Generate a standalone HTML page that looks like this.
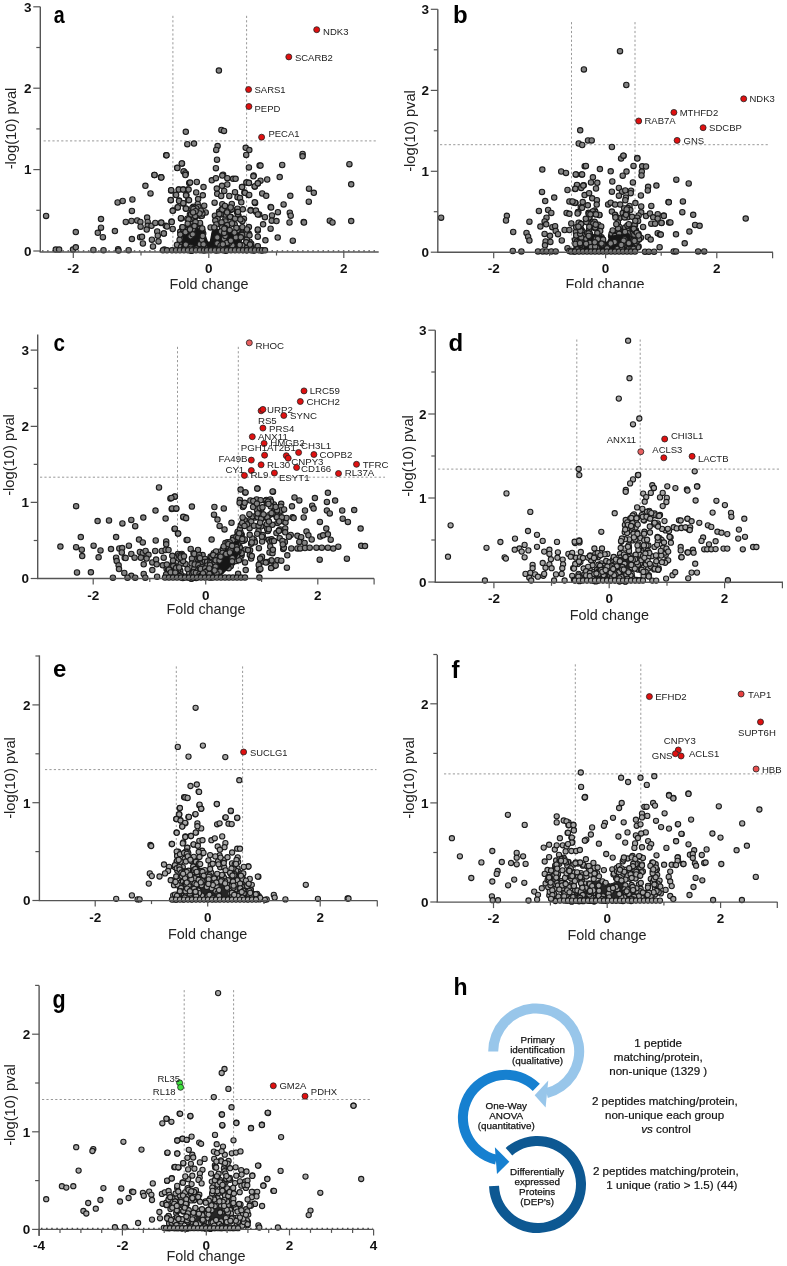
<!DOCTYPE html>
<html><head><meta charset="utf-8"><style>
html,body{margin:0;padding:0;background:#fff;}
svg{display:block;will-change:transform;}
text{font-family:"Liberation Sans", sans-serif;}
</style></head><body>
<svg width="787" height="1266" viewBox="0 0 787 1266">
<rect width="787" height="1266" fill="#fff"/>
<line x1="172.9" y1="15.8" x2="172.9" y2="252" stroke="#999" stroke-width="1" stroke-dasharray="2.2,2.2"/>
<line x1="246.6" y1="15.8" x2="246.6" y2="252" stroke="#999" stroke-width="1" stroke-dasharray="2.2,2.2"/>
<line x1="43.6" y1="140.9" x2="378" y2="140.9" stroke="#999" stroke-width="1" stroke-dasharray="2.2,2.2"/>
<line x1="42" y1="250.8" x2="378" y2="250.8" stroke="#444" stroke-width="1.2" stroke-dasharray="1.5,3.6"/>
<g fill="#838383" stroke="#1a1a1a" stroke-width="1.1">
<circle cx="46.1" cy="215.9" r="2.7"/>
<circle cx="75.8" cy="232.1" r="2.7"/>
<circle cx="55.8" cy="249.6" r="2.7"/>
<circle cx="59.1" cy="249.6" r="2.7"/>
<circle cx="73.0" cy="249.6" r="2.7"/>
<circle cx="75.8" cy="247.3" r="2.7"/>
<circle cx="93.4" cy="250.0" r="2.7"/>
<circle cx="103.5" cy="250.2" r="2.7"/>
<circle cx="118.1" cy="249.2" r="2.7"/>
<circle cx="118.5" cy="250.6" r="2.7"/>
<circle cx="128.6" cy="250.2" r="2.7"/>
<circle cx="101.0" cy="219.1" r="2.7"/>
<circle cx="101.0" cy="227.7" r="2.7"/>
<circle cx="97.8" cy="232.8" r="2.7"/>
<circle cx="102.9" cy="237.2" r="2.7"/>
<circle cx="114.9" cy="231.1" r="2.7"/>
<circle cx="117.6" cy="202.5" r="2.7"/>
<circle cx="122.7" cy="201.0" r="2.7"/>
<circle cx="132.4" cy="199.5" r="2.7"/>
<circle cx="131.9" cy="210.9" r="2.7"/>
<circle cx="125.8" cy="222.0" r="2.7"/>
<circle cx="131.5" cy="221.0" r="2.7"/>
<circle cx="137.2" cy="220.5" r="2.7"/>
<circle cx="131.9" cy="239.1" r="2.7"/>
<circle cx="140.4" cy="222.0" r="2.7"/>
<circle cx="140.6" cy="226.7" r="2.7"/>
<circle cx="140.1" cy="237.2" r="2.7"/>
<circle cx="142.0" cy="236.8" r="2.7"/>
<circle cx="142.9" cy="243.5" r="2.7"/>
<circle cx="147.1" cy="217.6" r="2.7"/>
<circle cx="147.7" cy="222.0" r="2.7"/>
<circle cx="147.7" cy="225.8" r="2.7"/>
<circle cx="146.7" cy="229.6" r="2.7"/>
<circle cx="151.5" cy="225.8" r="2.7"/>
<circle cx="155.3" cy="222.9" r="2.7"/>
<circle cx="161.0" cy="222.9" r="2.7"/>
<circle cx="165.8" cy="225.8" r="2.7"/>
<circle cx="151.9" cy="239.7" r="2.7"/>
<circle cx="153.0" cy="246.4" r="2.7"/>
<circle cx="157.2" cy="231.5" r="2.7"/>
<circle cx="157.8" cy="235.7" r="2.7"/>
<circle cx="158.5" cy="241.4" r="2.7"/>
<circle cx="163.9" cy="233.4" r="2.7"/>
<circle cx="164.3" cy="249.6" r="2.7"/>
<circle cx="145.4" cy="185.8" r="2.7"/>
<circle cx="150.5" cy="193.4" r="2.7"/>
<circle cx="154.4" cy="174.9" r="2.7"/>
<circle cx="161.0" cy="177.2" r="2.7"/>
<circle cx="166.2" cy="155.3" r="2.7"/>
<circle cx="177.2" cy="167.7" r="2.7"/>
<circle cx="182.0" cy="163.5" r="2.7"/>
<circle cx="183.9" cy="171.5" r="2.7"/>
<circle cx="185.8" cy="173.4" r="2.7"/>
<circle cx="185.8" cy="131.8" r="2.7"/>
<circle cx="187.3" cy="144.2" r="2.7"/>
<circle cx="171.1" cy="190.5" r="2.7"/>
<circle cx="175.7" cy="194.7" r="2.7"/>
<circle cx="178.8" cy="189.6" r="2.7"/>
<circle cx="183.3" cy="189.6" r="2.7"/>
<circle cx="187.7" cy="189.6" r="2.7"/>
<circle cx="170.7" cy="200.1" r="2.7"/>
<circle cx="179.1" cy="200.6" r="2.7"/>
<circle cx="183.3" cy="203.5" r="2.7"/>
<circle cx="173.0" cy="210.5" r="2.7"/>
<circle cx="177.6" cy="207.3" r="2.7"/>
<circle cx="185.8" cy="208.6" r="2.7"/>
<circle cx="186.4" cy="195.3" r="2.7"/>
<circle cx="188.3" cy="200.1" r="2.7"/>
<circle cx="171.5" cy="221.6" r="2.7"/>
<circle cx="181.0" cy="218.6" r="2.7"/>
<circle cx="189.2" cy="182.9" r="2.7"/>
<circle cx="218.9" cy="70.6" r="2.7"/>
<circle cx="221.4" cy="129.9" r="2.7"/>
<circle cx="224.0" cy="130.9" r="2.7"/>
<circle cx="194.0" cy="143.6" r="2.7"/>
<circle cx="217.6" cy="146.1" r="2.7"/>
<circle cx="216.2" cy="149.9" r="2.7"/>
<circle cx="217.0" cy="159.7" r="2.7"/>
<circle cx="215.9" cy="168.2" r="2.7"/>
<circle cx="223.1" cy="174.7" r="2.7"/>
<circle cx="166.5" cy="155.3" r="2.7"/>
<circle cx="181.8" cy="163.5" r="2.7"/>
<circle cx="177.3" cy="168.0" r="2.7"/>
<circle cx="183.6" cy="171.4" r="2.7"/>
<circle cx="185.3" cy="173.4" r="2.7"/>
<circle cx="154.5" cy="175.0" r="2.7"/>
<circle cx="161.1" cy="177.3" r="2.7"/>
<circle cx="245.7" cy="147.8" r="2.7"/>
<circle cx="249.3" cy="150.1" r="2.7"/>
<circle cx="246.2" cy="154.9" r="2.7"/>
<circle cx="302.6" cy="154.0" r="2.7"/>
<circle cx="302.6" cy="156.3" r="2.7"/>
<circle cx="349.4" cy="164.2" r="2.7"/>
<circle cx="282.2" cy="165.0" r="2.7"/>
<circle cx="248.9" cy="167.4" r="2.7"/>
<circle cx="259.6" cy="165.6" r="2.7"/>
<circle cx="260.5" cy="165.6" r="2.7"/>
<circle cx="253.7" cy="175.4" r="2.7"/>
<circle cx="279.7" cy="177.1" r="2.7"/>
<circle cx="267.2" cy="179.5" r="2.7"/>
<circle cx="246.8" cy="182.5" r="2.7"/>
<circle cx="248.9" cy="182.8" r="2.7"/>
<circle cx="260.5" cy="180.7" r="2.7"/>
<circle cx="257.8" cy="183.4" r="2.7"/>
<circle cx="254.8" cy="186.6" r="2.7"/>
<circle cx="351.2" cy="184.3" r="2.7"/>
<circle cx="242.1" cy="186.9" r="2.7"/>
<circle cx="309.0" cy="188.7" r="2.7"/>
<circle cx="313.8" cy="192.8" r="2.7"/>
<circle cx="244.4" cy="192.6" r="2.7"/>
<circle cx="248.5" cy="194.9" r="2.7"/>
<circle cx="262.2" cy="193.5" r="2.7"/>
<circle cx="266.2" cy="195.8" r="2.7"/>
<circle cx="290.3" cy="195.8" r="2.7"/>
<circle cx="308.8" cy="201.7" r="2.7"/>
<circle cx="255.1" cy="202.9" r="2.7"/>
<circle cx="283.6" cy="204.4" r="2.7"/>
<circle cx="270.6" cy="206.9" r="2.7"/>
<circle cx="271.1" cy="207.4" r="2.7"/>
<circle cx="250.7" cy="210.0" r="2.7"/>
<circle cx="256.0" cy="211.8" r="2.7"/>
<circle cx="259.2" cy="214.5" r="2.7"/>
<circle cx="277.9" cy="212.2" r="2.7"/>
<circle cx="289.8" cy="212.7" r="2.7"/>
<circle cx="290.7" cy="215.7" r="2.7"/>
<circle cx="272.0" cy="215.4" r="2.7"/>
<circle cx="264.9" cy="217.2" r="2.7"/>
<circle cx="271.7" cy="220.7" r="2.7"/>
<circle cx="276.5" cy="221.1" r="2.7"/>
<circle cx="289.5" cy="222.5" r="2.7"/>
<circle cx="303.7" cy="222.0" r="2.7"/>
<circle cx="304.0" cy="222.5" r="2.7"/>
<circle cx="329.8" cy="220.7" r="2.7"/>
<circle cx="332.5" cy="222.5" r="2.7"/>
<circle cx="351.2" cy="221.1" r="2.7"/>
<circle cx="263.1" cy="224.3" r="2.7"/>
<circle cx="270.6" cy="228.7" r="2.7"/>
<circle cx="257.8" cy="230.5" r="2.7"/>
<circle cx="277.7" cy="237.6" r="2.7"/>
<circle cx="292.8" cy="240.7" r="2.7"/>
<circle cx="265.4" cy="240.3" r="2.7"/>
<circle cx="257.8" cy="236.7" r="2.7"/>
<circle cx="257.4" cy="246.5" r="2.7"/>
<circle cx="261.9" cy="250.6" r="2.7"/>
<circle cx="253.9" cy="250.0" r="2.7"/>
<circle cx="245.3" cy="249.2" r="2.7"/>
<circle cx="161.3" cy="177.5" r="2.7"/>
<circle cx="185.4" cy="175.0" r="2.7"/>
<circle cx="190.1" cy="182.6" r="2.7"/>
<circle cx="196.8" cy="182.0" r="2.7"/>
<circle cx="203.5" cy="187.1" r="2.7"/>
<circle cx="211.8" cy="180.3" r="2.7"/>
<circle cx="215.9" cy="178.2" r="2.7"/>
<circle cx="222.3" cy="175.6" r="2.7"/>
<circle cx="227.3" cy="178.2" r="2.7"/>
<circle cx="233.1" cy="178.8" r="2.7"/>
<circle cx="235.6" cy="178.8" r="2.7"/>
<circle cx="253.4" cy="176.3" r="2.7"/>
<circle cx="246.4" cy="182.6" r="2.7"/>
<circle cx="248.9" cy="182.9" r="2.7"/>
<circle cx="254.7" cy="186.4" r="2.7"/>
<circle cx="257.8" cy="183.3" r="2.7"/>
<circle cx="171.2" cy="190.2" r="2.7"/>
<circle cx="178.8" cy="189.6" r="2.7"/>
<circle cx="183.1" cy="189.6" r="2.7"/>
<circle cx="188.6" cy="189.6" r="2.7"/>
<circle cx="176.1" cy="195.0" r="2.7"/>
<circle cx="186.0" cy="195.3" r="2.7"/>
<circle cx="196.2" cy="192.4" r="2.7"/>
<circle cx="202.8" cy="195.3" r="2.7"/>
<circle cx="216.8" cy="188.6" r="2.7"/>
<circle cx="222.0" cy="185.8" r="2.7"/>
<circle cx="227.3" cy="184.5" r="2.7"/>
<circle cx="217.2" cy="193.8" r="2.7"/>
<circle cx="221.2" cy="196.0" r="2.7"/>
<circle cx="224.2" cy="190.9" r="2.7"/>
<circle cx="229.3" cy="196.0" r="2.7"/>
<circle cx="235.0" cy="192.2" r="2.7"/>
<circle cx="242.0" cy="187.1" r="2.7"/>
<circle cx="244.9" cy="192.8" r="2.7"/>
<circle cx="249.2" cy="195.0" r="2.7"/>
<circle cx="237.5" cy="197.2" r="2.7"/>
<circle cx="240.0" cy="197.9" r="2.7"/>
<circle cx="170.8" cy="200.2" r="2.7"/>
<circle cx="179.1" cy="201.0" r="2.7"/>
<circle cx="183.3" cy="203.2" r="2.7"/>
<circle cx="189.0" cy="200.2" r="2.7"/>
<circle cx="198.1" cy="199.1" r="2.7"/>
<circle cx="197.7" cy="204.0" r="2.7"/>
<circle cx="204.2" cy="205.7" r="2.7"/>
<circle cx="214.6" cy="202.7" r="2.7"/>
<circle cx="222.3" cy="204.2" r="2.7"/>
<circle cx="227.3" cy="207.4" r="2.7"/>
<circle cx="231.8" cy="204.0" r="2.7"/>
<circle cx="237.5" cy="208.7" r="2.7"/>
<circle cx="242.8" cy="209.3" r="2.7"/>
<circle cx="241.3" cy="202.3" r="2.7"/>
<circle cx="254.7" cy="202.3" r="2.7"/>
<circle cx="250.6" cy="210.6" r="2.7"/>
<circle cx="255.9" cy="210.6" r="2.7"/>
<circle cx="257.8" cy="214.4" r="2.7"/>
<circle cx="177.8" cy="207.4" r="2.7"/>
<circle cx="172.7" cy="210.8" r="2.7"/>
<circle cx="186.0" cy="208.7" r="2.7"/>
<circle cx="193.3" cy="206.8" r="2.7"/>
<circle cx="205.7" cy="212.5" r="2.7"/>
<circle cx="189.9" cy="214.4" r="2.7"/>
<circle cx="194.9" cy="212.5" r="2.7"/>
<circle cx="198.1" cy="211.2" r="2.7"/>
<circle cx="181.0" cy="218.2" r="2.7"/>
<circle cx="171.7" cy="222.0" r="2.7"/>
<circle cx="161.3" cy="222.6" r="2.7"/>
<circle cx="167.0" cy="226.5" r="2.7"/>
<circle cx="172.7" cy="229.0" r="2.7"/>
<circle cx="163.8" cy="233.5" r="2.7"/>
<circle cx="214.9" cy="215.7" r="2.7"/>
<circle cx="219.1" cy="211.8" r="2.7"/>
<circle cx="210.6" cy="227.4" r="2.7"/>
<circle cx="243.9" cy="218.8" r="2.7"/>
<circle cx="248.9" cy="227.1" r="2.7"/>
<circle cx="257.8" cy="229.6" r="2.7"/>
<circle cx="249.6" cy="241.7" r="2.7"/>
<circle cx="246.4" cy="238.5" r="2.7"/>
<circle cx="253.4" cy="250.6" r="2.7"/>
<circle cx="257.8" cy="246.2" r="2.7"/>
<circle cx="238.8" cy="247.4" r="2.7"/>
<circle cx="181.8" cy="242.1" r="2.7"/>
<circle cx="187.2" cy="243.7" r="2.7"/>
<circle cx="199.9" cy="231.4" r="2.7"/>
<circle cx="202.6" cy="242.5" r="2.7"/>
<circle cx="189.1" cy="235.9" r="2.7"/>
<circle cx="200.7" cy="216.1" r="2.7"/>
<circle cx="201.9" cy="215.8" r="2.7"/>
<circle cx="192.3" cy="208.0" r="2.7"/>
<circle cx="198.4" cy="210.0" r="2.7"/>
<circle cx="203.2" cy="233.6" r="2.7"/>
<circle cx="198.3" cy="225.8" r="2.7"/>
<circle cx="191.2" cy="214.1" r="2.7"/>
<circle cx="205.4" cy="249.9" r="2.7"/>
<circle cx="198.1" cy="226.7" r="2.7"/>
<circle cx="198.4" cy="207.2" r="2.7"/>
<circle cx="191.9" cy="243.6" r="2.7"/>
<circle cx="192.2" cy="230.9" r="2.7"/>
<circle cx="192.4" cy="223.8" r="2.7"/>
<circle cx="199.3" cy="225.3" r="2.7"/>
<circle cx="194.5" cy="240.9" r="2.7"/>
<circle cx="194.1" cy="218.0" r="2.7"/>
<circle cx="202.6" cy="250.2" r="2.7"/>
<circle cx="184.9" cy="228.2" r="2.7"/>
<circle cx="191.1" cy="250.7" r="2.7"/>
<circle cx="196.9" cy="231.5" r="2.7"/>
<circle cx="182.3" cy="227.3" r="2.7"/>
<circle cx="202.4" cy="230.4" r="2.7"/>
<circle cx="203.6" cy="244.0" r="2.7"/>
<circle cx="177.0" cy="244.8" r="2.7"/>
<circle cx="184.1" cy="247.3" r="2.7"/>
<circle cx="187.2" cy="238.8" r="2.7"/>
<circle cx="191.7" cy="212.4" r="2.7"/>
<circle cx="191.1" cy="244.9" r="2.7"/>
<circle cx="189.2" cy="228.8" r="2.7"/>
<circle cx="189.1" cy="248.3" r="2.7"/>
<circle cx="199.4" cy="243.4" r="2.7"/>
<circle cx="187.3" cy="218.7" r="2.7"/>
<circle cx="202.4" cy="213.6" r="2.7"/>
<circle cx="203.3" cy="246.6" r="2.7"/>
<circle cx="194.6" cy="240.6" r="2.7"/>
<circle cx="180.2" cy="231.8" r="2.7"/>
<circle cx="189.0" cy="234.8" r="2.7"/>
<circle cx="200.8" cy="210.7" r="2.7"/>
<circle cx="199.9" cy="244.0" r="2.7"/>
<circle cx="187.7" cy="230.8" r="2.7"/>
<circle cx="191.6" cy="249.0" r="2.7"/>
<circle cx="197.5" cy="247.6" r="2.7"/>
<circle cx="187.7" cy="232.8" r="2.7"/>
<circle cx="198.3" cy="249.3" r="2.7"/>
<circle cx="201.8" cy="246.7" r="2.7"/>
<circle cx="192.0" cy="233.1" r="2.7"/>
<circle cx="200.1" cy="225.3" r="2.7"/>
<circle cx="204.3" cy="250.2" r="2.7"/>
<circle cx="202.0" cy="247.7" r="2.7"/>
<circle cx="190.9" cy="226.8" r="2.7"/>
<circle cx="182.4" cy="233.8" r="2.7"/>
<circle cx="196.3" cy="208.5" r="2.7"/>
<circle cx="200.0" cy="223.0" r="2.7"/>
<circle cx="198.9" cy="234.2" r="2.7"/>
<circle cx="188.9" cy="230.4" r="2.7"/>
<circle cx="203.4" cy="240.7" r="2.7"/>
<circle cx="189.7" cy="247.1" r="2.7"/>
<circle cx="201.1" cy="245.2" r="2.7"/>
<circle cx="195.5" cy="216.6" r="2.7"/>
<circle cx="205.2" cy="249.5" r="2.7"/>
<circle cx="189.5" cy="230.1" r="2.7"/>
<circle cx="184.0" cy="231.8" r="2.7"/>
<circle cx="191.2" cy="214.4" r="2.7"/>
<circle cx="187.9" cy="229.9" r="2.7"/>
<circle cx="185.9" cy="239.0" r="2.7"/>
<circle cx="182.1" cy="239.6" r="2.7"/>
<circle cx="183.8" cy="231.5" r="2.7"/>
<circle cx="204.0" cy="243.2" r="2.7"/>
<circle cx="183.1" cy="228.9" r="2.7"/>
<circle cx="200.6" cy="247.4" r="2.7"/>
<circle cx="195.2" cy="216.0" r="2.7"/>
<circle cx="191.9" cy="250.4" r="2.7"/>
<circle cx="182.6" cy="227.2" r="2.7"/>
<circle cx="192.3" cy="233.1" r="2.7"/>
<circle cx="192.2" cy="245.7" r="2.7"/>
<circle cx="188.7" cy="240.4" r="2.7"/>
<circle cx="188.5" cy="219.5" r="2.7"/>
<circle cx="199.9" cy="229.0" r="2.7"/>
<circle cx="193.4" cy="209.0" r="2.7"/>
<circle cx="202.8" cy="239.5" r="2.7"/>
<circle cx="199.5" cy="213.5" r="2.7"/>
<circle cx="204.3" cy="243.8" r="2.7"/>
<circle cx="182.2" cy="248.4" r="2.7"/>
<circle cx="193.0" cy="239.4" r="2.7"/>
<circle cx="195.6" cy="211.2" r="2.7"/>
<circle cx="179.6" cy="239.8" r="2.7"/>
<circle cx="192.2" cy="227.7" r="2.7"/>
<circle cx="195.5" cy="222.1" r="2.7"/>
<circle cx="185.8" cy="236.1" r="2.7"/>
<circle cx="181.1" cy="246.9" r="2.7"/>
<circle cx="185.3" cy="243.5" r="2.7"/>
<circle cx="193.1" cy="212.4" r="2.7"/>
<circle cx="187.7" cy="223.7" r="2.7"/>
<circle cx="180.3" cy="234.6" r="2.7"/>
<circle cx="197.7" cy="238.9" r="2.7"/>
<circle cx="221.6" cy="209.5" r="2.7"/>
<circle cx="238.6" cy="216.2" r="2.7"/>
<circle cx="237.0" cy="212.1" r="2.7"/>
<circle cx="223.8" cy="207.9" r="2.7"/>
<circle cx="245.5" cy="246.3" r="2.7"/>
<circle cx="225.5" cy="209.9" r="2.7"/>
<circle cx="251.1" cy="246.1" r="2.7"/>
<circle cx="230.5" cy="210.1" r="2.7"/>
<circle cx="242.1" cy="249.7" r="2.7"/>
<circle cx="224.1" cy="222.0" r="2.7"/>
<circle cx="246.8" cy="239.5" r="2.7"/>
<circle cx="248.7" cy="233.6" r="2.7"/>
<circle cx="221.2" cy="248.7" r="2.7"/>
<circle cx="244.4" cy="244.8" r="2.7"/>
<circle cx="225.4" cy="218.9" r="2.7"/>
<circle cx="251.0" cy="247.6" r="2.7"/>
<circle cx="217.3" cy="235.4" r="2.7"/>
<circle cx="222.0" cy="212.7" r="2.7"/>
<circle cx="232.8" cy="249.3" r="2.7"/>
<circle cx="231.2" cy="208.8" r="2.7"/>
<circle cx="217.6" cy="218.8" r="2.7"/>
<circle cx="225.3" cy="214.6" r="2.7"/>
<circle cx="215.3" cy="220.6" r="2.7"/>
<circle cx="220.7" cy="214.5" r="2.7"/>
<circle cx="215.4" cy="231.1" r="2.7"/>
<circle cx="242.3" cy="221.2" r="2.7"/>
<circle cx="216.4" cy="224.5" r="2.7"/>
<circle cx="222.5" cy="246.5" r="2.7"/>
<circle cx="214.3" cy="227.4" r="2.7"/>
<circle cx="251.2" cy="243.7" r="2.7"/>
<circle cx="230.8" cy="217.1" r="2.7"/>
<circle cx="222.5" cy="230.0" r="2.7"/>
<circle cx="229.6" cy="217.2" r="2.7"/>
<circle cx="213.4" cy="241.0" r="2.7"/>
<circle cx="232.3" cy="223.5" r="2.7"/>
<circle cx="216.6" cy="250.5" r="2.7"/>
<circle cx="229.5" cy="208.2" r="2.7"/>
<circle cx="241.7" cy="229.7" r="2.7"/>
<circle cx="220.6" cy="241.9" r="2.7"/>
<circle cx="241.8" cy="228.5" r="2.7"/>
<circle cx="216.4" cy="243.5" r="2.7"/>
<circle cx="246.5" cy="242.7" r="2.7"/>
<circle cx="229.6" cy="232.8" r="2.7"/>
<circle cx="236.2" cy="238.0" r="2.7"/>
<circle cx="228.6" cy="210.5" r="2.7"/>
<circle cx="225.5" cy="221.4" r="2.7"/>
<circle cx="238.8" cy="228.8" r="2.7"/>
<circle cx="219.5" cy="244.0" r="2.7"/>
<circle cx="238.3" cy="246.2" r="2.7"/>
<circle cx="246.3" cy="234.4" r="2.7"/>
<circle cx="230.1" cy="216.8" r="2.7"/>
<circle cx="249.5" cy="235.3" r="2.7"/>
<circle cx="220.0" cy="245.5" r="2.7"/>
<circle cx="241.8" cy="249.6" r="2.7"/>
<circle cx="227.2" cy="225.1" r="2.7"/>
<circle cx="235.1" cy="218.7" r="2.7"/>
<circle cx="223.9" cy="247.7" r="2.7"/>
<circle cx="245.0" cy="245.8" r="2.7"/>
<circle cx="242.1" cy="235.0" r="2.7"/>
<circle cx="213.6" cy="242.7" r="2.7"/>
<circle cx="220.0" cy="234.0" r="2.7"/>
<circle cx="237.9" cy="214.2" r="2.7"/>
<circle cx="216.3" cy="240.0" r="2.7"/>
<circle cx="224.9" cy="228.1" r="2.7"/>
<circle cx="237.4" cy="229.7" r="2.7"/>
<circle cx="246.2" cy="242.3" r="2.7"/>
<circle cx="222.4" cy="209.5" r="2.7"/>
<circle cx="231.2" cy="247.8" r="2.7"/>
<circle cx="221.6" cy="241.2" r="2.7"/>
<circle cx="230.2" cy="248.9" r="2.7"/>
<circle cx="242.9" cy="250.0" r="2.7"/>
<circle cx="250.0" cy="244.6" r="2.7"/>
<circle cx="223.5" cy="229.7" r="2.7"/>
<circle cx="231.8" cy="209.3" r="2.7"/>
<circle cx="219.4" cy="245.2" r="2.7"/>
<circle cx="233.3" cy="235.8" r="2.7"/>
<circle cx="246.0" cy="248.2" r="2.7"/>
<circle cx="221.6" cy="222.4" r="2.7"/>
<circle cx="237.5" cy="242.5" r="2.7"/>
<circle cx="227.1" cy="212.4" r="2.7"/>
<circle cx="238.0" cy="211.9" r="2.7"/>
<circle cx="221.0" cy="247.0" r="2.7"/>
<circle cx="240.4" cy="219.4" r="2.7"/>
<circle cx="214.8" cy="234.7" r="2.7"/>
<circle cx="230.6" cy="207.5" r="2.7"/>
<circle cx="242.4" cy="227.2" r="2.7"/>
<circle cx="246.5" cy="250.2" r="2.7"/>
<circle cx="237.4" cy="230.5" r="2.7"/>
<circle cx="247.0" cy="229.5" r="2.7"/>
<circle cx="225.7" cy="250.8" r="2.7"/>
<circle cx="224.2" cy="233.7" r="2.7"/>
<circle cx="225.0" cy="205.9" r="2.7"/>
<circle cx="234.7" cy="224.5" r="2.7"/>
<circle cx="212.8" cy="243.2" r="2.7"/>
<circle cx="238.8" cy="240.3" r="2.7"/>
<circle cx="232.0" cy="233.4" r="2.7"/>
<circle cx="222.0" cy="227.6" r="2.7"/>
<circle cx="236.4" cy="227.9" r="2.7"/>
<circle cx="232.0" cy="223.5" r="2.7"/>
<circle cx="219.3" cy="214.1" r="2.7"/>
</g>
<polygon points="182,250 185,234 195,228 203,232 207,243 211,243 213,232 225,229 238,234 241,250" fill="#161616" stroke="#161616" stroke-width="3" stroke-linejoin="round"/>
<g fill="#838383" stroke="#1a1a1a" stroke-width="1.1">
<circle cx="199.9" cy="244.2" r="2.7"/>
<circle cx="185.5" cy="232.2" r="2.7"/>
<circle cx="204.6" cy="247.4" r="2.7"/>
<circle cx="201.9" cy="239.8" r="2.7"/>
<circle cx="224.0" cy="238.8" r="2.7"/>
<circle cx="225.4" cy="236.0" r="2.7"/>
<circle cx="194.1" cy="226.3" r="2.7"/>
<circle cx="190.6" cy="236.3" r="2.7"/>
<circle cx="217.3" cy="243.4" r="2.7"/>
<circle cx="220.5" cy="245.4" r="2.7"/>
<circle cx="235.9" cy="237.4" r="2.7"/>
<circle cx="185.8" cy="244.7" r="2.7"/>
<circle cx="203.5" cy="244.5" r="2.7"/>
<circle cx="192.9" cy="229.0" r="2.7"/>
<circle cx="240.8" cy="237.3" r="2.7"/>
<circle cx="201.2" cy="248.9" r="2.7"/>
<circle cx="190.7" cy="246.9" r="2.7"/>
<circle cx="201.2" cy="249.3" r="2.7"/>
<circle cx="230.9" cy="240.7" r="2.7"/>
<circle cx="232.4" cy="245.4" r="2.7"/>
<circle cx="242.2" cy="245.3" r="2.7"/>
<circle cx="221.0" cy="231.5" r="2.7"/>
<circle cx="229.2" cy="242.7" r="2.7"/>
<circle cx="234.4" cy="232.6" r="2.7"/>
<circle cx="229.7" cy="230.1" r="2.7"/>
<circle cx="196.5" cy="248.7" r="2.7"/>
<circle cx="202.7" cy="236.0" r="2.7"/>
<circle cx="194.5" cy="226.1" r="2.7"/>
<circle cx="222.3" cy="247.5" r="2.7"/>
<circle cx="192.7" cy="234.3" r="2.7"/>
<circle cx="226.9" cy="242.9" r="2.7"/>
<circle cx="224.2" cy="232.9" r="2.7"/>
<circle cx="239.7" cy="244.9" r="2.7"/>
<circle cx="230.8" cy="240.7" r="2.7"/>
<circle cx="190.9" cy="248.7" r="2.7"/>
<circle cx="217.3" cy="237.4" r="2.7"/>
<circle cx="222.8" cy="244.3" r="2.7"/>
<circle cx="190.0" cy="229.5" r="2.7"/>
<circle cx="202.2" cy="228.4" r="2.7"/>
<circle cx="224.3" cy="228.7" r="2.7"/>
<circle cx="163.0" cy="250.3" r="2.7"/>
<circle cx="167.0" cy="250.3" r="2.7"/>
<circle cx="172.0" cy="250.3" r="2.7"/>
<circle cx="176.0" cy="250.3" r="2.7"/>
<circle cx="180.0" cy="250.3" r="2.7"/>
<circle cx="184.0" cy="250.3" r="2.7"/>
<circle cx="188.0" cy="250.3" r="2.7"/>
<circle cx="192.0" cy="250.3" r="2.7"/>
<circle cx="196.0" cy="250.3" r="2.7"/>
<circle cx="200.0" cy="250.3" r="2.7"/>
<circle cx="204.0" cy="250.3" r="2.7"/>
<circle cx="207.0" cy="250.3" r="2.7"/>
<circle cx="211.0" cy="250.3" r="2.7"/>
<circle cx="215.0" cy="250.3" r="2.7"/>
<circle cx="219.0" cy="250.3" r="2.7"/>
<circle cx="223.0" cy="250.3" r="2.7"/>
<circle cx="227.0" cy="250.3" r="2.7"/>
<circle cx="231.0" cy="250.3" r="2.7"/>
<circle cx="235.0" cy="250.3" r="2.7"/>
<circle cx="239.0" cy="250.3" r="2.7"/>
<circle cx="243.0" cy="250.3" r="2.7"/>
<circle cx="247.0" cy="250.3" r="2.7"/>
<circle cx="251.0" cy="250.3" r="2.7"/>
<circle cx="255.0" cy="250.3" r="2.7"/>
<circle cx="259.0" cy="250.3" r="2.7"/>
<circle cx="262.0" cy="250.3" r="2.7"/>
<circle cx="265.0" cy="250.3" r="2.7"/>
</g>
<circle cx="316.7" cy="29.7" r="3.0" fill="#e01010" stroke="#222" stroke-width="0.8"/>
<circle cx="288.8" cy="56.9" r="3.0" fill="#e01010" stroke="#222" stroke-width="0.8"/>
<circle cx="248.6" cy="89.5" r="3.0" fill="#e01010" stroke="#222" stroke-width="0.8"/>
<circle cx="248.9" cy="106.5" r="3.0" fill="#e01010" stroke="#222" stroke-width="0.8"/>
<circle cx="261.6" cy="137.2" r="3.0" fill="#e01010" stroke="#222" stroke-width="0.8"/>
<text x="323.1" y="34.5" font-size="9.5" fill="#222">NDK3</text>
<text x="294.9" y="60.5" font-size="9.5" fill="#222">SCARB2</text>
<text x="254.5" y="93" font-size="9.5" fill="#222">SARS1</text>
<text x="254.5" y="112" font-size="9.5" fill="#222">PEPD</text>
<text x="268.4" y="137" font-size="9.5" fill="#222">PECA1</text>
<line x1="40.3" y1="6.7" x2="40.3" y2="252" stroke="#555" stroke-width="1.4"/>
<line x1="39.599999999999994" y1="252" x2="378.7" y2="252" stroke="#555" stroke-width="1.4"/>
<line x1="33.3" y1="251" x2="40.3" y2="251" stroke="#555" stroke-width="1.2"/>
<text x="31.499999999999996" y="255.8" font-size="13.5" font-weight="bold" text-anchor="end" fill="#111">0</text>
<line x1="36.3" y1="210.3" x2="40.3" y2="210.3" stroke="#555" stroke-width="1.2"/>
<line x1="33.3" y1="169.6" x2="40.3" y2="169.6" stroke="#555" stroke-width="1.2"/>
<text x="31.499999999999996" y="174.4" font-size="13.5" font-weight="bold" text-anchor="end" fill="#111">1</text>
<line x1="36.3" y1="128.9" x2="40.3" y2="128.9" stroke="#555" stroke-width="1.2"/>
<line x1="33.3" y1="88.2" x2="40.3" y2="88.2" stroke="#555" stroke-width="1.2"/>
<text x="31.499999999999996" y="93.0" font-size="13.5" font-weight="bold" text-anchor="end" fill="#111">2</text>
<line x1="36.3" y1="47.5" x2="40.3" y2="47.5" stroke="#555" stroke-width="1.2"/>
<line x1="33.3" y1="6.8" x2="40.3" y2="6.8" stroke="#555" stroke-width="1.2"/>
<text x="31.499999999999996" y="11.6" font-size="13.5" font-weight="bold" text-anchor="end" fill="#111">3</text>
<line x1="73.3" y1="252" x2="73.3" y2="258" stroke="#555" stroke-width="1.2"/>
<text x="73.3" y="273" font-size="13.5" font-weight="bold" text-anchor="middle" fill="#111">-2</text>
<line x1="141" y1="252" x2="141" y2="255.5" stroke="#555" stroke-width="1.2"/>
<line x1="208.8" y1="252" x2="208.8" y2="258" stroke="#555" stroke-width="1.2"/>
<text x="208.8" y="273" font-size="13.5" font-weight="bold" text-anchor="middle" fill="#111">0</text>
<line x1="276.5" y1="252" x2="276.5" y2="255.5" stroke="#555" stroke-width="1.2"/>
<line x1="343.8" y1="252" x2="343.8" y2="258" stroke="#555" stroke-width="1.2"/>
<text x="343.8" y="273" font-size="13.5" font-weight="bold" text-anchor="middle" fill="#111">2</text>
<text x="209" y="289" font-size="14.4" text-anchor="middle" fill="#222">Fold change</text>
<text transform="translate(15.5,128.5) rotate(-90)" font-size="14.7" text-anchor="middle" fill="#222">-log(10) pval</text>
<text transform="translate(53.7,22.6) scale(0.82,1)" font-size="24" font-weight="bold" font-family=""Liberation Sans", sans-serif" fill="#000">a</text>
<clipPath id="clipb"><rect x="394" y="0" width="393" height="288"/></clipPath><g clip-path="url(#clipb)"><line x1="571.5" y1="22.1" x2="571.5" y2="252.2" stroke="#999" stroke-width="1" stroke-dasharray="2.2,2.2"/>
<line x1="635" y1="22.1" x2="635" y2="252.2" stroke="#999" stroke-width="1" stroke-dasharray="2.2,2.2"/>
<line x1="440" y1="144.7" x2="768.3" y2="144.7" stroke="#999" stroke-width="1" stroke-dasharray="2.2,2.2"/>
<g fill="#838383" stroke="#1a1a1a" stroke-width="1.1">
<circle cx="620.0" cy="51.2" r="2.7"/>
<circle cx="583.9" cy="69.4" r="2.7"/>
<circle cx="626.3" cy="85.0" r="2.7"/>
<circle cx="580.2" cy="130.3" r="2.7"/>
<circle cx="588.0" cy="140.4" r="2.7"/>
<circle cx="591.7" cy="140.4" r="2.7"/>
<circle cx="578.7" cy="143.5" r="2.7"/>
<circle cx="582.2" cy="145.0" r="2.7"/>
<circle cx="611.9" cy="147.0" r="2.7"/>
<circle cx="623.5" cy="155.7" r="2.7"/>
<circle cx="621.1" cy="158.5" r="2.7"/>
<circle cx="637.3" cy="158.0" r="2.7"/>
<circle cx="441.1" cy="217.7" r="2.7"/>
<circle cx="506.9" cy="215.8" r="2.7"/>
<circle cx="506.0" cy="220.5" r="2.7"/>
<circle cx="513.2" cy="232.0" r="2.7"/>
<circle cx="521.4" cy="251.4" r="2.7"/>
<circle cx="512.8" cy="251.0" r="2.7"/>
<circle cx="529.4" cy="221.7" r="2.7"/>
<circle cx="526.5" cy="232.9" r="2.7"/>
<circle cx="528.1" cy="236.7" r="2.7"/>
<circle cx="529.4" cy="240.5" r="2.7"/>
<circle cx="542.3" cy="169.6" r="2.7"/>
<circle cx="542.0" cy="191.9" r="2.7"/>
<circle cx="545.2" cy="201.1" r="2.7"/>
<circle cx="554.2" cy="197.6" r="2.7"/>
<circle cx="538.9" cy="211.0" r="2.7"/>
<circle cx="548.1" cy="210.0" r="2.7"/>
<circle cx="551.3" cy="212.9" r="2.7"/>
<circle cx="546.5" cy="217.7" r="2.7"/>
<circle cx="544.6" cy="221.5" r="2.7"/>
<circle cx="546.2" cy="224.3" r="2.7"/>
<circle cx="540.4" cy="226.6" r="2.7"/>
<circle cx="552.3" cy="227.2" r="2.7"/>
<circle cx="555.1" cy="226.2" r="2.7"/>
<circle cx="555.7" cy="231.0" r="2.7"/>
<circle cx="544.6" cy="233.9" r="2.7"/>
<circle cx="550.0" cy="235.8" r="2.7"/>
<circle cx="558.0" cy="234.2" r="2.7"/>
<circle cx="545.6" cy="241.5" r="2.7"/>
<circle cx="550.4" cy="241.9" r="2.7"/>
<circle cx="545.0" cy="245.3" r="2.7"/>
<circle cx="561.8" cy="240.5" r="2.7"/>
<circle cx="538.0" cy="251.4" r="2.7"/>
<circle cx="542.7" cy="251.4" r="2.7"/>
<circle cx="546.5" cy="251.4" r="2.7"/>
<circle cx="551.3" cy="251.4" r="2.7"/>
<circle cx="555.7" cy="251.4" r="2.7"/>
<circle cx="561.2" cy="171.5" r="2.7"/>
<circle cx="566.0" cy="172.9" r="2.7"/>
<circle cx="576.1" cy="174.4" r="2.7"/>
<circle cx="581.8" cy="174.4" r="2.7"/>
<circle cx="567.5" cy="190.0" r="2.7"/>
<circle cx="575.1" cy="189.1" r="2.7"/>
<circle cx="577.0" cy="185.3" r="2.7"/>
<circle cx="581.2" cy="187.2" r="2.7"/>
<circle cx="583.7" cy="185.3" r="2.7"/>
<circle cx="584.7" cy="166.2" r="2.7"/>
<circle cx="569.4" cy="201.5" r="2.7"/>
<circle cx="573.2" cy="202.4" r="2.7"/>
<circle cx="575.5" cy="203.0" r="2.7"/>
<circle cx="566.6" cy="212.9" r="2.7"/>
<circle cx="569.4" cy="213.8" r="2.7"/>
<circle cx="578.0" cy="212.0" r="2.7"/>
<circle cx="580.8" cy="207.2" r="2.7"/>
<circle cx="564.6" cy="230.0" r="2.7"/>
<circle cx="569.4" cy="230.0" r="2.7"/>
<circle cx="571.3" cy="223.4" r="2.7"/>
<circle cx="567.5" cy="248.2" r="2.7"/>
<circle cx="569.4" cy="251.0" r="2.7"/>
<circle cx="574.2" cy="251.4" r="2.7"/>
<circle cx="623.4" cy="155.7" r="2.7"/>
<circle cx="637.3" cy="158.5" r="2.7"/>
<circle cx="585.9" cy="165.9" r="2.7"/>
<circle cx="599.9" cy="169.1" r="2.7"/>
<circle cx="610.7" cy="171.3" r="2.7"/>
<circle cx="626.5" cy="171.6" r="2.7"/>
<circle cx="622.7" cy="175.7" r="2.7"/>
<circle cx="633.5" cy="165.9" r="2.7"/>
<circle cx="642.2" cy="166.3" r="2.7"/>
<circle cx="646.0" cy="166.5" r="2.7"/>
<circle cx="641.8" cy="171.6" r="2.7"/>
<circle cx="641.5" cy="175.4" r="2.7"/>
<circle cx="575.7" cy="174.4" r="2.7"/>
<circle cx="582.1" cy="174.4" r="2.7"/>
<circle cx="592.9" cy="177.3" r="2.7"/>
<circle cx="591.0" cy="182.4" r="2.7"/>
<circle cx="597.3" cy="182.8" r="2.7"/>
<circle cx="596.0" cy="188.5" r="2.7"/>
<circle cx="612.3" cy="181.5" r="2.7"/>
<circle cx="632.9" cy="182.4" r="2.7"/>
<circle cx="577.0" cy="184.9" r="2.7"/>
<circle cx="575.3" cy="188.8" r="2.7"/>
<circle cx="581.2" cy="187.9" r="2.7"/>
<circle cx="583.3" cy="185.6" r="2.7"/>
<circle cx="611.9" cy="191.7" r="2.7"/>
<circle cx="618.9" cy="187.9" r="2.7"/>
<circle cx="622.1" cy="191.7" r="2.7"/>
<circle cx="625.3" cy="190.4" r="2.7"/>
<circle cx="631.0" cy="190.7" r="2.7"/>
<circle cx="630.7" cy="193.2" r="2.7"/>
<circle cx="648.1" cy="186.8" r="2.7"/>
<circle cx="647.8" cy="190.4" r="2.7"/>
<circle cx="656.4" cy="185.6" r="2.7"/>
<circle cx="640.9" cy="195.5" r="2.7"/>
<circle cx="618.9" cy="195.7" r="2.7"/>
<circle cx="625.9" cy="197.6" r="2.7"/>
<circle cx="584.6" cy="195.1" r="2.7"/>
<circle cx="589.1" cy="193.2" r="2.7"/>
<circle cx="592.2" cy="198.3" r="2.7"/>
<circle cx="596.9" cy="200.2" r="2.7"/>
<circle cx="596.7" cy="204.6" r="2.7"/>
<circle cx="575.1" cy="202.7" r="2.7"/>
<circle cx="572.5" cy="201.5" r="2.7"/>
<circle cx="582.7" cy="202.1" r="2.7"/>
<circle cx="587.8" cy="205.3" r="2.7"/>
<circle cx="582.1" cy="207.8" r="2.7"/>
<circle cx="608.1" cy="204.4" r="2.7"/>
<circle cx="610.7" cy="202.7" r="2.7"/>
<circle cx="615.1" cy="204.6" r="2.7"/>
<circle cx="620.2" cy="204.6" r="2.7"/>
<circle cx="625.3" cy="200.2" r="2.7"/>
<circle cx="629.5" cy="205.9" r="2.7"/>
<circle cx="635.4" cy="203.1" r="2.7"/>
<circle cx="641.2" cy="206.5" r="2.7"/>
<circle cx="651.3" cy="205.9" r="2.7"/>
<circle cx="668.5" cy="202.1" r="2.7"/>
<circle cx="641.2" cy="212.3" r="2.7"/>
<circle cx="638.6" cy="215.4" r="2.7"/>
<circle cx="646.0" cy="216.1" r="2.7"/>
<circle cx="650.0" cy="213.5" r="2.7"/>
<circle cx="653.2" cy="217.3" r="2.7"/>
<circle cx="657.7" cy="214.2" r="2.7"/>
<circle cx="663.8" cy="215.4" r="2.7"/>
<circle cx="657.7" cy="218.6" r="2.7"/>
<circle cx="651.3" cy="223.7" r="2.7"/>
<circle cx="655.1" cy="223.7" r="2.7"/>
<circle cx="661.5" cy="222.7" r="2.7"/>
<circle cx="669.1" cy="222.4" r="2.7"/>
<circle cx="643.1" cy="226.9" r="2.7"/>
<circle cx="657.7" cy="233.2" r="2.7"/>
<circle cx="660.0" cy="234.5" r="2.7"/>
<circle cx="647.8" cy="237.0" r="2.7"/>
<circle cx="650.7" cy="239.6" r="2.7"/>
<circle cx="640.9" cy="237.7" r="2.7"/>
<circle cx="659.6" cy="247.2" r="2.7"/>
<circle cx="645.0" cy="251.7" r="2.7"/>
<circle cx="648.8" cy="251.7" r="2.7"/>
<circle cx="654.1" cy="251.7" r="2.7"/>
<circle cx="578.3" cy="212.3" r="2.7"/>
<circle cx="577.6" cy="213.5" r="2.7"/>
<circle cx="611.9" cy="211.6" r="2.7"/>
<circle cx="615.1" cy="214.8" r="2.7"/>
<circle cx="676.3" cy="179.7" r="2.7"/>
<circle cx="688.7" cy="183.5" r="2.7"/>
<circle cx="668.8" cy="202.3" r="2.7"/>
<circle cx="682.9" cy="201.4" r="2.7"/>
<circle cx="682.3" cy="212.2" r="2.7"/>
<circle cx="693.2" cy="214.8" r="2.7"/>
<circle cx="663.8" cy="215.9" r="2.7"/>
<circle cx="661.5" cy="222.9" r="2.7"/>
<circle cx="670.4" cy="222.4" r="2.7"/>
<circle cx="695.1" cy="225.0" r="2.7"/>
<circle cx="699.6" cy="225.8" r="2.7"/>
<circle cx="689.4" cy="231.6" r="2.7"/>
<circle cx="676.0" cy="234.3" r="2.7"/>
<circle cx="660.8" cy="234.6" r="2.7"/>
<circle cx="684.7" cy="243.3" r="2.7"/>
<circle cx="673.7" cy="251.4" r="2.7"/>
<circle cx="676.0" cy="251.4" r="2.7"/>
<circle cx="698.1" cy="251.4" r="2.7"/>
<circle cx="704.2" cy="251.4" r="2.7"/>
<circle cx="745.7" cy="218.6" r="2.7"/>
<circle cx="585.0" cy="244.1" r="2.7"/>
<circle cx="588.7" cy="239.9" r="2.7"/>
<circle cx="595.0" cy="212.7" r="2.7"/>
<circle cx="589.4" cy="218.0" r="2.7"/>
<circle cx="575.1" cy="250.2" r="2.7"/>
<circle cx="595.9" cy="224.8" r="2.7"/>
<circle cx="598.1" cy="242.4" r="2.7"/>
<circle cx="597.1" cy="245.6" r="2.7"/>
<circle cx="589.1" cy="244.1" r="2.7"/>
<circle cx="590.8" cy="226.5" r="2.7"/>
<circle cx="591.7" cy="243.3" r="2.7"/>
<circle cx="582.3" cy="231.0" r="2.7"/>
<circle cx="577.9" cy="232.2" r="2.7"/>
<circle cx="595.4" cy="226.8" r="2.7"/>
<circle cx="577.2" cy="246.1" r="2.7"/>
<circle cx="597.9" cy="243.9" r="2.7"/>
<circle cx="578.9" cy="251.0" r="2.7"/>
<circle cx="589.3" cy="217.3" r="2.7"/>
<circle cx="599.0" cy="248.8" r="2.7"/>
<circle cx="602.2" cy="239.3" r="2.7"/>
<circle cx="590.4" cy="225.3" r="2.7"/>
<circle cx="594.6" cy="210.5" r="2.7"/>
<circle cx="575.9" cy="231.9" r="2.7"/>
<circle cx="584.2" cy="250.6" r="2.7"/>
<circle cx="595.3" cy="211.8" r="2.7"/>
<circle cx="592.8" cy="211.4" r="2.7"/>
<circle cx="598.3" cy="224.7" r="2.7"/>
<circle cx="575.0" cy="240.1" r="2.7"/>
<circle cx="595.2" cy="223.8" r="2.7"/>
<circle cx="580.4" cy="245.2" r="2.7"/>
<circle cx="584.2" cy="238.3" r="2.7"/>
<circle cx="601.5" cy="237.3" r="2.7"/>
<circle cx="577.8" cy="245.1" r="2.7"/>
<circle cx="595.0" cy="214.0" r="2.7"/>
<circle cx="576.7" cy="241.7" r="2.7"/>
<circle cx="577.6" cy="245.7" r="2.7"/>
<circle cx="580.9" cy="228.7" r="2.7"/>
<circle cx="580.8" cy="237.2" r="2.7"/>
<circle cx="594.6" cy="221.8" r="2.7"/>
<circle cx="589.1" cy="229.7" r="2.7"/>
<circle cx="593.9" cy="247.2" r="2.7"/>
<circle cx="602.5" cy="239.2" r="2.7"/>
<circle cx="579.4" cy="237.3" r="2.7"/>
<circle cx="575.5" cy="250.7" r="2.7"/>
<circle cx="582.0" cy="240.5" r="2.7"/>
<circle cx="585.1" cy="234.9" r="2.7"/>
<circle cx="591.1" cy="250.1" r="2.7"/>
<circle cx="588.7" cy="243.7" r="2.7"/>
<circle cx="589.6" cy="224.3" r="2.7"/>
<circle cx="599.4" cy="215.0" r="2.7"/>
<circle cx="579.5" cy="222.9" r="2.7"/>
<circle cx="589.9" cy="233.7" r="2.7"/>
<circle cx="588.5" cy="212.8" r="2.7"/>
<circle cx="590.7" cy="249.6" r="2.7"/>
<circle cx="599.3" cy="215.0" r="2.7"/>
<circle cx="593.3" cy="223.7" r="2.7"/>
<circle cx="598.6" cy="235.2" r="2.7"/>
<circle cx="586.3" cy="222.1" r="2.7"/>
<circle cx="578.7" cy="236.0" r="2.7"/>
<circle cx="581.3" cy="237.5" r="2.7"/>
<circle cx="594.6" cy="238.9" r="2.7"/>
<circle cx="590.5" cy="250.4" r="2.7"/>
<circle cx="578.8" cy="243.9" r="2.7"/>
<circle cx="595.7" cy="241.2" r="2.7"/>
<circle cx="576.2" cy="227.3" r="2.7"/>
<circle cx="579.6" cy="249.6" r="2.7"/>
<circle cx="588.1" cy="237.2" r="2.7"/>
<circle cx="595.7" cy="246.8" r="2.7"/>
<circle cx="598.4" cy="246.4" r="2.7"/>
<circle cx="585.0" cy="250.7" r="2.7"/>
<circle cx="601.2" cy="226.5" r="2.7"/>
<circle cx="578.6" cy="222.7" r="2.7"/>
<circle cx="579.5" cy="228.1" r="2.7"/>
<circle cx="586.3" cy="239.1" r="2.7"/>
<circle cx="596.0" cy="214.4" r="2.7"/>
<circle cx="576.2" cy="235.4" r="2.7"/>
<circle cx="594.7" cy="244.6" r="2.7"/>
<circle cx="593.1" cy="244.7" r="2.7"/>
<circle cx="576.8" cy="243.5" r="2.7"/>
<circle cx="581.6" cy="248.5" r="2.7"/>
<circle cx="580.1" cy="233.7" r="2.7"/>
<circle cx="583.5" cy="246.2" r="2.7"/>
<circle cx="580.4" cy="230.8" r="2.7"/>
<circle cx="577.4" cy="249.5" r="2.7"/>
<circle cx="588.8" cy="213.9" r="2.7"/>
<circle cx="590.4" cy="214.3" r="2.7"/>
<circle cx="587.2" cy="232.9" r="2.7"/>
<circle cx="594.5" cy="244.1" r="2.7"/>
<circle cx="579.2" cy="226.6" r="2.7"/>
<circle cx="585.8" cy="218.8" r="2.7"/>
<circle cx="589.3" cy="226.8" r="2.7"/>
<circle cx="600.2" cy="231.1" r="2.7"/>
<circle cx="580.4" cy="244.7" r="2.7"/>
<circle cx="597.3" cy="233.1" r="2.7"/>
<circle cx="602.7" cy="241.8" r="2.7"/>
<circle cx="584.1" cy="246.1" r="2.7"/>
<circle cx="592.8" cy="239.9" r="2.7"/>
<circle cx="594.8" cy="245.5" r="2.7"/>
<circle cx="594.8" cy="228.1" r="2.7"/>
<circle cx="595.2" cy="227.4" r="2.7"/>
<circle cx="581.1" cy="244.3" r="2.7"/>
<circle cx="592.6" cy="239.6" r="2.7"/>
<circle cx="595.7" cy="224.7" r="2.7"/>
<circle cx="590.4" cy="245.5" r="2.7"/>
<circle cx="593.0" cy="242.9" r="2.7"/>
<circle cx="581.5" cy="242.7" r="2.7"/>
<circle cx="575.4" cy="244.0" r="2.7"/>
<circle cx="581.1" cy="224.1" r="2.7"/>
<circle cx="580.0" cy="243.2" r="2.7"/>
<circle cx="578.4" cy="226.7" r="2.7"/>
<circle cx="632.4" cy="244.8" r="2.7"/>
<circle cx="628.8" cy="237.2" r="2.7"/>
<circle cx="624.0" cy="231.1" r="2.7"/>
<circle cx="635.9" cy="242.3" r="2.7"/>
<circle cx="638.9" cy="239.6" r="2.7"/>
<circle cx="627.2" cy="214.3" r="2.7"/>
<circle cx="635.9" cy="230.3" r="2.7"/>
<circle cx="635.9" cy="241.4" r="2.7"/>
<circle cx="633.4" cy="234.8" r="2.7"/>
<circle cx="633.8" cy="225.9" r="2.7"/>
<circle cx="631.1" cy="230.1" r="2.7"/>
<circle cx="627.9" cy="249.8" r="2.7"/>
<circle cx="636.6" cy="238.5" r="2.7"/>
<circle cx="627.6" cy="217.3" r="2.7"/>
<circle cx="635.0" cy="225.1" r="2.7"/>
<circle cx="620.5" cy="244.9" r="2.7"/>
<circle cx="623.8" cy="237.7" r="2.7"/>
<circle cx="614.7" cy="240.2" r="2.7"/>
<circle cx="638.5" cy="234.0" r="2.7"/>
<circle cx="635.2" cy="232.2" r="2.7"/>
<circle cx="631.3" cy="226.6" r="2.7"/>
<circle cx="618.6" cy="248.0" r="2.7"/>
<circle cx="629.2" cy="247.7" r="2.7"/>
<circle cx="619.3" cy="218.3" r="2.7"/>
<circle cx="625.7" cy="233.1" r="2.7"/>
<circle cx="627.7" cy="208.1" r="2.7"/>
<circle cx="613.2" cy="248.8" r="2.7"/>
<circle cx="638.6" cy="246.6" r="2.7"/>
<circle cx="618.0" cy="249.8" r="2.7"/>
<circle cx="620.6" cy="242.6" r="2.7"/>
<circle cx="618.2" cy="248.6" r="2.7"/>
<circle cx="615.0" cy="233.6" r="2.7"/>
<circle cx="611.1" cy="236.3" r="2.7"/>
<circle cx="634.4" cy="242.5" r="2.7"/>
<circle cx="634.9" cy="237.1" r="2.7"/>
<circle cx="624.8" cy="230.3" r="2.7"/>
<circle cx="617.3" cy="230.8" r="2.7"/>
<circle cx="627.4" cy="228.9" r="2.7"/>
<circle cx="636.7" cy="241.6" r="2.7"/>
<circle cx="618.5" cy="246.3" r="2.7"/>
<circle cx="619.3" cy="229.5" r="2.7"/>
<circle cx="612.2" cy="236.9" r="2.7"/>
<circle cx="636.1" cy="247.5" r="2.7"/>
<circle cx="625.2" cy="242.1" r="2.7"/>
<circle cx="624.2" cy="208.5" r="2.7"/>
<circle cx="613.4" cy="233.9" r="2.7"/>
<circle cx="633.7" cy="228.4" r="2.7"/>
<circle cx="638.0" cy="247.3" r="2.7"/>
<circle cx="629.7" cy="248.5" r="2.7"/>
<circle cx="627.0" cy="240.5" r="2.7"/>
<circle cx="627.8" cy="235.6" r="2.7"/>
<circle cx="611.5" cy="243.9" r="2.7"/>
<circle cx="634.5" cy="244.6" r="2.7"/>
<circle cx="639.0" cy="239.2" r="2.7"/>
<circle cx="612.8" cy="232.4" r="2.7"/>
<circle cx="612.6" cy="243.1" r="2.7"/>
<circle cx="637.1" cy="217.7" r="2.7"/>
<circle cx="634.5" cy="239.3" r="2.7"/>
<circle cx="611.6" cy="233.7" r="2.7"/>
<circle cx="628.7" cy="249.4" r="2.7"/>
<circle cx="614.9" cy="236.1" r="2.7"/>
<circle cx="625.2" cy="227.6" r="2.7"/>
<circle cx="629.1" cy="225.1" r="2.7"/>
<circle cx="619.4" cy="226.9" r="2.7"/>
<circle cx="632.1" cy="233.8" r="2.7"/>
<circle cx="617.9" cy="222.3" r="2.7"/>
<circle cx="611.6" cy="244.1" r="2.7"/>
<circle cx="622.7" cy="213.1" r="2.7"/>
<circle cx="638.0" cy="234.1" r="2.7"/>
<circle cx="634.5" cy="224.9" r="2.7"/>
<circle cx="616.2" cy="217.0" r="2.7"/>
<circle cx="628.8" cy="249.0" r="2.7"/>
<circle cx="618.1" cy="228.4" r="2.7"/>
<circle cx="624.0" cy="233.6" r="2.7"/>
<circle cx="634.3" cy="234.7" r="2.7"/>
<circle cx="623.0" cy="247.4" r="2.7"/>
<circle cx="634.5" cy="241.0" r="2.7"/>
<circle cx="616.4" cy="249.0" r="2.7"/>
<circle cx="627.6" cy="230.9" r="2.7"/>
<circle cx="619.2" cy="243.4" r="2.7"/>
<circle cx="627.7" cy="232.9" r="2.7"/>
<circle cx="625.8" cy="248.8" r="2.7"/>
<circle cx="626.3" cy="235.7" r="2.7"/>
<circle cx="620.3" cy="241.7" r="2.7"/>
<circle cx="633.3" cy="229.4" r="2.7"/>
<circle cx="619.2" cy="233.8" r="2.7"/>
<circle cx="638.1" cy="220.9" r="2.7"/>
<circle cx="630.3" cy="210.1" r="2.7"/>
<circle cx="624.6" cy="216.8" r="2.7"/>
<circle cx="632.6" cy="246.9" r="2.7"/>
<circle cx="625.1" cy="232.0" r="2.7"/>
<circle cx="626.8" cy="240.3" r="2.7"/>
<circle cx="635.9" cy="231.8" r="2.7"/>
<circle cx="624.6" cy="217.4" r="2.7"/>
<circle cx="633.0" cy="248.5" r="2.7"/>
<circle cx="632.1" cy="216.8" r="2.7"/>
<circle cx="626.5" cy="213.0" r="2.7"/>
<circle cx="626.4" cy="212.2" r="2.7"/>
<circle cx="633.8" cy="228.8" r="2.7"/>
<circle cx="635.3" cy="220.8" r="2.7"/>
<circle cx="626.0" cy="214.8" r="2.7"/>
<circle cx="615.4" cy="217.5" r="2.7"/>
<circle cx="626.7" cy="209.4" r="2.7"/>
<circle cx="636.8" cy="232.8" r="2.7"/>
<circle cx="627.4" cy="225.6" r="2.7"/>
<circle cx="638.5" cy="235.5" r="2.7"/>
<circle cx="616.3" cy="224.2" r="2.7"/>
<circle cx="612.7" cy="230.4" r="2.7"/>
<circle cx="628.8" cy="224.2" r="2.7"/>
<circle cx="618.2" cy="237.4" r="2.7"/>
</g>
<polygon points="584,250 591,235 602,237 607,245 611,237 628,235 633,250" fill="#161616" stroke="#161616" stroke-width="3" stroke-linejoin="round"/>
<g fill="#838383" stroke="#1a1a1a" stroke-width="1.1">
<circle cx="603.1" cy="239.7" r="2.7"/>
<circle cx="630.3" cy="249.1" r="2.7"/>
<circle cx="597.2" cy="248.1" r="2.7"/>
<circle cx="633.7" cy="247.9" r="2.7"/>
<circle cx="581.4" cy="250.6" r="2.7"/>
<circle cx="594.5" cy="247.2" r="2.7"/>
<circle cx="589.6" cy="243.0" r="2.7"/>
<circle cx="602.5" cy="245.1" r="2.7"/>
<circle cx="623.0" cy="248.0" r="2.7"/>
<circle cx="626.5" cy="248.6" r="2.7"/>
<circle cx="614.7" cy="242.1" r="2.7"/>
<circle cx="623.8" cy="243.8" r="2.7"/>
<circle cx="624.5" cy="239.3" r="2.7"/>
<circle cx="633.5" cy="248.9" r="2.7"/>
<circle cx="591.0" cy="247.1" r="2.7"/>
<circle cx="610.7" cy="243.5" r="2.7"/>
<circle cx="624.9" cy="244.8" r="2.7"/>
<circle cx="617.5" cy="248.8" r="2.7"/>
<circle cx="588.5" cy="233.3" r="2.7"/>
<circle cx="596.0" cy="238.8" r="2.7"/>
<circle cx="607.0" cy="248.3" r="2.7"/>
<circle cx="623.6" cy="240.7" r="2.7"/>
<circle cx="628.8" cy="243.2" r="2.7"/>
<circle cx="597.8" cy="239.2" r="2.7"/>
<circle cx="595.2" cy="246.7" r="2.7"/>
<circle cx="602.4" cy="244.4" r="2.7"/>
<circle cx="588.7" cy="235.9" r="2.7"/>
<circle cx="624.2" cy="246.5" r="2.7"/>
<circle cx="586.1" cy="243.8" r="2.7"/>
<circle cx="623.2" cy="246.4" r="2.7"/>
<circle cx="621.9" cy="247.2" r="2.7"/>
<circle cx="601.5" cy="243.6" r="2.7"/>
<circle cx="594.8" cy="242.3" r="2.7"/>
<circle cx="622.0" cy="248.2" r="2.7"/>
<circle cx="621.3" cy="245.0" r="2.7"/>
<circle cx="571.0" cy="251.6" r="2.7"/>
<circle cx="575.0" cy="251.6" r="2.7"/>
<circle cx="579.0" cy="251.6" r="2.7"/>
<circle cx="583.0" cy="251.6" r="2.7"/>
<circle cx="587.0" cy="251.6" r="2.7"/>
<circle cx="591.0" cy="251.6" r="2.7"/>
<circle cx="595.0" cy="251.6" r="2.7"/>
<circle cx="599.0" cy="251.6" r="2.7"/>
<circle cx="603.0" cy="251.6" r="2.7"/>
<circle cx="607.0" cy="251.6" r="2.7"/>
<circle cx="611.0" cy="251.6" r="2.7"/>
<circle cx="615.0" cy="251.6" r="2.7"/>
<circle cx="619.0" cy="251.6" r="2.7"/>
<circle cx="623.0" cy="251.6" r="2.7"/>
<circle cx="627.0" cy="251.6" r="2.7"/>
<circle cx="631.0" cy="251.6" r="2.7"/>
<circle cx="635.0" cy="251.6" r="2.7"/>
</g>
<circle cx="743.7" cy="98.8" r="3.0" fill="#e01010" stroke="#222" stroke-width="0.8"/>
<circle cx="673.9" cy="112.4" r="3.0" fill="#e01010" stroke="#222" stroke-width="0.8"/>
<circle cx="638.7" cy="121" r="3.0" fill="#e01010" stroke="#222" stroke-width="0.8"/>
<circle cx="703.1" cy="127.7" r="3.0" fill="#e01010" stroke="#222" stroke-width="0.8"/>
<circle cx="677.1" cy="140.4" r="3.0" fill="#e01010" stroke="#222" stroke-width="0.8"/>
<text x="749.5" y="102.2" font-size="9.5" fill="#222">NDK3</text>
<text x="679.7" y="115.8" font-size="9.5" fill="#222">MTHFD2</text>
<text x="644.5" y="124.4" font-size="9.5" fill="#222">RAB7A</text>
<text x="709.1" y="131.1" font-size="9.5" fill="#222">SDCBP</text>
<text x="683.5" y="143.8" font-size="9.5" fill="#222">GNS</text>
<line x1="437.8" y1="9.3" x2="437.8" y2="252.2" stroke="#555" stroke-width="1.4"/>
<line x1="437.1" y1="252.2" x2="773" y2="252.2" stroke="#555" stroke-width="1.4"/>
<line x1="430.8" y1="252.2" x2="437.8" y2="252.2" stroke="#555" stroke-width="1.2"/>
<text x="429.0" y="257.0" font-size="13.5" font-weight="bold" text-anchor="end" fill="#111">0</text>
<line x1="433.8" y1="211.7" x2="437.8" y2="211.7" stroke="#555" stroke-width="1.2"/>
<line x1="430.8" y1="171.3" x2="437.8" y2="171.3" stroke="#555" stroke-width="1.2"/>
<text x="429.0" y="176.10000000000002" font-size="13.5" font-weight="bold" text-anchor="end" fill="#111">1</text>
<line x1="433.8" y1="130.8" x2="437.8" y2="130.8" stroke="#555" stroke-width="1.2"/>
<line x1="430.8" y1="90.4" x2="437.8" y2="90.4" stroke="#555" stroke-width="1.2"/>
<text x="429.0" y="95.2" font-size="13.5" font-weight="bold" text-anchor="end" fill="#111">2</text>
<line x1="433.8" y1="49.8" x2="437.8" y2="49.8" stroke="#555" stroke-width="1.2"/>
<line x1="430.8" y1="9.3" x2="437.8" y2="9.3" stroke="#555" stroke-width="1.2"/>
<text x="429.0" y="14.100000000000001" font-size="13.5" font-weight="bold" text-anchor="end" fill="#111">3</text>
<line x1="493.7" y1="252.2" x2="493.7" y2="258.2" stroke="#555" stroke-width="1.2"/>
<text x="493.7" y="273.2" font-size="13.5" font-weight="bold" text-anchor="middle" fill="#111">-2</text>
<line x1="549.6" y1="252.2" x2="549.6" y2="255.7" stroke="#555" stroke-width="1.2"/>
<line x1="605.6" y1="252.2" x2="605.6" y2="258.2" stroke="#555" stroke-width="1.2"/>
<text x="605.6" y="273.2" font-size="13.5" font-weight="bold" text-anchor="middle" fill="#111">0</text>
<line x1="661.2" y1="252.2" x2="661.2" y2="255.7" stroke="#555" stroke-width="1.2"/>
<line x1="716.8" y1="252.2" x2="716.8" y2="258.2" stroke="#555" stroke-width="1.2"/>
<text x="716.8" y="273.2" font-size="13.5" font-weight="bold" text-anchor="middle" fill="#111">2</text>
<line x1="772.6" y1="252.2" x2="772.6" y2="258.2" stroke="#555" stroke-width="1.2"/>
<text x="605" y="289" font-size="14.4" text-anchor="middle" fill="#222">Fold change</text>
<text transform="translate(414.5,131) rotate(-90)" font-size="14.7" text-anchor="middle" fill="#222">-log(10) pval</text>
<text transform="translate(453,22.6) scale(1,1)" font-size="24" font-weight="bold" font-family=""Liberation Sans", sans-serif" fill="#000">b</text></g>
<clipPath id="clipc"><rect x="0" y="300" width="391.5" height="320"/></clipPath><g clip-path="url(#clipc)"><line x1="177.5" y1="346.8" x2="177.5" y2="578.5" stroke="#999" stroke-width="1" stroke-dasharray="2.2,2.2"/>
<line x1="238.3" y1="346.8" x2="238.3" y2="578.5" stroke="#999" stroke-width="1" stroke-dasharray="2.2,2.2"/>
<line x1="40" y1="477.2" x2="385" y2="477.2" stroke="#999" stroke-width="1" stroke-dasharray="2.2,2.2"/>
<g fill="#838383" stroke="#1a1a1a" stroke-width="1.1">
<circle cx="159.0" cy="487.5" r="2.7"/>
<circle cx="170.4" cy="498.6" r="2.7"/>
<circle cx="174.6" cy="496.7" r="2.7"/>
<circle cx="76.1" cy="506.2" r="2.7"/>
<circle cx="155.5" cy="510.6" r="2.7"/>
<circle cx="171.7" cy="509.1" r="2.7"/>
<circle cx="176.1" cy="508.7" r="2.7"/>
<circle cx="183.4" cy="517.3" r="2.7"/>
<circle cx="185.7" cy="517.6" r="2.7"/>
<circle cx="97.6" cy="521.1" r="2.7"/>
<circle cx="109.0" cy="520.5" r="2.7"/>
<circle cx="122.4" cy="523.4" r="2.7"/>
<circle cx="131.3" cy="519.9" r="2.7"/>
<circle cx="135.2" cy="526.2" r="2.7"/>
<circle cx="143.3" cy="517.6" r="2.7"/>
<circle cx="165.6" cy="518.6" r="2.7"/>
<circle cx="174.6" cy="529.1" r="2.7"/>
<circle cx="178.0" cy="533.5" r="2.7"/>
<circle cx="80.8" cy="537.1" r="2.7"/>
<circle cx="116.1" cy="537.1" r="2.7"/>
<circle cx="60.4" cy="546.6" r="2.7"/>
<circle cx="76.1" cy="547.2" r="2.7"/>
<circle cx="81.8" cy="549.7" r="2.7"/>
<circle cx="82.2" cy="556.1" r="2.7"/>
<circle cx="93.6" cy="545.7" r="2.7"/>
<circle cx="100.5" cy="550.4" r="2.7"/>
<circle cx="98.6" cy="557.3" r="2.7"/>
<circle cx="111.0" cy="549.1" r="2.7"/>
<circle cx="119.3" cy="548.5" r="2.7"/>
<circle cx="122.2" cy="548.1" r="2.7"/>
<circle cx="121.8" cy="552.5" r="2.7"/>
<circle cx="124.7" cy="557.7" r="2.7"/>
<circle cx="125.6" cy="558.0" r="2.7"/>
<circle cx="128.9" cy="545.7" r="2.7"/>
<circle cx="139.0" cy="539.6" r="2.7"/>
<circle cx="142.8" cy="542.4" r="2.7"/>
<circle cx="155.7" cy="540.5" r="2.7"/>
<circle cx="166.2" cy="541.5" r="2.7"/>
<circle cx="166.2" cy="544.3" r="2.7"/>
<circle cx="186.6" cy="540.1" r="2.7"/>
<circle cx="131.3" cy="553.9" r="2.7"/>
<circle cx="134.6" cy="557.7" r="2.7"/>
<circle cx="139.9" cy="552.0" r="2.7"/>
<circle cx="142.8" cy="552.9" r="2.7"/>
<circle cx="145.6" cy="551.0" r="2.7"/>
<circle cx="148.5" cy="554.8" r="2.7"/>
<circle cx="146.6" cy="558.6" r="2.7"/>
<circle cx="140.9" cy="557.7" r="2.7"/>
<circle cx="155.2" cy="551.0" r="2.7"/>
<circle cx="161.8" cy="551.0" r="2.7"/>
<circle cx="165.6" cy="550.0" r="2.7"/>
<circle cx="168.5" cy="550.0" r="2.7"/>
<circle cx="116.1" cy="557.7" r="2.7"/>
<circle cx="116.7" cy="561.1" r="2.7"/>
<circle cx="118.6" cy="565.3" r="2.7"/>
<circle cx="119.0" cy="569.1" r="2.7"/>
<circle cx="124.3" cy="572.9" r="2.7"/>
<circle cx="131.3" cy="575.8" r="2.7"/>
<circle cx="135.2" cy="577.7" r="2.7"/>
<circle cx="127.5" cy="577.7" r="2.7"/>
<circle cx="143.7" cy="564.3" r="2.7"/>
<circle cx="143.7" cy="573.9" r="2.7"/>
<circle cx="145.3" cy="577.7" r="2.7"/>
<circle cx="77.0" cy="572.5" r="2.7"/>
<circle cx="90.9" cy="572.3" r="2.7"/>
<circle cx="112.9" cy="577.7" r="2.7"/>
<circle cx="152.3" cy="562.4" r="2.7"/>
<circle cx="152.3" cy="570.1" r="2.7"/>
<circle cx="156.1" cy="559.6" r="2.7"/>
<circle cx="156.7" cy="564.3" r="2.7"/>
<circle cx="157.1" cy="576.7" r="2.7"/>
<circle cx="162.8" cy="565.3" r="2.7"/>
<circle cx="166.6" cy="569.1" r="2.7"/>
<circle cx="170.4" cy="566.2" r="2.7"/>
<circle cx="163.7" cy="557.7" r="2.7"/>
<circle cx="172.3" cy="555.8" r="2.7"/>
<circle cx="178.0" cy="553.9" r="2.7"/>
<circle cx="181.8" cy="553.9" r="2.7"/>
<circle cx="240.6" cy="489.6" r="2.7"/>
<circle cx="245.2" cy="492.4" r="2.7"/>
<circle cx="257.4" cy="488.6" r="2.7"/>
<circle cx="273.0" cy="491.7" r="2.7"/>
<circle cx="174.9" cy="496.6" r="2.7"/>
<circle cx="171.4" cy="498.0" r="2.7"/>
<circle cx="172.1" cy="508.4" r="2.7"/>
<circle cx="176.3" cy="508.4" r="2.7"/>
<circle cx="191.9" cy="506.6" r="2.7"/>
<circle cx="214.4" cy="507.0" r="2.7"/>
<circle cx="223.8" cy="508.4" r="2.7"/>
<circle cx="239.9" cy="500.0" r="2.7"/>
<circle cx="239.6" cy="502.8" r="2.7"/>
<circle cx="250.4" cy="500.5" r="2.7"/>
<circle cx="256.7" cy="499.4" r="2.7"/>
<circle cx="266.4" cy="500.0" r="2.7"/>
<circle cx="270.3" cy="499.4" r="2.7"/>
<circle cx="214.0" cy="514.7" r="2.7"/>
<circle cx="217.5" cy="519.6" r="2.7"/>
<circle cx="183.3" cy="516.8" r="2.7"/>
<circle cx="186.1" cy="518.2" r="2.7"/>
<circle cx="274.1" cy="511.2" r="2.7"/>
<circle cx="174.9" cy="528.7" r="2.7"/>
<circle cx="178.1" cy="533.6" r="2.7"/>
<circle cx="219.6" cy="525.9" r="2.7"/>
<circle cx="224.5" cy="529.4" r="2.7"/>
<circle cx="231.5" cy="522.8" r="2.7"/>
<circle cx="187.5" cy="539.9" r="2.7"/>
<circle cx="211.6" cy="539.6" r="2.7"/>
<circle cx="190.7" cy="549.0" r="2.7"/>
<circle cx="198.0" cy="549.9" r="2.7"/>
<circle cx="193.5" cy="553.2" r="2.7"/>
<circle cx="271.3" cy="560.6" r="2.7"/>
<circle cx="259.4" cy="563.9" r="2.7"/>
<circle cx="259.4" cy="577.6" r="2.7"/>
<circle cx="257.3" cy="488.6" r="2.7"/>
<circle cx="272.6" cy="491.4" r="2.7"/>
<circle cx="245.5" cy="492.4" r="2.7"/>
<circle cx="327.9" cy="492.8" r="2.7"/>
<circle cx="294.5" cy="497.5" r="2.7"/>
<circle cx="299.3" cy="500.4" r="2.7"/>
<circle cx="314.9" cy="498.1" r="2.7"/>
<circle cx="326.9" cy="501.9" r="2.7"/>
<circle cx="335.1" cy="500.6" r="2.7"/>
<circle cx="292.0" cy="506.3" r="2.7"/>
<circle cx="281.2" cy="503.8" r="2.7"/>
<circle cx="280.8" cy="506.7" r="2.7"/>
<circle cx="312.2" cy="505.7" r="2.7"/>
<circle cx="313.6" cy="508.6" r="2.7"/>
<circle cx="305.0" cy="510.5" r="2.7"/>
<circle cx="326.9" cy="510.5" r="2.7"/>
<circle cx="329.8" cy="513.4" r="2.7"/>
<circle cx="342.2" cy="510.5" r="2.7"/>
<circle cx="354.2" cy="510.1" r="2.7"/>
<circle cx="292.6" cy="517.2" r="2.7"/>
<circle cx="293.6" cy="518.1" r="2.7"/>
<circle cx="303.7" cy="517.5" r="2.7"/>
<circle cx="342.7" cy="518.7" r="2.7"/>
<circle cx="347.9" cy="521.9" r="2.7"/>
<circle cx="319.9" cy="521.9" r="2.7"/>
<circle cx="326.3" cy="528.6" r="2.7"/>
<circle cx="360.6" cy="528.6" r="2.7"/>
<circle cx="306.5" cy="531.5" r="2.7"/>
<circle cx="290.7" cy="534.9" r="2.7"/>
<circle cx="297.4" cy="535.8" r="2.7"/>
<circle cx="301.2" cy="537.2" r="2.7"/>
<circle cx="299.3" cy="541.9" r="2.7"/>
<circle cx="304.6" cy="542.9" r="2.7"/>
<circle cx="308.4" cy="535.3" r="2.7"/>
<circle cx="311.7" cy="539.5" r="2.7"/>
<circle cx="320.2" cy="536.6" r="2.7"/>
<circle cx="323.1" cy="535.3" r="2.7"/>
<circle cx="327.9" cy="534.3" r="2.7"/>
<circle cx="330.7" cy="539.7" r="2.7"/>
<circle cx="291.3" cy="548.4" r="2.7"/>
<circle cx="297.4" cy="548.4" r="2.7"/>
<circle cx="300.2" cy="548.4" r="2.7"/>
<circle cx="305.0" cy="548.0" r="2.7"/>
<circle cx="309.7" cy="547.7" r="2.7"/>
<circle cx="316.4" cy="547.7" r="2.7"/>
<circle cx="321.8" cy="547.7" r="2.7"/>
<circle cx="327.9" cy="547.7" r="2.7"/>
<circle cx="333.2" cy="548.6" r="2.7"/>
<circle cx="338.3" cy="546.7" r="2.7"/>
<circle cx="361.2" cy="545.8" r="2.7"/>
<circle cx="365.0" cy="546.1" r="2.7"/>
<circle cx="319.7" cy="559.7" r="2.7"/>
<circle cx="346.9" cy="558.7" r="2.7"/>
<circle cx="271.6" cy="560.4" r="2.7"/>
<circle cx="286.9" cy="567.7" r="2.7"/>
<circle cx="181.0" cy="558.2" r="2.7"/>
<circle cx="199.5" cy="559.5" r="2.7"/>
<circle cx="179.9" cy="570.8" r="2.7"/>
<circle cx="188.0" cy="577.4" r="2.7"/>
<circle cx="185.4" cy="564.0" r="2.7"/>
<circle cx="191.9" cy="558.6" r="2.7"/>
<circle cx="206.9" cy="562.7" r="2.7"/>
<circle cx="180.2" cy="570.7" r="2.7"/>
<circle cx="167.9" cy="570.2" r="2.7"/>
<circle cx="204.2" cy="561.8" r="2.7"/>
<circle cx="209.2" cy="566.7" r="2.7"/>
<circle cx="200.3" cy="565.2" r="2.7"/>
<circle cx="180.9" cy="560.0" r="2.7"/>
<circle cx="184.0" cy="576.4" r="2.7"/>
<circle cx="191.5" cy="578.4" r="2.7"/>
<circle cx="178.6" cy="558.6" r="2.7"/>
<circle cx="201.2" cy="568.5" r="2.7"/>
<circle cx="211.1" cy="577.5" r="2.7"/>
<circle cx="194.3" cy="554.0" r="2.7"/>
<circle cx="202.6" cy="555.1" r="2.7"/>
<circle cx="182.1" cy="555.2" r="2.7"/>
<circle cx="177.1" cy="566.6" r="2.7"/>
<circle cx="170.4" cy="573.5" r="2.7"/>
<circle cx="173.4" cy="563.5" r="2.7"/>
<circle cx="199.7" cy="562.2" r="2.7"/>
<circle cx="196.1" cy="577.0" r="2.7"/>
<circle cx="166.8" cy="575.5" r="2.7"/>
<circle cx="191.2" cy="572.4" r="2.7"/>
<circle cx="191.6" cy="563.6" r="2.7"/>
<circle cx="189.2" cy="573.0" r="2.7"/>
<circle cx="201.5" cy="575.0" r="2.7"/>
<circle cx="166.1" cy="574.4" r="2.7"/>
<circle cx="175.0" cy="568.2" r="2.7"/>
<circle cx="180.8" cy="574.4" r="2.7"/>
<circle cx="180.8" cy="563.8" r="2.7"/>
<circle cx="179.3" cy="555.4" r="2.7"/>
<circle cx="205.7" cy="577.0" r="2.7"/>
<circle cx="197.5" cy="563.4" r="2.7"/>
<circle cx="183.1" cy="561.1" r="2.7"/>
<circle cx="194.0" cy="570.0" r="2.7"/>
<circle cx="176.2" cy="575.7" r="2.7"/>
<circle cx="197.5" cy="558.7" r="2.7"/>
<circle cx="202.1" cy="570.5" r="2.7"/>
<circle cx="173.0" cy="560.7" r="2.7"/>
<circle cx="199.1" cy="555.1" r="2.7"/>
<circle cx="182.8" cy="578.1" r="2.7"/>
<circle cx="173.3" cy="566.1" r="2.7"/>
<circle cx="207.2" cy="575.7" r="2.7"/>
<circle cx="201.0" cy="566.9" r="2.7"/>
<circle cx="208.4" cy="559.7" r="2.7"/>
<circle cx="205.8" cy="563.6" r="2.7"/>
<circle cx="194.2" cy="568.9" r="2.7"/>
<circle cx="174.7" cy="570.6" r="2.7"/>
<circle cx="191.4" cy="578.7" r="2.7"/>
<circle cx="194.7" cy="564.4" r="2.7"/>
<circle cx="179.8" cy="576.1" r="2.7"/>
<circle cx="178.0" cy="570.3" r="2.7"/>
<circle cx="196.1" cy="578.1" r="2.7"/>
<circle cx="170.1" cy="570.3" r="2.7"/>
<circle cx="168.9" cy="569.6" r="2.7"/>
<circle cx="194.2" cy="572.3" r="2.7"/>
<circle cx="205.0" cy="559.0" r="2.7"/>
<circle cx="204.7" cy="562.0" r="2.7"/>
<circle cx="180.8" cy="555.9" r="2.7"/>
<circle cx="176.1" cy="570.5" r="2.7"/>
<circle cx="198.9" cy="557.4" r="2.7"/>
<circle cx="200.8" cy="564.5" r="2.7"/>
<circle cx="170.7" cy="572.5" r="2.7"/>
<circle cx="198.4" cy="565.2" r="2.7"/>
<circle cx="187.6" cy="569.1" r="2.7"/>
<circle cx="192.8" cy="572.9" r="2.7"/>
<circle cx="200.0" cy="558.2" r="2.7"/>
<circle cx="176.0" cy="568.1" r="2.7"/>
<circle cx="210.0" cy="563.8" r="2.7"/>
<circle cx="179.2" cy="567.5" r="2.7"/>
<circle cx="209.3" cy="568.3" r="2.7"/>
<circle cx="175.3" cy="572.7" r="2.7"/>
<circle cx="180.7" cy="557.5" r="2.7"/>
<circle cx="184.0" cy="556.3" r="2.7"/>
<circle cx="166.8" cy="564.6" r="2.7"/>
<circle cx="234.3" cy="558.8" r="2.7"/>
<circle cx="223.8" cy="565.4" r="2.7"/>
<circle cx="213.8" cy="553.2" r="2.7"/>
<circle cx="220.0" cy="571.5" r="2.7"/>
<circle cx="219.4" cy="551.7" r="2.7"/>
<circle cx="203.9" cy="566.5" r="2.7"/>
<circle cx="218.3" cy="554.9" r="2.7"/>
<circle cx="234.7" cy="551.1" r="2.7"/>
<circle cx="226.0" cy="547.5" r="2.7"/>
<circle cx="227.5" cy="548.0" r="2.7"/>
<circle cx="222.9" cy="549.0" r="2.7"/>
<circle cx="230.6" cy="563.6" r="2.7"/>
<circle cx="229.5" cy="548.4" r="2.7"/>
<circle cx="194.7" cy="577.8" r="2.7"/>
<circle cx="221.0" cy="571.1" r="2.7"/>
<circle cx="213.5" cy="556.4" r="2.7"/>
<circle cx="241.0" cy="550.1" r="2.7"/>
<circle cx="218.6" cy="572.3" r="2.7"/>
<circle cx="225.0" cy="554.6" r="2.7"/>
<circle cx="230.9" cy="565.3" r="2.7"/>
<circle cx="231.3" cy="542.8" r="2.7"/>
<circle cx="198.1" cy="570.2" r="2.7"/>
<circle cx="233.1" cy="537.8" r="2.7"/>
<circle cx="210.6" cy="556.4" r="2.7"/>
<circle cx="211.8" cy="557.9" r="2.7"/>
<circle cx="214.0" cy="563.6" r="2.7"/>
<circle cx="210.3" cy="561.0" r="2.7"/>
<circle cx="227.5" cy="557.3" r="2.7"/>
<circle cx="207.1" cy="566.2" r="2.7"/>
<circle cx="240.3" cy="534.9" r="2.7"/>
<circle cx="233.6" cy="543.5" r="2.7"/>
<circle cx="207.1" cy="561.8" r="2.7"/>
<circle cx="238.2" cy="534.8" r="2.7"/>
<circle cx="215.2" cy="567.3" r="2.7"/>
<circle cx="227.9" cy="546.6" r="2.7"/>
<circle cx="231.0" cy="552.7" r="2.7"/>
<circle cx="213.2" cy="564.3" r="2.7"/>
<circle cx="204.1" cy="575.8" r="2.7"/>
<circle cx="211.6" cy="557.1" r="2.7"/>
<circle cx="225.6" cy="558.7" r="2.7"/>
<circle cx="236.0" cy="555.5" r="2.7"/>
<circle cx="232.5" cy="562.4" r="2.7"/>
<circle cx="240.0" cy="541.8" r="2.7"/>
<circle cx="234.2" cy="548.0" r="2.7"/>
<circle cx="233.7" cy="560.9" r="2.7"/>
<circle cx="241.7" cy="534.8" r="2.7"/>
<circle cx="213.5" cy="555.2" r="2.7"/>
<circle cx="227.7" cy="542.2" r="2.7"/>
<circle cx="207.3" cy="565.5" r="2.7"/>
<circle cx="240.9" cy="534.2" r="2.7"/>
<circle cx="231.8" cy="547.8" r="2.7"/>
<circle cx="199.9" cy="567.7" r="2.7"/>
<circle cx="198.1" cy="574.7" r="2.7"/>
<circle cx="225.4" cy="543.0" r="2.7"/>
<circle cx="214.3" cy="560.4" r="2.7"/>
<circle cx="235.6" cy="542.0" r="2.7"/>
<circle cx="241.6" cy="555.3" r="2.7"/>
<circle cx="206.2" cy="572.6" r="2.7"/>
<circle cx="237.7" cy="532.9" r="2.7"/>
<circle cx="230.6" cy="566.3" r="2.7"/>
<circle cx="236.0" cy="549.7" r="2.7"/>
<circle cx="214.5" cy="571.5" r="2.7"/>
<circle cx="235.4" cy="557.7" r="2.7"/>
<circle cx="216.0" cy="551.4" r="2.7"/>
<circle cx="195.9" cy="573.8" r="2.7"/>
<circle cx="192.2" cy="574.3" r="2.7"/>
<circle cx="222.6" cy="553.0" r="2.7"/>
<circle cx="209.6" cy="567.5" r="2.7"/>
<circle cx="232.7" cy="540.1" r="2.7"/>
<circle cx="240.9" cy="538.0" r="2.7"/>
<circle cx="227.6" cy="542.5" r="2.7"/>
<circle cx="226.9" cy="552.9" r="2.7"/>
<circle cx="213.8" cy="573.7" r="2.7"/>
<circle cx="202.1" cy="567.3" r="2.7"/>
<circle cx="193.6" cy="572.4" r="2.7"/>
<circle cx="229.4" cy="543.6" r="2.7"/>
<circle cx="234.4" cy="550.2" r="2.7"/>
<circle cx="195.9" cy="573.0" r="2.7"/>
<circle cx="237.7" cy="531.7" r="2.7"/>
<circle cx="231.7" cy="551.7" r="2.7"/>
<circle cx="215.9" cy="565.6" r="2.7"/>
<circle cx="224.3" cy="559.7" r="2.7"/>
<circle cx="213.2" cy="555.1" r="2.7"/>
<circle cx="235.1" cy="552.8" r="2.7"/>
<circle cx="223.7" cy="546.4" r="2.7"/>
<circle cx="243.9" cy="540.6" r="2.7"/>
<circle cx="200.8" cy="568.9" r="2.7"/>
<circle cx="229.7" cy="542.4" r="2.7"/>
<circle cx="206.5" cy="570.8" r="2.7"/>
<circle cx="233.8" cy="557.5" r="2.7"/>
<circle cx="234.1" cy="550.6" r="2.7"/>
<circle cx="205.2" cy="568.4" r="2.7"/>
<circle cx="231.8" cy="546.0" r="2.7"/>
<circle cx="239.4" cy="547.2" r="2.7"/>
<circle cx="210.1" cy="562.2" r="2.7"/>
<circle cx="207.6" cy="574.8" r="2.7"/>
<circle cx="211.4" cy="562.9" r="2.7"/>
<circle cx="228.6" cy="568.2" r="2.7"/>
<circle cx="218.0" cy="572.7" r="2.7"/>
<circle cx="220.7" cy="564.4" r="2.7"/>
<circle cx="199.5" cy="574.2" r="2.7"/>
<circle cx="236.0" cy="561.1" r="2.7"/>
<circle cx="240.4" cy="532.1" r="2.7"/>
<circle cx="217.5" cy="556.9" r="2.7"/>
<circle cx="228.4" cy="544.2" r="2.7"/>
<circle cx="209.9" cy="577.1" r="2.7"/>
<circle cx="237.8" cy="553.2" r="2.7"/>
<circle cx="229.4" cy="555.8" r="2.7"/>
<circle cx="223.0" cy="563.4" r="2.7"/>
<circle cx="226.7" cy="560.9" r="2.7"/>
<circle cx="262.7" cy="535.1" r="2.7"/>
<circle cx="277.5" cy="560.2" r="2.7"/>
<circle cx="254.3" cy="540.0" r="2.7"/>
<circle cx="269.5" cy="552.6" r="2.7"/>
<circle cx="287.3" cy="555.3" r="2.7"/>
<circle cx="283.2" cy="549.1" r="2.7"/>
<circle cx="250.2" cy="520.0" r="2.7"/>
<circle cx="236.4" cy="536.8" r="2.7"/>
<circle cx="244.5" cy="520.0" r="2.7"/>
<circle cx="277.5" cy="522.9" r="2.7"/>
<circle cx="271.3" cy="567.7" r="2.7"/>
<circle cx="251.7" cy="542.5" r="2.7"/>
<circle cx="242.9" cy="507.0" r="2.7"/>
<circle cx="273.9" cy="504.5" r="2.7"/>
<circle cx="239.9" cy="528.8" r="2.7"/>
<circle cx="262.7" cy="515.9" r="2.7"/>
<circle cx="249.6" cy="528.2" r="2.7"/>
<circle cx="261.6" cy="518.7" r="2.7"/>
<circle cx="268.7" cy="539.8" r="2.7"/>
<circle cx="265.7" cy="500.8" r="2.7"/>
<circle cx="285.2" cy="528.5" r="2.7"/>
<circle cx="257.7" cy="511.9" r="2.7"/>
<circle cx="251.1" cy="543.8" r="2.7"/>
<circle cx="259.0" cy="569.3" r="2.7"/>
<circle cx="261.2" cy="526.3" r="2.7"/>
<circle cx="281.3" cy="560.7" r="2.7"/>
<circle cx="267.0" cy="561.9" r="2.7"/>
<circle cx="243.8" cy="505.8" r="2.7"/>
<circle cx="236.3" cy="549.4" r="2.7"/>
<circle cx="278.9" cy="513.5" r="2.7"/>
<circle cx="276.7" cy="516.7" r="2.7"/>
<circle cx="281.8" cy="510.5" r="2.7"/>
<circle cx="251.2" cy="521.4" r="2.7"/>
<circle cx="261.1" cy="557.9" r="2.7"/>
<circle cx="263.3" cy="561.5" r="2.7"/>
<circle cx="239.8" cy="547.5" r="2.7"/>
<circle cx="258.7" cy="564.9" r="2.7"/>
<circle cx="272.5" cy="553.2" r="2.7"/>
<circle cx="245.7" cy="570.1" r="2.7"/>
<circle cx="284.9" cy="541.9" r="2.7"/>
<circle cx="279.7" cy="538.2" r="2.7"/>
<circle cx="280.2" cy="529.5" r="2.7"/>
<circle cx="267.1" cy="518.1" r="2.7"/>
<circle cx="271.6" cy="539.3" r="2.7"/>
<circle cx="283.9" cy="547.8" r="2.7"/>
<circle cx="274.0" cy="507.5" r="2.7"/>
<circle cx="266.8" cy="524.2" r="2.7"/>
<circle cx="255.0" cy="517.5" r="2.7"/>
<circle cx="269.1" cy="515.2" r="2.7"/>
<circle cx="283.2" cy="521.2" r="2.7"/>
<circle cx="276.9" cy="515.7" r="2.7"/>
<circle cx="270.3" cy="542.1" r="2.7"/>
<circle cx="254.9" cy="542.3" r="2.7"/>
<circle cx="267.3" cy="517.4" r="2.7"/>
<circle cx="261.5" cy="508.3" r="2.7"/>
<circle cx="238.0" cy="543.9" r="2.7"/>
<circle cx="261.3" cy="516.9" r="2.7"/>
<circle cx="245.0" cy="562.4" r="2.7"/>
<circle cx="263.3" cy="538.1" r="2.7"/>
<circle cx="259.0" cy="570.1" r="2.7"/>
<circle cx="240.8" cy="525.2" r="2.7"/>
<circle cx="254.0" cy="525.7" r="2.7"/>
<circle cx="274.4" cy="566.0" r="2.7"/>
<circle cx="272.8" cy="513.9" r="2.7"/>
<circle cx="244.9" cy="539.5" r="2.7"/>
<circle cx="272.2" cy="541.1" r="2.7"/>
<circle cx="258.9" cy="548.2" r="2.7"/>
<circle cx="261.3" cy="512.4" r="2.7"/>
<circle cx="247.0" cy="524.4" r="2.7"/>
<circle cx="252.5" cy="516.4" r="2.7"/>
<circle cx="280.9" cy="510.5" r="2.7"/>
<circle cx="236.3" cy="544.6" r="2.7"/>
<circle cx="272.4" cy="524.8" r="2.7"/>
<circle cx="258.6" cy="525.8" r="2.7"/>
<circle cx="256.6" cy="515.2" r="2.7"/>
<circle cx="268.9" cy="521.6" r="2.7"/>
<circle cx="242.6" cy="517.5" r="2.7"/>
<circle cx="262.1" cy="541.6" r="2.7"/>
<circle cx="256.9" cy="509.5" r="2.7"/>
<circle cx="285.2" cy="532.3" r="2.7"/>
<circle cx="262.0" cy="556.7" r="2.7"/>
<circle cx="259.7" cy="507.9" r="2.7"/>
<circle cx="253.1" cy="507.0" r="2.7"/>
<circle cx="242.2" cy="522.9" r="2.7"/>
<circle cx="271.5" cy="513.2" r="2.7"/>
<circle cx="267.9" cy="531.1" r="2.7"/>
<circle cx="276.9" cy="517.2" r="2.7"/>
<circle cx="244.7" cy="502.8" r="2.7"/>
<circle cx="252.3" cy="538.4" r="2.7"/>
<circle cx="249.7" cy="534.8" r="2.7"/>
<circle cx="271.0" cy="501.6" r="2.7"/>
<circle cx="267.2" cy="529.1" r="2.7"/>
<circle cx="257.7" cy="517.2" r="2.7"/>
<circle cx="284.1" cy="509.5" r="2.7"/>
<circle cx="285.5" cy="522.6" r="2.7"/>
<circle cx="286.5" cy="518.0" r="2.7"/>
<circle cx="274.0" cy="541.1" r="2.7"/>
<circle cx="277.1" cy="510.3" r="2.7"/>
<circle cx="249.8" cy="555.0" r="2.7"/>
<circle cx="251.1" cy="558.5" r="2.7"/>
<circle cx="251.8" cy="556.1" r="2.7"/>
<circle cx="240.4" cy="559.0" r="2.7"/>
<circle cx="260.5" cy="514.1" r="2.7"/>
<circle cx="270.2" cy="546.5" r="2.7"/>
<circle cx="266.9" cy="503.0" r="2.7"/>
<circle cx="250.1" cy="550.3" r="2.7"/>
<circle cx="238.2" cy="537.4" r="2.7"/>
<circle cx="261.2" cy="518.7" r="2.7"/>
<circle cx="276.4" cy="533.1" r="2.7"/>
<circle cx="258.5" cy="531.1" r="2.7"/>
<circle cx="257.1" cy="533.8" r="2.7"/>
<circle cx="260.4" cy="568.9" r="2.7"/>
<circle cx="242.1" cy="540.9" r="2.7"/>
<circle cx="268.8" cy="529.2" r="2.7"/>
<circle cx="257.7" cy="513.4" r="2.7"/>
<circle cx="245.6" cy="549.5" r="2.7"/>
<circle cx="241.6" cy="553.2" r="2.7"/>
<circle cx="270.8" cy="506.4" r="2.7"/>
<circle cx="282.4" cy="540.9" r="2.7"/>
<circle cx="263.5" cy="514.4" r="2.7"/>
<circle cx="239.2" cy="533.3" r="2.7"/>
<circle cx="253.3" cy="501.1" r="2.7"/>
<circle cx="244.5" cy="525.9" r="2.7"/>
<circle cx="268.0" cy="501.7" r="2.7"/>
<circle cx="249.4" cy="514.2" r="2.7"/>
<circle cx="242.3" cy="539.1" r="2.7"/>
<circle cx="271.1" cy="568.1" r="2.7"/>
<circle cx="282.8" cy="544.4" r="2.7"/>
<circle cx="238.9" cy="560.2" r="2.7"/>
<circle cx="260.6" cy="500.2" r="2.7"/>
<circle cx="251.7" cy="542.5" r="2.7"/>
<circle cx="260.1" cy="558.6" r="2.7"/>
<circle cx="272.9" cy="549.8" r="2.7"/>
<circle cx="275.7" cy="565.5" r="2.7"/>
<circle cx="260.1" cy="522.7" r="2.7"/>
<circle cx="238.1" cy="573.8" r="2.7"/>
<circle cx="262.5" cy="507.3" r="2.7"/>
<circle cx="261.9" cy="536.7" r="2.7"/>
<circle cx="237.1" cy="555.5" r="2.7"/>
<circle cx="248.0" cy="550.1" r="2.7"/>
<circle cx="281.8" cy="517.3" r="2.7"/>
<circle cx="256.9" cy="503.6" r="2.7"/>
<circle cx="279.2" cy="521.5" r="2.7"/>
<circle cx="275.7" cy="507.0" r="2.7"/>
<circle cx="288.9" cy="536.7" r="2.7"/>
<circle cx="238.4" cy="551.4" r="2.7"/>
<circle cx="265.8" cy="562.6" r="2.7"/>
<circle cx="278.9" cy="530.6" r="2.7"/>
<circle cx="278.9" cy="530.8" r="2.7"/>
<circle cx="268.5" cy="504.0" r="2.7"/>
</g>
<polygon points="196,577 209,568 221,557 232,546 237,542 239,552 230,565 218,577" fill="#161616" stroke="#161616" stroke-width="3" stroke-linejoin="round"/>
<g fill="#838383" stroke="#1a1a1a" stroke-width="1.1">
<circle cx="210.0" cy="567.4" r="2.7"/>
<circle cx="232.1" cy="545.2" r="2.7"/>
<circle cx="232.4" cy="558.1" r="2.7"/>
<circle cx="217.2" cy="559.9" r="2.7"/>
<circle cx="219.8" cy="571.6" r="2.7"/>
<circle cx="210.9" cy="568.9" r="2.7"/>
<circle cx="207.2" cy="570.7" r="2.7"/>
<circle cx="232.1" cy="561.3" r="2.7"/>
<circle cx="208.4" cy="570.9" r="2.7"/>
<circle cx="206.2" cy="575.7" r="2.7"/>
<circle cx="216.5" cy="573.2" r="2.7"/>
<circle cx="230.6" cy="550.1" r="2.7"/>
<circle cx="213.7" cy="563.8" r="2.7"/>
<circle cx="236.5" cy="547.2" r="2.7"/>
<circle cx="219.9" cy="557.3" r="2.7"/>
<circle cx="205.6" cy="572.1" r="2.7"/>
<circle cx="232.1" cy="545.9" r="2.7"/>
<circle cx="226.2" cy="553.9" r="2.7"/>
<circle cx="214.7" cy="563.1" r="2.7"/>
<circle cx="215.6" cy="560.3" r="2.7"/>
<circle cx="237.0" cy="549.6" r="2.7"/>
<circle cx="203.0" cy="573.4" r="2.7"/>
<circle cx="219.5" cy="560.5" r="2.7"/>
<circle cx="215.6" cy="566.6" r="2.7"/>
<circle cx="214.6" cy="570.5" r="2.7"/>
<circle cx="229.9" cy="552.5" r="2.7"/>
<circle cx="209.4" cy="573.9" r="2.7"/>
<circle cx="220.6" cy="556.7" r="2.7"/>
<circle cx="210.0" cy="565.2" r="2.7"/>
<circle cx="209.3" cy="568.4" r="2.7"/>
<circle cx="165.0" cy="577.6" r="2.7"/>
<circle cx="169.0" cy="577.6" r="2.7"/>
<circle cx="173.0" cy="577.6" r="2.7"/>
<circle cx="177.0" cy="577.6" r="2.7"/>
<circle cx="181.0" cy="577.6" r="2.7"/>
<circle cx="185.0" cy="577.6" r="2.7"/>
<circle cx="189.0" cy="577.6" r="2.7"/>
<circle cx="193.0" cy="577.6" r="2.7"/>
<circle cx="197.0" cy="577.6" r="2.7"/>
<circle cx="201.0" cy="577.6" r="2.7"/>
<circle cx="205.0" cy="577.6" r="2.7"/>
<circle cx="209.0" cy="577.6" r="2.7"/>
<circle cx="213.0" cy="577.6" r="2.7"/>
<circle cx="217.0" cy="577.6" r="2.7"/>
<circle cx="221.0" cy="577.6" r="2.7"/>
<circle cx="225.0" cy="577.6" r="2.7"/>
<circle cx="229.0" cy="577.6" r="2.7"/>
<circle cx="233.0" cy="577.6" r="2.7"/>
<circle cx="237.0" cy="577.6" r="2.7"/>
<circle cx="241.0" cy="577.6" r="2.7"/>
<circle cx="245.0" cy="577.6" r="2.7"/>
</g>
<circle cx="249.3" cy="342.8" r="3.0" fill="#e86060" stroke="#222" stroke-width="0.8"/>
<circle cx="304" cy="390.9" r="3.0" fill="#e01010" stroke="#222" stroke-width="0.8"/>
<circle cx="300.3" cy="401.5" r="3.0" fill="#e01010" stroke="#222" stroke-width="0.8"/>
<circle cx="261.1" cy="410.8" r="3.0" fill="#e01010" stroke="#222" stroke-width="0.8"/>
<circle cx="262.9" cy="409.4" r="3.0" fill="#e01010" stroke="#222" stroke-width="0.8"/>
<circle cx="283.8" cy="415.5" r="3.0" fill="#e01010" stroke="#222" stroke-width="0.8"/>
<circle cx="262.9" cy="428.1" r="3.0" fill="#e01010" stroke="#222" stroke-width="0.8"/>
<circle cx="252.3" cy="436.7" r="3.0" fill="#e01010" stroke="#222" stroke-width="0.8"/>
<circle cx="264.1" cy="443.4" r="3.0" fill="#e01010" stroke="#222" stroke-width="0.8"/>
<circle cx="298.6" cy="452.5" r="3.0" fill="#e01010" stroke="#222" stroke-width="0.8"/>
<circle cx="313.9" cy="454.5" r="3.0" fill="#e01010" stroke="#222" stroke-width="0.8"/>
<circle cx="264.6" cy="455.2" r="3.0" fill="#e01010" stroke="#222" stroke-width="0.8"/>
<circle cx="251.3" cy="460.1" r="3.0" fill="#e01010" stroke="#222" stroke-width="0.8"/>
<circle cx="286.3" cy="455.7" r="3.0" fill="#e01010" stroke="#222" stroke-width="0.8"/>
<circle cx="288.2" cy="458.2" r="3.0" fill="#e01010" stroke="#222" stroke-width="0.8"/>
<circle cx="261.1" cy="464.8" r="3.0" fill="#e01010" stroke="#222" stroke-width="0.8"/>
<circle cx="356.5" cy="464.3" r="3.0" fill="#e01010" stroke="#222" stroke-width="0.8"/>
<circle cx="296.6" cy="467.5" r="3.0" fill="#e01010" stroke="#222" stroke-width="0.8"/>
<circle cx="251.3" cy="470.5" r="3.0" fill="#e01010" stroke="#222" stroke-width="0.8"/>
<circle cx="244.4" cy="475.4" r="3.0" fill="#e01010" stroke="#222" stroke-width="0.8"/>
<circle cx="274.4" cy="473" r="3.0" fill="#e01010" stroke="#222" stroke-width="0.8"/>
<circle cx="338.5" cy="473.5" r="3.0" fill="#e01010" stroke="#222" stroke-width="0.8"/>
<text x="255.5" y="349.3" font-size="9.7" fill="#222">RHOC</text>
<text x="309.7" y="394.3" font-size="9.7" fill="#222">LRC59</text>
<text x="306.5" y="405" font-size="9.7" fill="#222">CHCH2</text>
<text x="267" y="412.5" font-size="9.7" fill="#222">URP2</text>
<text x="290" y="418.8" font-size="9.7" fill="#222">SYNC</text>
<text x="257.9" y="424.2" font-size="9.7" fill="#222">RS5</text>
<text x="269" y="431.6" font-size="9.7" fill="#222">PRS4</text>
<text x="257.9" y="440.2" font-size="9.7" fill="#222">ANX11</text>
<text x="270.2" y="446.3" font-size="9.7" fill="#222">HMGB2</text>
<text x="240.7" y="451.3" font-size="9.7" fill="#222">PGH1AT2B1</text>
<text x="301" y="449.3" font-size="9.7" fill="#222">CH3L1</text>
<text x="319.5" y="457.5" font-size="9.7" fill="#222">COPB2</text>
<text x="218.5" y="461.6" font-size="9.7" fill="#222">FA49B</text>
<text x="291.2" y="464.8" font-size="9.7" fill="#222">CNPY3</text>
<text x="267" y="467.8" font-size="9.7" fill="#222">RL30</text>
<text x="362.7" y="467.8" font-size="9.7" fill="#222">TFRC</text>
<text x="301" y="471.5" font-size="9.7" fill="#222">CD166</text>
<text x="225.4" y="473" font-size="9.7" fill="#222">CY1</text>
<text x="250.5" y="478.4" font-size="9.7" fill="#222">RL9</text>
<text x="278.9" y="481.4" font-size="9.7" fill="#222">ESYT1</text>
<text x="344.7" y="476.4" font-size="9.7" fill="#222">RL37A</text>
<line x1="37.7" y1="334.4" x2="37.7" y2="578.5" stroke="#555" stroke-width="1.4"/>
<line x1="37.0" y1="578.5" x2="374.1" y2="578.5" stroke="#555" stroke-width="1.4"/>
<line x1="30.700000000000003" y1="578.5" x2="37.7" y2="578.5" stroke="#555" stroke-width="1.2"/>
<text x="28.900000000000002" y="583.3" font-size="13.5" font-weight="bold" text-anchor="end" fill="#111">0</text>
<line x1="33.7" y1="540.5" x2="37.7" y2="540.5" stroke="#555" stroke-width="1.2"/>
<line x1="30.700000000000003" y1="502.4" x2="37.7" y2="502.4" stroke="#555" stroke-width="1.2"/>
<text x="28.900000000000002" y="507.2" font-size="13.5" font-weight="bold" text-anchor="end" fill="#111">1</text>
<line x1="33.7" y1="464.4" x2="37.7" y2="464.4" stroke="#555" stroke-width="1.2"/>
<line x1="30.700000000000003" y1="426.3" x2="37.7" y2="426.3" stroke="#555" stroke-width="1.2"/>
<text x="28.900000000000002" y="431.1" font-size="13.5" font-weight="bold" text-anchor="end" fill="#111">2</text>
<line x1="33.7" y1="388.3" x2="37.7" y2="388.3" stroke="#555" stroke-width="1.2"/>
<line x1="30.700000000000003" y1="350.2" x2="37.7" y2="350.2" stroke="#555" stroke-width="1.2"/>
<text x="28.900000000000002" y="355.0" font-size="13.5" font-weight="bold" text-anchor="end" fill="#111">3</text>
<line x1="93.2" y1="578.5" x2="93.2" y2="584.5" stroke="#555" stroke-width="1.2"/>
<text x="93.2" y="599.5" font-size="13.5" font-weight="bold" text-anchor="middle" fill="#111">-2</text>
<line x1="149.8" y1="578.5" x2="149.8" y2="582.0" stroke="#555" stroke-width="1.2"/>
<line x1="205.7" y1="578.5" x2="205.7" y2="584.5" stroke="#555" stroke-width="1.2"/>
<text x="205.7" y="599.5" font-size="13.5" font-weight="bold" text-anchor="middle" fill="#111">0</text>
<line x1="261.6" y1="578.5" x2="261.6" y2="582.0" stroke="#555" stroke-width="1.2"/>
<line x1="317.8" y1="578.5" x2="317.8" y2="584.5" stroke="#555" stroke-width="1.2"/>
<text x="317.8" y="599.5" font-size="13.5" font-weight="bold" text-anchor="middle" fill="#111">2</text>
<line x1="374.1" y1="578.5" x2="374.1" y2="584.5" stroke="#555" stroke-width="1.2"/>
<text x="206" y="614" font-size="14.4" text-anchor="middle" fill="#222">Fold change</text>
<text transform="translate(14,455) rotate(-90)" font-size="14.7" text-anchor="middle" fill="#222">-log(10) pval</text>
<text transform="translate(53.4,351) scale(0.86,1)" font-size="24" font-weight="bold" font-family=""Liberation Sans", sans-serif" fill="#000">c</text></g>
<line x1="576.8" y1="339.5" x2="576.8" y2="582.3" stroke="#999" stroke-width="1" stroke-dasharray="2.2,2.2"/>
<line x1="640.2" y1="339.5" x2="640.2" y2="582.3" stroke="#999" stroke-width="1" stroke-dasharray="2.2,2.2"/>
<line x1="438" y1="469.1" x2="781" y2="469.1" stroke="#999" stroke-width="1" stroke-dasharray="2.2,2.2"/>
<g fill="#a6a6a6" stroke="#1a1a1a" stroke-width="1.1">
<circle cx="628.1" cy="340.7" r="2.6"/>
<circle cx="629.5" cy="378.2" r="2.6"/>
<circle cx="618.8" cy="398.6" r="2.6"/>
<circle cx="639.3" cy="418.5" r="2.6"/>
<circle cx="633.0" cy="424.3" r="2.6"/>
<circle cx="578.7" cy="469.0" r="2.6"/>
<circle cx="579.3" cy="475.1" r="2.6"/>
<circle cx="637.9" cy="475.1" r="2.6"/>
<circle cx="633.0" cy="479.4" r="2.6"/>
<circle cx="630.1" cy="483.4" r="2.6"/>
<circle cx="694.7" cy="471.3" r="2.6"/>
<circle cx="652.3" cy="485.2" r="2.6"/>
<circle cx="653.7" cy="488.1" r="2.6"/>
<circle cx="667.3" cy="486.3" r="2.6"/>
<circle cx="675.4" cy="488.1" r="2.6"/>
<circle cx="686.9" cy="489.5" r="2.6"/>
<circle cx="697.3" cy="486.3" r="2.6"/>
<circle cx="625.8" cy="490.0" r="2.6"/>
<circle cx="506.5" cy="493.4" r="2.6"/>
<circle cx="530.3" cy="511.9" r="2.6"/>
<circle cx="450.6" cy="525.3" r="2.6"/>
<circle cx="528.0" cy="531.0" r="2.6"/>
<circle cx="537.0" cy="534.8" r="2.6"/>
<circle cx="515.0" cy="538.6" r="2.6"/>
<circle cx="542.7" cy="540.9" r="2.6"/>
<circle cx="557.0" cy="541.9" r="2.6"/>
<circle cx="500.4" cy="542.0" r="2.6"/>
<circle cx="486.5" cy="547.8" r="2.6"/>
<circle cx="524.6" cy="544.9" r="2.6"/>
<circle cx="519.4" cy="548.5" r="2.6"/>
<circle cx="514.7" cy="549.7" r="2.6"/>
<circle cx="521.7" cy="551.6" r="2.6"/>
<circle cx="528.4" cy="550.4" r="2.6"/>
<circle cx="524.6" cy="557.3" r="2.6"/>
<circle cx="537.0" cy="546.8" r="2.6"/>
<circle cx="544.2" cy="551.6" r="2.6"/>
<circle cx="549.4" cy="549.7" r="2.6"/>
<circle cx="549.4" cy="553.9" r="2.6"/>
<circle cx="557.9" cy="552.3" r="2.6"/>
<circle cx="557.4" cy="557.7" r="2.6"/>
<circle cx="504.6" cy="557.3" r="2.6"/>
<circle cx="505.9" cy="558.6" r="2.6"/>
<circle cx="448.0" cy="556.7" r="2.6"/>
<circle cx="550.9" cy="559.2" r="2.6"/>
<circle cx="549.4" cy="564.3" r="2.6"/>
<circle cx="542.7" cy="563.0" r="2.6"/>
<circle cx="545.5" cy="567.8" r="2.6"/>
<circle cx="551.6" cy="568.2" r="2.6"/>
<circle cx="532.6" cy="564.9" r="2.6"/>
<circle cx="532.6" cy="568.2" r="2.6"/>
<circle cx="525.5" cy="573.9" r="2.6"/>
<circle cx="530.3" cy="572.9" r="2.6"/>
<circle cx="535.1" cy="574.4" r="2.6"/>
<circle cx="537.9" cy="576.7" r="2.6"/>
<circle cx="543.3" cy="575.8" r="2.6"/>
<circle cx="544.2" cy="573.9" r="2.6"/>
<circle cx="529.3" cy="577.7" r="2.6"/>
<circle cx="531.2" cy="580.5" r="2.6"/>
<circle cx="484.9" cy="580.5" r="2.6"/>
<circle cx="554.1" cy="580.5" r="2.6"/>
<circle cx="564.6" cy="580.5" r="2.6"/>
<circle cx="556.0" cy="574.4" r="2.6"/>
<circle cx="561.7" cy="573.9" r="2.6"/>
<circle cx="562.7" cy="559.6" r="2.6"/>
<circle cx="563.1" cy="564.3" r="2.6"/>
<circle cx="562.3" cy="568.2" r="2.6"/>
<circle cx="568.4" cy="553.9" r="2.6"/>
<circle cx="572.2" cy="552.9" r="2.6"/>
<circle cx="570.7" cy="556.7" r="2.6"/>
<circle cx="575.1" cy="543.0" r="2.6"/>
<circle cx="579.3" cy="540.5" r="2.6"/>
<circle cx="579.5" cy="542.4" r="2.6"/>
<circle cx="573.2" cy="568.2" r="2.6"/>
<circle cx="572.2" cy="575.8" r="2.6"/>
<circle cx="576.0" cy="557.7" r="2.6"/>
<circle cx="577.9" cy="563.4" r="2.6"/>
<circle cx="580.8" cy="552.0" r="2.6"/>
<circle cx="638.2" cy="475.0" r="2.6"/>
<circle cx="625.7" cy="491.8" r="2.6"/>
<circle cx="653.9" cy="488.0" r="2.6"/>
<circle cx="650.8" cy="492.9" r="2.6"/>
<circle cx="643.2" cy="493.6" r="2.6"/>
<circle cx="646.2" cy="497.1" r="2.6"/>
<circle cx="644.7" cy="501.7" r="2.6"/>
<circle cx="660.0" cy="497.4" r="2.6"/>
<circle cx="662.7" cy="492.9" r="2.6"/>
<circle cx="666.8" cy="497.9" r="2.6"/>
<circle cx="666.4" cy="502.0" r="2.6"/>
<circle cx="662.7" cy="506.1" r="2.6"/>
<circle cx="614.7" cy="513.2" r="2.6"/>
<circle cx="637.1" cy="507.4" r="2.6"/>
<circle cx="642.4" cy="508.9" r="2.6"/>
<circle cx="649.3" cy="510.9" r="2.6"/>
<circle cx="647.0" cy="515.4" r="2.6"/>
<circle cx="654.6" cy="513.5" r="2.6"/>
<circle cx="660.0" cy="515.0" r="2.6"/>
<circle cx="657.7" cy="523.4" r="2.6"/>
<circle cx="664.5" cy="521.1" r="2.6"/>
<circle cx="679.0" cy="520.3" r="2.6"/>
<circle cx="687.4" cy="518.8" r="2.6"/>
<circle cx="625.7" cy="520.0" r="2.6"/>
<circle cx="630.2" cy="518.5" r="2.6"/>
<circle cx="624.9" cy="524.9" r="2.6"/>
<circle cx="629.8" cy="524.9" r="2.6"/>
<circle cx="601.3" cy="531.8" r="2.6"/>
<circle cx="574.6" cy="541.7" r="2.6"/>
<circle cx="579.1" cy="540.9" r="2.6"/>
<circle cx="594.4" cy="548.5" r="2.6"/>
<circle cx="602.0" cy="548.5" r="2.6"/>
<circle cx="607.4" cy="553.9" r="2.6"/>
<circle cx="673.7" cy="527.2" r="2.6"/>
<circle cx="676.7" cy="528.4" r="2.6"/>
<circle cx="681.3" cy="527.6" r="2.6"/>
<circle cx="685.9" cy="527.6" r="2.6"/>
<circle cx="688.9" cy="529.5" r="2.6"/>
<circle cx="687.4" cy="552.3" r="2.6"/>
<circle cx="681.3" cy="557.2" r="2.6"/>
<circle cx="672.5" cy="575.2" r="2.6"/>
<circle cx="675.2" cy="572.2" r="2.6"/>
<circle cx="666.1" cy="578.6" r="2.6"/>
<circle cx="652.3" cy="580.6" r="2.6"/>
<circle cx="656.2" cy="580.6" r="2.6"/>
<circle cx="697.0" cy="486.5" r="2.6"/>
<circle cx="687.5" cy="490.6" r="2.6"/>
<circle cx="695.6" cy="500.5" r="2.6"/>
<circle cx="716.4" cy="500.8" r="2.6"/>
<circle cx="724.9" cy="505.1" r="2.6"/>
<circle cx="712.6" cy="512.6" r="2.6"/>
<circle cx="731.0" cy="512.8" r="2.6"/>
<circle cx="731.4" cy="516.8" r="2.6"/>
<circle cx="744.3" cy="518.7" r="2.6"/>
<circle cx="687.5" cy="518.7" r="2.6"/>
<circle cx="691.6" cy="521.2" r="2.6"/>
<circle cx="699.3" cy="522.8" r="2.6"/>
<circle cx="680.7" cy="520.5" r="2.6"/>
<circle cx="681.4" cy="528.0" r="2.6"/>
<circle cx="685.4" cy="527.3" r="2.6"/>
<circle cx="690.2" cy="527.3" r="2.6"/>
<circle cx="689.8" cy="530.0" r="2.6"/>
<circle cx="707.9" cy="525.3" r="2.6"/>
<circle cx="711.3" cy="526.9" r="2.6"/>
<circle cx="717.4" cy="531.7" r="2.6"/>
<circle cx="721.5" cy="532.7" r="2.6"/>
<circle cx="727.3" cy="534.1" r="2.6"/>
<circle cx="738.9" cy="529.6" r="2.6"/>
<circle cx="738.2" cy="538.6" r="2.6"/>
<circle cx="745.0" cy="536.8" r="2.6"/>
<circle cx="703.1" cy="537.5" r="2.6"/>
<circle cx="701.5" cy="540.9" r="2.6"/>
<circle cx="715.6" cy="541.2" r="2.6"/>
<circle cx="709.0" cy="544.3" r="2.6"/>
<circle cx="704.2" cy="549.3" r="2.6"/>
<circle cx="707.2" cy="549.3" r="2.6"/>
<circle cx="711.3" cy="549.3" r="2.6"/>
<circle cx="715.6" cy="549.1" r="2.6"/>
<circle cx="723.5" cy="548.6" r="2.6"/>
<circle cx="727.3" cy="548.6" r="2.6"/>
<circle cx="742.8" cy="549.3" r="2.6"/>
<circle cx="753.1" cy="547.0" r="2.6"/>
<circle cx="756.4" cy="547.0" r="2.6"/>
<circle cx="680.7" cy="547.0" r="2.6"/>
<circle cx="680.7" cy="550.4" r="2.6"/>
<circle cx="681.6" cy="557.2" r="2.6"/>
<circle cx="687.9" cy="552.5" r="2.6"/>
<circle cx="692.9" cy="549.7" r="2.6"/>
<circle cx="693.6" cy="552.7" r="2.6"/>
<circle cx="695.2" cy="563.7" r="2.6"/>
<circle cx="691.6" cy="572.6" r="2.6"/>
<circle cx="697.0" cy="572.6" r="2.6"/>
<circle cx="688.2" cy="578.3" r="2.6"/>
<circle cx="727.9" cy="580.2" r="2.6"/>
<circle cx="577.8" cy="564.0" r="2.6"/>
<circle cx="602.8" cy="572.3" r="2.6"/>
<circle cx="601.3" cy="563.3" r="2.6"/>
<circle cx="604.0" cy="566.6" r="2.6"/>
<circle cx="575.2" cy="564.0" r="2.6"/>
<circle cx="573.9" cy="579.8" r="2.6"/>
<circle cx="584.4" cy="574.3" r="2.6"/>
<circle cx="579.5" cy="560.5" r="2.6"/>
<circle cx="597.1" cy="580.8" r="2.6"/>
<circle cx="580.4" cy="580.6" r="2.6"/>
<circle cx="594.2" cy="578.7" r="2.6"/>
<circle cx="604.7" cy="554.3" r="2.6"/>
<circle cx="597.9" cy="553.1" r="2.6"/>
<circle cx="602.9" cy="567.7" r="2.6"/>
<circle cx="579.7" cy="576.8" r="2.6"/>
<circle cx="589.9" cy="570.0" r="2.6"/>
<circle cx="594.2" cy="581.0" r="2.6"/>
<circle cx="596.4" cy="572.7" r="2.6"/>
<circle cx="603.0" cy="565.7" r="2.6"/>
<circle cx="583.6" cy="568.5" r="2.6"/>
<circle cx="593.1" cy="560.3" r="2.6"/>
<circle cx="606.2" cy="561.0" r="2.6"/>
<circle cx="591.3" cy="574.1" r="2.6"/>
<circle cx="604.6" cy="578.4" r="2.6"/>
<circle cx="598.1" cy="557.3" r="2.6"/>
<circle cx="605.9" cy="579.0" r="2.6"/>
<circle cx="600.6" cy="574.3" r="2.6"/>
<circle cx="592.5" cy="565.3" r="2.6"/>
<circle cx="595.3" cy="553.9" r="2.6"/>
<circle cx="599.0" cy="577.4" r="2.6"/>
<circle cx="578.6" cy="573.9" r="2.6"/>
<circle cx="600.2" cy="553.0" r="2.6"/>
<circle cx="574.0" cy="568.6" r="2.6"/>
<circle cx="580.8" cy="559.2" r="2.6"/>
<circle cx="596.8" cy="570.5" r="2.6"/>
<circle cx="601.9" cy="567.8" r="2.6"/>
<circle cx="593.0" cy="572.8" r="2.6"/>
<circle cx="580.4" cy="561.9" r="2.6"/>
<circle cx="609.5" cy="562.2" r="2.6"/>
<circle cx="600.5" cy="569.4" r="2.6"/>
<circle cx="598.4" cy="564.7" r="2.6"/>
<circle cx="593.8" cy="572.1" r="2.6"/>
<circle cx="578.4" cy="575.4" r="2.6"/>
<circle cx="579.9" cy="557.2" r="2.6"/>
<circle cx="597.7" cy="553.1" r="2.6"/>
<circle cx="574.7" cy="580.2" r="2.6"/>
<circle cx="588.1" cy="566.8" r="2.6"/>
<circle cx="591.0" cy="560.3" r="2.6"/>
<circle cx="590.2" cy="555.4" r="2.6"/>
<circle cx="595.2" cy="557.3" r="2.6"/>
<circle cx="588.5" cy="579.7" r="2.6"/>
<circle cx="595.9" cy="581.4" r="2.6"/>
<circle cx="588.0" cy="557.6" r="2.6"/>
<circle cx="600.4" cy="555.3" r="2.6"/>
<circle cx="582.9" cy="558.0" r="2.6"/>
<circle cx="584.2" cy="579.9" r="2.6"/>
<circle cx="611.7" cy="567.4" r="2.6"/>
<circle cx="597.7" cy="569.7" r="2.6"/>
<circle cx="606.1" cy="576.1" r="2.6"/>
<circle cx="586.1" cy="571.2" r="2.6"/>
<circle cx="589.8" cy="573.0" r="2.6"/>
<circle cx="579.4" cy="581.2" r="2.6"/>
<circle cx="586.1" cy="575.4" r="2.6"/>
<circle cx="577.7" cy="578.4" r="2.6"/>
<circle cx="600.1" cy="565.7" r="2.6"/>
<circle cx="579.0" cy="561.6" r="2.6"/>
<circle cx="589.9" cy="556.0" r="2.6"/>
<circle cx="578.4" cy="576.8" r="2.6"/>
<circle cx="594.0" cy="557.9" r="2.6"/>
<circle cx="597.0" cy="569.9" r="2.6"/>
<circle cx="633.6" cy="521.4" r="2.6"/>
<circle cx="634.0" cy="518.4" r="2.6"/>
<circle cx="641.7" cy="550.8" r="2.6"/>
<circle cx="630.3" cy="568.4" r="2.6"/>
<circle cx="610.0" cy="580.2" r="2.6"/>
<circle cx="635.8" cy="521.8" r="2.6"/>
<circle cx="632.7" cy="540.4" r="2.6"/>
<circle cx="648.9" cy="552.7" r="2.6"/>
<circle cx="648.7" cy="575.2" r="2.6"/>
<circle cx="638.9" cy="549.6" r="2.6"/>
<circle cx="665.8" cy="554.8" r="2.6"/>
<circle cx="629.3" cy="539.4" r="2.6"/>
<circle cx="624.7" cy="532.2" r="2.6"/>
<circle cx="643.6" cy="576.0" r="2.6"/>
<circle cx="665.1" cy="552.6" r="2.6"/>
<circle cx="629.0" cy="528.6" r="2.6"/>
<circle cx="649.4" cy="564.5" r="2.6"/>
<circle cx="655.3" cy="564.1" r="2.6"/>
<circle cx="636.5" cy="568.7" r="2.6"/>
<circle cx="649.0" cy="576.2" r="2.6"/>
<circle cx="665.5" cy="530.4" r="2.6"/>
<circle cx="640.3" cy="538.1" r="2.6"/>
<circle cx="670.6" cy="537.3" r="2.6"/>
<circle cx="648.1" cy="568.7" r="2.6"/>
<circle cx="629.7" cy="555.0" r="2.6"/>
<circle cx="624.6" cy="580.8" r="2.6"/>
<circle cx="636.8" cy="567.8" r="2.6"/>
<circle cx="666.2" cy="561.1" r="2.6"/>
<circle cx="637.6" cy="560.2" r="2.6"/>
<circle cx="644.2" cy="559.7" r="2.6"/>
<circle cx="669.7" cy="536.6" r="2.6"/>
<circle cx="629.0" cy="530.3" r="2.6"/>
<circle cx="637.9" cy="569.5" r="2.6"/>
<circle cx="629.0" cy="547.2" r="2.6"/>
<circle cx="655.4" cy="515.3" r="2.6"/>
<circle cx="630.7" cy="558.5" r="2.6"/>
<circle cx="638.9" cy="548.0" r="2.6"/>
<circle cx="647.3" cy="557.4" r="2.6"/>
<circle cx="670.9" cy="542.7" r="2.6"/>
<circle cx="641.7" cy="515.1" r="2.6"/>
<circle cx="634.0" cy="514.3" r="2.6"/>
<circle cx="644.2" cy="520.6" r="2.6"/>
<circle cx="656.8" cy="524.8" r="2.6"/>
<circle cx="659.6" cy="538.1" r="2.6"/>
<circle cx="621.0" cy="564.4" r="2.6"/>
<circle cx="616.9" cy="563.4" r="2.6"/>
<circle cx="642.3" cy="552.6" r="2.6"/>
<circle cx="666.8" cy="550.1" r="2.6"/>
<circle cx="633.6" cy="531.5" r="2.6"/>
<circle cx="647.4" cy="563.4" r="2.6"/>
<circle cx="638.7" cy="554.1" r="2.6"/>
<circle cx="654.5" cy="546.9" r="2.6"/>
<circle cx="644.2" cy="540.2" r="2.6"/>
<circle cx="662.1" cy="528.9" r="2.6"/>
<circle cx="639.8" cy="564.2" r="2.6"/>
<circle cx="644.4" cy="531.7" r="2.6"/>
<circle cx="669.6" cy="536.9" r="2.6"/>
<circle cx="668.2" cy="560.3" r="2.6"/>
<circle cx="665.1" cy="562.8" r="2.6"/>
<circle cx="658.8" cy="568.5" r="2.6"/>
<circle cx="620.8" cy="554.8" r="2.6"/>
<circle cx="612.8" cy="559.8" r="2.6"/>
<circle cx="650.9" cy="566.4" r="2.6"/>
<circle cx="661.6" cy="539.8" r="2.6"/>
<circle cx="631.8" cy="520.2" r="2.6"/>
<circle cx="627.3" cy="522.4" r="2.6"/>
<circle cx="650.0" cy="532.5" r="2.6"/>
<circle cx="620.5" cy="580.6" r="2.6"/>
<circle cx="613.9" cy="557.1" r="2.6"/>
<circle cx="646.5" cy="558.6" r="2.6"/>
<circle cx="640.2" cy="563.1" r="2.6"/>
<circle cx="647.1" cy="539.7" r="2.6"/>
<circle cx="629.0" cy="550.9" r="2.6"/>
<circle cx="627.6" cy="526.7" r="2.6"/>
<circle cx="646.4" cy="517.9" r="2.6"/>
<circle cx="624.6" cy="548.6" r="2.6"/>
<circle cx="639.6" cy="554.5" r="2.6"/>
<circle cx="629.6" cy="530.6" r="2.6"/>
<circle cx="664.0" cy="542.5" r="2.6"/>
<circle cx="627.1" cy="529.2" r="2.6"/>
<circle cx="663.0" cy="547.7" r="2.6"/>
<circle cx="637.9" cy="564.8" r="2.6"/>
<circle cx="632.6" cy="515.6" r="2.6"/>
<circle cx="654.1" cy="523.3" r="2.6"/>
<circle cx="648.4" cy="545.5" r="2.6"/>
<circle cx="649.8" cy="526.5" r="2.6"/>
<circle cx="628.3" cy="556.7" r="2.6"/>
<circle cx="641.2" cy="560.2" r="2.6"/>
<circle cx="655.3" cy="524.5" r="2.6"/>
<circle cx="636.7" cy="562.2" r="2.6"/>
<circle cx="651.8" cy="556.2" r="2.6"/>
<circle cx="643.0" cy="556.1" r="2.6"/>
<circle cx="629.3" cy="571.8" r="2.6"/>
<circle cx="646.5" cy="545.5" r="2.6"/>
<circle cx="644.1" cy="533.7" r="2.6"/>
<circle cx="637.4" cy="532.8" r="2.6"/>
<circle cx="669.0" cy="531.1" r="2.6"/>
<circle cx="613.9" cy="577.5" r="2.6"/>
<circle cx="651.3" cy="516.3" r="2.6"/>
<circle cx="647.0" cy="511.7" r="2.6"/>
<circle cx="621.3" cy="541.8" r="2.6"/>
<circle cx="666.4" cy="548.5" r="2.6"/>
<circle cx="643.7" cy="519.9" r="2.6"/>
<circle cx="654.2" cy="569.4" r="2.6"/>
<circle cx="628.6" cy="558.9" r="2.6"/>
<circle cx="658.0" cy="526.5" r="2.6"/>
<circle cx="614.4" cy="574.0" r="2.6"/>
<circle cx="625.1" cy="539.2" r="2.6"/>
<circle cx="654.7" cy="568.7" r="2.6"/>
<circle cx="647.8" cy="550.7" r="2.6"/>
<circle cx="648.4" cy="557.0" r="2.6"/>
<circle cx="620.0" cy="553.9" r="2.6"/>
<circle cx="634.8" cy="568.6" r="2.6"/>
<circle cx="635.7" cy="527.5" r="2.6"/>
<circle cx="613.5" cy="561.8" r="2.6"/>
<circle cx="658.2" cy="569.9" r="2.6"/>
<circle cx="617.0" cy="574.5" r="2.6"/>
<circle cx="658.9" cy="540.6" r="2.6"/>
<circle cx="657.8" cy="541.0" r="2.6"/>
<circle cx="668.2" cy="551.6" r="2.6"/>
<circle cx="631.8" cy="527.6" r="2.6"/>
<circle cx="620.7" cy="548.0" r="2.6"/>
<circle cx="638.4" cy="550.0" r="2.6"/>
<circle cx="661.9" cy="562.2" r="2.6"/>
<circle cx="638.5" cy="544.3" r="2.6"/>
<circle cx="656.3" cy="561.3" r="2.6"/>
<circle cx="625.0" cy="581.3" r="2.6"/>
<circle cx="633.5" cy="533.7" r="2.6"/>
<circle cx="657.1" cy="544.8" r="2.6"/>
<circle cx="646.0" cy="564.4" r="2.6"/>
<circle cx="613.7" cy="557.0" r="2.6"/>
<circle cx="635.7" cy="554.7" r="2.6"/>
<circle cx="620.5" cy="557.5" r="2.6"/>
<circle cx="627.9" cy="524.8" r="2.6"/>
<circle cx="621.9" cy="538.5" r="2.6"/>
<circle cx="628.7" cy="545.2" r="2.6"/>
<circle cx="627.2" cy="573.6" r="2.6"/>
<circle cx="657.7" cy="555.8" r="2.6"/>
<circle cx="621.0" cy="541.1" r="2.6"/>
<circle cx="632.5" cy="523.1" r="2.6"/>
<circle cx="614.6" cy="580.2" r="2.6"/>
<circle cx="637.4" cy="533.9" r="2.6"/>
<circle cx="619.9" cy="579.5" r="2.6"/>
<circle cx="658.4" cy="516.2" r="2.6"/>
<circle cx="648.5" cy="552.7" r="2.6"/>
<circle cx="642.7" cy="516.8" r="2.6"/>
<circle cx="632.3" cy="577.4" r="2.6"/>
<circle cx="624.4" cy="568.5" r="2.6"/>
<circle cx="631.7" cy="576.9" r="2.6"/>
<circle cx="649.4" cy="553.1" r="2.6"/>
<circle cx="645.4" cy="553.5" r="2.6"/>
<circle cx="636.7" cy="580.0" r="2.6"/>
<circle cx="611.7" cy="573.7" r="2.6"/>
<circle cx="646.5" cy="516.8" r="2.6"/>
<circle cx="647.6" cy="560.8" r="2.6"/>
<circle cx="656.0" cy="555.4" r="2.6"/>
<circle cx="631.3" cy="518.0" r="2.6"/>
<circle cx="628.0" cy="546.7" r="2.6"/>
<circle cx="657.5" cy="537.0" r="2.6"/>
<circle cx="635.1" cy="559.2" r="2.6"/>
<circle cx="635.3" cy="539.4" r="2.6"/>
<circle cx="649.6" cy="512.1" r="2.6"/>
<circle cx="659.2" cy="515.9" r="2.6"/>
<circle cx="614.9" cy="572.6" r="2.6"/>
<circle cx="620.4" cy="579.7" r="2.6"/>
<circle cx="658.2" cy="569.6" r="2.6"/>
<circle cx="654.6" cy="522.7" r="2.6"/>
<circle cx="637.7" cy="524.6" r="2.6"/>
<circle cx="649.8" cy="563.8" r="2.6"/>
<circle cx="627.1" cy="533.0" r="2.6"/>
<circle cx="633.9" cy="537.4" r="2.6"/>
<circle cx="643.9" cy="545.4" r="2.6"/>
<circle cx="661.2" cy="555.6" r="2.6"/>
<circle cx="657.7" cy="537.6" r="2.6"/>
<circle cx="616.6" cy="572.1" r="2.6"/>
<circle cx="628.0" cy="560.2" r="2.6"/>
<circle cx="651.3" cy="513.1" r="2.6"/>
<circle cx="640.9" cy="569.9" r="2.6"/>
<circle cx="625.2" cy="529.5" r="2.6"/>
<circle cx="667.8" cy="528.8" r="2.6"/>
<circle cx="644.4" cy="557.8" r="2.6"/>
<circle cx="637.1" cy="517.7" r="2.6"/>
<circle cx="650.2" cy="518.7" r="2.6"/>
<circle cx="637.5" cy="545.4" r="2.6"/>
<circle cx="624.1" cy="564.5" r="2.6"/>
<circle cx="626.3" cy="560.0" r="2.6"/>
<circle cx="645.7" cy="571.8" r="2.6"/>
<circle cx="625.9" cy="558.5" r="2.6"/>
<circle cx="625.7" cy="562.6" r="2.6"/>
<circle cx="631.8" cy="562.6" r="2.6"/>
<circle cx="648.9" cy="575.6" r="2.6"/>
<circle cx="631.3" cy="563.5" r="2.6"/>
<circle cx="631.1" cy="526.0" r="2.6"/>
<circle cx="632.8" cy="559.9" r="2.6"/>
<circle cx="641.8" cy="569.7" r="2.6"/>
<circle cx="660.8" cy="550.9" r="2.6"/>
<circle cx="648.7" cy="576.4" r="2.6"/>
<circle cx="640.3" cy="580.2" r="2.6"/>
<circle cx="643.4" cy="571.9" r="2.6"/>
<circle cx="636.5" cy="518.3" r="2.6"/>
</g>
<polygon points="590,580 597,570 610,565 624,557 629,563 627,580" fill="#262626" stroke="#262626" stroke-width="3" stroke-linejoin="round"/>
<g fill="#a6a6a6" stroke="#1a1a1a" stroke-width="1.1">
<circle cx="621.6" cy="577.1" r="2.6"/>
<circle cx="611.7" cy="565.7" r="2.6"/>
<circle cx="610.3" cy="575.7" r="2.6"/>
<circle cx="620.6" cy="560.3" r="2.6"/>
<circle cx="629.4" cy="574.4" r="2.6"/>
<circle cx="618.8" cy="559.9" r="2.6"/>
<circle cx="627.8" cy="579.6" r="2.6"/>
<circle cx="603.7" cy="573.4" r="2.6"/>
<circle cx="630.0" cy="579.6" r="2.6"/>
<circle cx="617.5" cy="572.0" r="2.6"/>
<circle cx="591.9" cy="577.1" r="2.6"/>
<circle cx="620.6" cy="567.7" r="2.6"/>
<circle cx="626.9" cy="576.6" r="2.6"/>
<circle cx="631.7" cy="573.9" r="2.6"/>
<circle cx="609.6" cy="569.2" r="2.6"/>
<circle cx="589.8" cy="576.0" r="2.6"/>
<circle cx="615.7" cy="561.6" r="2.6"/>
<circle cx="615.9" cy="559.6" r="2.6"/>
<circle cx="619.0" cy="572.2" r="2.6"/>
<circle cx="624.5" cy="563.8" r="2.6"/>
<circle cx="623.9" cy="554.6" r="2.6"/>
<circle cx="630.3" cy="575.3" r="2.6"/>
<circle cx="625.5" cy="557.0" r="2.6"/>
<circle cx="630.6" cy="575.3" r="2.6"/>
<circle cx="610.6" cy="567.3" r="2.6"/>
<circle cx="615.5" cy="574.6" r="2.6"/>
<circle cx="630.9" cy="558.9" r="2.6"/>
<circle cx="631.3" cy="564.9" r="2.6"/>
<circle cx="622.5" cy="566.9" r="2.6"/>
<circle cx="611.9" cy="577.0" r="2.6"/>
<circle cx="612.2" cy="574.0" r="2.6"/>
<circle cx="622.3" cy="567.1" r="2.6"/>
<circle cx="603.6" cy="575.1" r="2.6"/>
<circle cx="626.4" cy="574.6" r="2.6"/>
<circle cx="599.8" cy="571.5" r="2.6"/>
<circle cx="597.2" cy="579.3" r="2.6"/>
<circle cx="627.8" cy="571.4" r="2.6"/>
<circle cx="597.9" cy="575.2" r="2.6"/>
<circle cx="594.3" cy="574.1" r="2.6"/>
<circle cx="627.4" cy="578.7" r="2.6"/>
<circle cx="601.2" cy="570.0" r="2.6"/>
<circle cx="625.4" cy="581.7" r="2.6"/>
<circle cx="598.5" cy="574.1" r="2.6"/>
<circle cx="622.2" cy="569.4" r="2.6"/>
<circle cx="617.4" cy="566.3" r="2.6"/>
<circle cx="614.1" cy="575.3" r="2.6"/>
<circle cx="604.8" cy="571.1" r="2.6"/>
<circle cx="619.5" cy="581.6" r="2.6"/>
<circle cx="607.4" cy="570.4" r="2.6"/>
<circle cx="623.8" cy="569.6" r="2.6"/>
<circle cx="607.4" cy="566.6" r="2.6"/>
<circle cx="610.6" cy="572.7" r="2.6"/>
<circle cx="596.4" cy="573.5" r="2.6"/>
<circle cx="619.5" cy="578.4" r="2.6"/>
<circle cx="628.5" cy="572.3" r="2.6"/>
<circle cx="616.8" cy="566.3" r="2.6"/>
<circle cx="619.9" cy="561.2" r="2.6"/>
<circle cx="613.2" cy="569.0" r="2.6"/>
<circle cx="602.3" cy="571.8" r="2.6"/>
<circle cx="605.6" cy="570.1" r="2.6"/>
<circle cx="575.0" cy="580.6" r="2.6"/>
<circle cx="579.0" cy="580.6" r="2.6"/>
<circle cx="583.0" cy="580.6" r="2.6"/>
<circle cx="587.0" cy="580.6" r="2.6"/>
<circle cx="591.0" cy="580.6" r="2.6"/>
<circle cx="595.0" cy="580.6" r="2.6"/>
<circle cx="599.0" cy="580.6" r="2.6"/>
<circle cx="603.0" cy="580.6" r="2.6"/>
<circle cx="607.0" cy="580.6" r="2.6"/>
<circle cx="611.0" cy="580.6" r="2.6"/>
<circle cx="615.0" cy="580.6" r="2.6"/>
<circle cx="619.0" cy="580.6" r="2.6"/>
<circle cx="623.0" cy="580.6" r="2.6"/>
<circle cx="627.0" cy="580.6" r="2.6"/>
<circle cx="631.0" cy="580.6" r="2.6"/>
<circle cx="635.0" cy="580.6" r="2.6"/>
<circle cx="639.0" cy="580.6" r="2.6"/>
<circle cx="643.0" cy="580.6" r="2.6"/>
</g>
<circle cx="664.7" cy="439" r="3.0" fill="#e01010" stroke="#222" stroke-width="0.8"/>
<circle cx="640.8" cy="451.7" r="3.0" fill="#e86060" stroke="#222" stroke-width="0.8"/>
<circle cx="663.8" cy="457.8" r="3.0" fill="#e01010" stroke="#222" stroke-width="0.8"/>
<circle cx="692.1" cy="456.3" r="3.0" fill="#e01010" stroke="#222" stroke-width="0.8"/>
<text x="671" y="438.7" font-size="9.5" fill="#222">CHI3L1</text>
<text x="606.7" y="443" font-size="9.5" fill="#222">ANX11</text>
<text x="652.3" y="452.6" font-size="9.5" fill="#222">ACLS3</text>
<text x="697.9" y="461.8" font-size="9.5" fill="#222">LACTB</text>
<line x1="435.3" y1="330.2" x2="435.3" y2="582.3" stroke="#555" stroke-width="1.4"/>
<line x1="434.6" y1="582.3" x2="783" y2="582.3" stroke="#555" stroke-width="1.4"/>
<line x1="428.3" y1="582" x2="435.3" y2="582" stroke="#555" stroke-width="1.2"/>
<text x="426.5" y="586.8" font-size="13.5" font-weight="bold" text-anchor="end" fill="#111">0</text>
<line x1="431.3" y1="540" x2="435.3" y2="540" stroke="#555" stroke-width="1.2"/>
<line x1="428.3" y1="498" x2="435.3" y2="498" stroke="#555" stroke-width="1.2"/>
<text x="426.5" y="502.8" font-size="13.5" font-weight="bold" text-anchor="end" fill="#111">1</text>
<line x1="431.3" y1="456" x2="435.3" y2="456" stroke="#555" stroke-width="1.2"/>
<line x1="428.3" y1="414" x2="435.3" y2="414" stroke="#555" stroke-width="1.2"/>
<text x="426.5" y="418.8" font-size="13.5" font-weight="bold" text-anchor="end" fill="#111">2</text>
<line x1="431.3" y1="372" x2="435.3" y2="372" stroke="#555" stroke-width="1.2"/>
<line x1="428.3" y1="330.2" x2="435.3" y2="330.2" stroke="#555" stroke-width="1.2"/>
<text x="426.5" y="335.0" font-size="13.5" font-weight="bold" text-anchor="end" fill="#111">3</text>
<line x1="493.9" y1="582.3" x2="493.9" y2="588.3" stroke="#555" stroke-width="1.2"/>
<text x="493.9" y="603.3" font-size="13.5" font-weight="bold" text-anchor="middle" fill="#111">-2</text>
<line x1="551.5" y1="582.3" x2="551.5" y2="585.8" stroke="#555" stroke-width="1.2"/>
<line x1="609.2" y1="582.3" x2="609.2" y2="588.3" stroke="#555" stroke-width="1.2"/>
<text x="609.2" y="603.3" font-size="13.5" font-weight="bold" text-anchor="middle" fill="#111">0</text>
<line x1="667" y1="582.3" x2="667" y2="585.8" stroke="#555" stroke-width="1.2"/>
<line x1="724.6" y1="582.3" x2="724.6" y2="588.3" stroke="#555" stroke-width="1.2"/>
<text x="724.6" y="603.3" font-size="13.5" font-weight="bold" text-anchor="middle" fill="#111">2</text>
<line x1="782.4" y1="582.3" x2="782.4" y2="588.3" stroke="#555" stroke-width="1.2"/>
<text x="609.3" y="620" font-size="14.4" text-anchor="middle" fill="#222">Fold change</text>
<text transform="translate(413,456) rotate(-90)" font-size="14.7" text-anchor="middle" fill="#222">-log(10) pval</text>
<text transform="translate(448.5,351) scale(1,1)" font-size="24" font-weight="bold" font-family=""Liberation Sans", sans-serif" fill="#000">d</text>
<line x1="176.3" y1="666.4" x2="176.3" y2="900.6" stroke="#999" stroke-width="1" stroke-dasharray="2.2,2.2"/>
<line x1="242.6" y1="666.4" x2="242.6" y2="900.6" stroke="#999" stroke-width="1" stroke-dasharray="2.2,2.2"/>
<line x1="45" y1="769.6" x2="376.5" y2="769.6" stroke="#999" stroke-width="1" stroke-dasharray="2.2,2.2"/>
<g fill="#a6a6a6" stroke="#1a1a1a" stroke-width="1.1">
<circle cx="195.6" cy="707.8" r="2.6"/>
<circle cx="177.8" cy="746.9" r="2.6"/>
<circle cx="202.9" cy="745.6" r="2.6"/>
<circle cx="188.5" cy="756.6" r="2.6"/>
<circle cx="225.3" cy="757.1" r="2.6"/>
<circle cx="239.3" cy="780.2" r="2.6"/>
<circle cx="190.5" cy="786.0" r="2.6"/>
<circle cx="196.8" cy="784.5" r="2.6"/>
<circle cx="198.6" cy="791.6" r="2.6"/>
<circle cx="184.1" cy="797.2" r="2.6"/>
<circle cx="187.2" cy="798.0" r="2.6"/>
<circle cx="179.6" cy="808.2" r="2.6"/>
<circle cx="178.8" cy="815.0" r="2.6"/>
<circle cx="199.4" cy="805.4" r="2.6"/>
<circle cx="201.2" cy="808.7" r="2.6"/>
<circle cx="216.9" cy="804.1" r="2.6"/>
<circle cx="195.3" cy="814.3" r="2.6"/>
<circle cx="188.5" cy="817.0" r="2.6"/>
<circle cx="230.9" cy="811.2" r="2.6"/>
<circle cx="225.3" cy="817.6" r="2.6"/>
<circle cx="237.2" cy="818.1" r="2.6"/>
<circle cx="150.4" cy="845.0" r="2.6"/>
<circle cx="151.2" cy="846.0" r="2.6"/>
<circle cx="116.2" cy="898.8" r="2.6"/>
<circle cx="131.9" cy="895.4" r="2.6"/>
<circle cx="137.6" cy="899.4" r="2.6"/>
<circle cx="139.6" cy="899.4" r="2.6"/>
<circle cx="149.8" cy="873.4" r="2.6"/>
<circle cx="151.8" cy="876.1" r="2.6"/>
<circle cx="148.8" cy="883.6" r="2.6"/>
<circle cx="159.5" cy="876.5" r="2.6"/>
<circle cx="164.0" cy="864.5" r="2.6"/>
<circle cx="169.1" cy="866.9" r="2.6"/>
<circle cx="168.1" cy="871.0" r="2.6"/>
<circle cx="165.0" cy="873.4" r="2.6"/>
<circle cx="171.7" cy="844.0" r="2.6"/>
<circle cx="171.1" cy="880.1" r="2.6"/>
<circle cx="176.6" cy="832.4" r="2.6"/>
<circle cx="176.2" cy="819.1" r="2.6"/>
<circle cx="180.3" cy="820.2" r="2.6"/>
<circle cx="182.3" cy="826.3" r="2.6"/>
<circle cx="185.4" cy="823.2" r="2.6"/>
<circle cx="179.3" cy="814.1" r="2.6"/>
<circle cx="188.8" cy="817.1" r="2.6"/>
<circle cx="195.5" cy="814.1" r="2.6"/>
<circle cx="185.4" cy="836.4" r="2.6"/>
<circle cx="190.8" cy="836.0" r="2.6"/>
<circle cx="196.1" cy="832.4" r="2.6"/>
<circle cx="183.3" cy="842.5" r="2.6"/>
<circle cx="187.4" cy="847.6" r="2.6"/>
<circle cx="193.5" cy="844.6" r="2.6"/>
<circle cx="197.6" cy="845.6" r="2.6"/>
<circle cx="177.2" cy="854.7" r="2.6"/>
<circle cx="178.2" cy="851.7" r="2.6"/>
<circle cx="186.0" cy="856.8" r="2.6"/>
<circle cx="176.6" cy="861.8" r="2.6"/>
<circle cx="178.2" cy="865.9" r="2.6"/>
<circle cx="173.2" cy="895.4" r="2.6"/>
<circle cx="174.2" cy="899.4" r="2.6"/>
<circle cx="199.1" cy="791.9" r="2.6"/>
<circle cx="185.3" cy="797.4" r="2.6"/>
<circle cx="187.6" cy="797.9" r="2.6"/>
<circle cx="216.8" cy="804.0" r="2.6"/>
<circle cx="199.6" cy="804.6" r="2.6"/>
<circle cx="201.2" cy="808.8" r="2.6"/>
<circle cx="179.9" cy="808.0" r="2.6"/>
<circle cx="230.8" cy="810.7" r="2.6"/>
<circle cx="179.2" cy="814.4" r="2.6"/>
<circle cx="176.4" cy="819.0" r="2.6"/>
<circle cx="180.5" cy="820.5" r="2.6"/>
<circle cx="185.1" cy="822.8" r="2.6"/>
<circle cx="182.2" cy="826.6" r="2.6"/>
<circle cx="188.9" cy="816.9" r="2.6"/>
<circle cx="225.7" cy="817.3" r="2.6"/>
<circle cx="237.2" cy="817.7" r="2.6"/>
<circle cx="197.4" cy="823.3" r="2.6"/>
<circle cx="201.2" cy="828.4" r="2.6"/>
<circle cx="197.4" cy="826.2" r="2.6"/>
<circle cx="217.1" cy="824.3" r="2.6"/>
<circle cx="219.6" cy="823.3" r="2.6"/>
<circle cx="228.5" cy="823.7" r="2.6"/>
<circle cx="231.7" cy="824.1" r="2.6"/>
<circle cx="176.7" cy="832.8" r="2.6"/>
<circle cx="185.3" cy="837.0" r="2.6"/>
<circle cx="191.0" cy="836.0" r="2.6"/>
<circle cx="195.7" cy="832.6" r="2.6"/>
<circle cx="222.2" cy="836.4" r="2.6"/>
<circle cx="211.4" cy="840.2" r="2.6"/>
<circle cx="214.8" cy="838.3" r="2.6"/>
<circle cx="172.0" cy="844.0" r="2.6"/>
<circle cx="182.8" cy="843.4" r="2.6"/>
<circle cx="193.6" cy="844.4" r="2.6"/>
<circle cx="197.8" cy="845.7" r="2.6"/>
<circle cx="199.3" cy="840.8" r="2.6"/>
<circle cx="202.5" cy="840.2" r="2.6"/>
<circle cx="225.4" cy="843.1" r="2.6"/>
<circle cx="224.5" cy="847.2" r="2.6"/>
<circle cx="217.7" cy="846.5" r="2.6"/>
<circle cx="219.9" cy="849.7" r="2.6"/>
<circle cx="237.2" cy="848.7" r="2.6"/>
<circle cx="240.0" cy="848.7" r="2.6"/>
<circle cx="187.2" cy="847.8" r="2.6"/>
<circle cx="187.6" cy="851.6" r="2.6"/>
<circle cx="176.7" cy="851.6" r="2.6"/>
<circle cx="177.1" cy="856.1" r="2.6"/>
<circle cx="180.0" cy="854.2" r="2.6"/>
<circle cx="202.1" cy="850.7" r="2.6"/>
<circle cx="232.1" cy="852.5" r="2.6"/>
<circle cx="186.0" cy="857.1" r="2.6"/>
<circle cx="210.1" cy="855.1" r="2.6"/>
<circle cx="219.6" cy="855.4" r="2.6"/>
<circle cx="248.2" cy="866.5" r="2.6"/>
<circle cx="237.4" cy="869.8" r="2.6"/>
<circle cx="258.4" cy="876.7" r="2.6"/>
<circle cx="250.8" cy="889.7" r="2.6"/>
<circle cx="170.7" cy="880.2" r="2.6"/>
<circle cx="248.5" cy="866.5" r="2.6"/>
<circle cx="257.8" cy="876.6" r="2.6"/>
<circle cx="249.8" cy="878.9" r="2.6"/>
<circle cx="245.3" cy="882.5" r="2.6"/>
<circle cx="250.7" cy="890.1" r="2.6"/>
<circle cx="273.8" cy="894.9" r="2.6"/>
<circle cx="274.7" cy="897.6" r="2.6"/>
<circle cx="266.7" cy="899.4" r="2.6"/>
<circle cx="264.9" cy="899.8" r="2.6"/>
<circle cx="285.4" cy="899.4" r="2.6"/>
<circle cx="305.8" cy="884.8" r="2.6"/>
<circle cx="317.9" cy="898.8" r="2.6"/>
<circle cx="347.6" cy="898.5" r="2.6"/>
<circle cx="348.5" cy="898.5" r="2.6"/>
<circle cx="256.0" cy="898.5" r="2.6"/>
<circle cx="259.6" cy="899.4" r="2.6"/>
<circle cx="242.7" cy="878.0" r="2.6"/>
<circle cx="242.7" cy="883.4" r="2.6"/>
<circle cx="242.7" cy="892.3" r="2.6"/>
<circle cx="224.3" cy="859.7" r="2.6"/>
<circle cx="258.9" cy="896.2" r="2.6"/>
<circle cx="214.0" cy="883.2" r="2.6"/>
<circle cx="191.3" cy="861.1" r="2.6"/>
<circle cx="198.0" cy="884.6" r="2.6"/>
<circle cx="191.1" cy="898.6" r="2.6"/>
<circle cx="178.3" cy="859.7" r="2.6"/>
<circle cx="180.0" cy="888.5" r="2.6"/>
<circle cx="205.0" cy="873.6" r="2.6"/>
<circle cx="201.3" cy="881.9" r="2.6"/>
<circle cx="208.4" cy="860.4" r="2.6"/>
<circle cx="210.7" cy="865.2" r="2.6"/>
<circle cx="182.0" cy="891.2" r="2.6"/>
<circle cx="233.2" cy="883.2" r="2.6"/>
<circle cx="206.1" cy="871.1" r="2.6"/>
<circle cx="208.4" cy="883.4" r="2.6"/>
<circle cx="220.2" cy="867.3" r="2.6"/>
<circle cx="174.0" cy="885.2" r="2.6"/>
<circle cx="185.8" cy="851.7" r="2.6"/>
<circle cx="188.3" cy="853.3" r="2.6"/>
<circle cx="185.6" cy="884.2" r="2.6"/>
<circle cx="237.5" cy="868.1" r="2.6"/>
<circle cx="230.7" cy="873.8" r="2.6"/>
<circle cx="216.9" cy="893.8" r="2.6"/>
<circle cx="200.0" cy="893.5" r="2.6"/>
<circle cx="234.2" cy="884.2" r="2.6"/>
<circle cx="174.9" cy="867.3" r="2.6"/>
<circle cx="257.1" cy="893.8" r="2.6"/>
<circle cx="235.5" cy="888.7" r="2.6"/>
<circle cx="244.8" cy="889.6" r="2.6"/>
<circle cx="184.6" cy="858.9" r="2.6"/>
<circle cx="243.3" cy="886.9" r="2.6"/>
<circle cx="202.4" cy="853.4" r="2.6"/>
<circle cx="221.4" cy="884.5" r="2.6"/>
<circle cx="203.5" cy="852.9" r="2.6"/>
<circle cx="197.1" cy="891.2" r="2.6"/>
<circle cx="180.2" cy="896.9" r="2.6"/>
<circle cx="194.5" cy="860.2" r="2.6"/>
<circle cx="182.1" cy="899.1" r="2.6"/>
<circle cx="180.6" cy="882.7" r="2.6"/>
<circle cx="229.0" cy="892.8" r="2.6"/>
<circle cx="213.3" cy="878.5" r="2.6"/>
<circle cx="196.6" cy="883.0" r="2.6"/>
<circle cx="221.7" cy="876.8" r="2.6"/>
<circle cx="202.1" cy="896.8" r="2.6"/>
<circle cx="197.9" cy="883.9" r="2.6"/>
<circle cx="176.9" cy="861.0" r="2.6"/>
<circle cx="182.8" cy="867.1" r="2.6"/>
<circle cx="205.3" cy="872.4" r="2.6"/>
<circle cx="231.9" cy="883.8" r="2.6"/>
<circle cx="233.9" cy="868.2" r="2.6"/>
<circle cx="231.7" cy="877.5" r="2.6"/>
<circle cx="183.5" cy="877.3" r="2.6"/>
<circle cx="200.7" cy="883.8" r="2.6"/>
<circle cx="238.1" cy="862.0" r="2.6"/>
<circle cx="211.2" cy="872.7" r="2.6"/>
<circle cx="198.7" cy="852.0" r="2.6"/>
<circle cx="176.5" cy="899.6" r="2.6"/>
<circle cx="238.6" cy="871.9" r="2.6"/>
<circle cx="232.0" cy="863.4" r="2.6"/>
<circle cx="235.9" cy="897.5" r="2.6"/>
<circle cx="241.6" cy="873.3" r="2.6"/>
<circle cx="177.2" cy="870.6" r="2.6"/>
<circle cx="212.7" cy="863.7" r="2.6"/>
<circle cx="227.5" cy="857.2" r="2.6"/>
<circle cx="239.2" cy="892.9" r="2.6"/>
<circle cx="177.5" cy="884.6" r="2.6"/>
<circle cx="195.9" cy="881.9" r="2.6"/>
<circle cx="234.2" cy="898.8" r="2.6"/>
<circle cx="243.8" cy="866.9" r="2.6"/>
<circle cx="237.7" cy="857.3" r="2.6"/>
<circle cx="236.2" cy="870.9" r="2.6"/>
<circle cx="195.9" cy="861.9" r="2.6"/>
<circle cx="191.5" cy="889.8" r="2.6"/>
<circle cx="180.6" cy="861.6" r="2.6"/>
<circle cx="189.3" cy="857.9" r="2.6"/>
<circle cx="237.7" cy="879.4" r="2.6"/>
<circle cx="231.8" cy="895.0" r="2.6"/>
<circle cx="189.0" cy="875.8" r="2.6"/>
<circle cx="236.4" cy="895.9" r="2.6"/>
<circle cx="218.0" cy="861.3" r="2.6"/>
<circle cx="225.3" cy="896.7" r="2.6"/>
<circle cx="202.0" cy="896.6" r="2.6"/>
<circle cx="215.3" cy="856.4" r="2.6"/>
<circle cx="227.0" cy="885.6" r="2.6"/>
<circle cx="184.1" cy="853.0" r="2.6"/>
<circle cx="197.9" cy="876.5" r="2.6"/>
<circle cx="193.2" cy="886.2" r="2.6"/>
<circle cx="207.0" cy="877.9" r="2.6"/>
<circle cx="185.6" cy="892.7" r="2.6"/>
<circle cx="174.9" cy="865.2" r="2.6"/>
<circle cx="190.0" cy="857.6" r="2.6"/>
<circle cx="186.8" cy="872.0" r="2.6"/>
<circle cx="255.3" cy="894.2" r="2.6"/>
<circle cx="240.2" cy="887.8" r="2.6"/>
<circle cx="189.2" cy="888.9" r="2.6"/>
<circle cx="192.2" cy="876.3" r="2.6"/>
<circle cx="175.0" cy="894.6" r="2.6"/>
<circle cx="183.6" cy="879.6" r="2.6"/>
<circle cx="231.6" cy="882.2" r="2.6"/>
<circle cx="233.4" cy="868.5" r="2.6"/>
<circle cx="243.3" cy="896.9" r="2.6"/>
<circle cx="227.5" cy="899.0" r="2.6"/>
<circle cx="231.5" cy="868.6" r="2.6"/>
<circle cx="183.3" cy="899.3" r="2.6"/>
<circle cx="247.2" cy="895.8" r="2.6"/>
<circle cx="188.8" cy="884.4" r="2.6"/>
<circle cx="243.6" cy="886.3" r="2.6"/>
<circle cx="196.3" cy="898.5" r="2.6"/>
<circle cx="237.5" cy="884.2" r="2.6"/>
<circle cx="197.6" cy="869.9" r="2.6"/>
<circle cx="240.2" cy="875.8" r="2.6"/>
<circle cx="215.9" cy="896.0" r="2.6"/>
<circle cx="209.8" cy="892.9" r="2.6"/>
<circle cx="176.2" cy="876.5" r="2.6"/>
<circle cx="234.7" cy="864.3" r="2.6"/>
<circle cx="228.3" cy="881.2" r="2.6"/>
<circle cx="184.3" cy="897.2" r="2.6"/>
<circle cx="193.8" cy="856.8" r="2.6"/>
<circle cx="181.1" cy="888.1" r="2.6"/>
<circle cx="180.8" cy="877.1" r="2.6"/>
<circle cx="245.3" cy="891.5" r="2.6"/>
<circle cx="186.8" cy="853.8" r="2.6"/>
<circle cx="242.6" cy="893.3" r="2.6"/>
<circle cx="248.8" cy="885.7" r="2.6"/>
<circle cx="217.9" cy="897.9" r="2.6"/>
<circle cx="238.6" cy="888.1" r="2.6"/>
<circle cx="238.7" cy="879.2" r="2.6"/>
<circle cx="236.4" cy="876.5" r="2.6"/>
<circle cx="222.6" cy="864.4" r="2.6"/>
<circle cx="223.0" cy="893.9" r="2.6"/>
<circle cx="184.6" cy="878.0" r="2.6"/>
<circle cx="185.3" cy="875.0" r="2.6"/>
<circle cx="199.5" cy="857.0" r="2.6"/>
<circle cx="186.3" cy="871.2" r="2.6"/>
<circle cx="194.6" cy="883.4" r="2.6"/>
<circle cx="185.9" cy="861.5" r="2.6"/>
<circle cx="236.8" cy="895.5" r="2.6"/>
<circle cx="194.1" cy="893.1" r="2.6"/>
<circle cx="200.8" cy="888.6" r="2.6"/>
<circle cx="224.3" cy="867.5" r="2.6"/>
<circle cx="251.8" cy="884.8" r="2.6"/>
<circle cx="200.7" cy="878.7" r="2.6"/>
<circle cx="198.5" cy="864.3" r="2.6"/>
<circle cx="256.5" cy="898.8" r="2.6"/>
<circle cx="186.2" cy="895.8" r="2.6"/>
<circle cx="181.7" cy="871.8" r="2.6"/>
<circle cx="251.9" cy="893.7" r="2.6"/>
<circle cx="194.6" cy="872.3" r="2.6"/>
<circle cx="181.4" cy="870.7" r="2.6"/>
<circle cx="233.3" cy="893.6" r="2.6"/>
<circle cx="187.8" cy="856.4" r="2.6"/>
<circle cx="225.6" cy="870.3" r="2.6"/>
<circle cx="227.3" cy="884.4" r="2.6"/>
<circle cx="190.4" cy="894.7" r="2.6"/>
<circle cx="249.5" cy="891.1" r="2.6"/>
<circle cx="176.8" cy="868.2" r="2.6"/>
<circle cx="236.5" cy="860.0" r="2.6"/>
<circle cx="250.2" cy="892.9" r="2.6"/>
<circle cx="234.7" cy="874.2" r="2.6"/>
<circle cx="185.5" cy="890.5" r="2.6"/>
<circle cx="187.5" cy="874.8" r="2.6"/>
<circle cx="240.3" cy="881.8" r="2.6"/>
<circle cx="193.2" cy="894.0" r="2.6"/>
<circle cx="200.9" cy="871.0" r="2.6"/>
<circle cx="211.5" cy="885.1" r="2.6"/>
<circle cx="175.5" cy="881.9" r="2.6"/>
<circle cx="215.9" cy="890.0" r="2.6"/>
<circle cx="204.9" cy="878.6" r="2.6"/>
<circle cx="243.3" cy="873.4" r="2.6"/>
<circle cx="199.0" cy="863.7" r="2.6"/>
<circle cx="191.6" cy="892.2" r="2.6"/>
<circle cx="190.2" cy="898.1" r="2.6"/>
<circle cx="218.5" cy="864.3" r="2.6"/>
<circle cx="242.5" cy="879.1" r="2.6"/>
<circle cx="188.5" cy="870.7" r="2.6"/>
<circle cx="200.2" cy="864.1" r="2.6"/>
<circle cx="223.2" cy="887.3" r="2.6"/>
<circle cx="209.4" cy="875.4" r="2.6"/>
<circle cx="205.4" cy="891.3" r="2.6"/>
<circle cx="193.2" cy="866.5" r="2.6"/>
<circle cx="187.4" cy="898.7" r="2.6"/>
<circle cx="220.5" cy="857.6" r="2.6"/>
<circle cx="235.2" cy="876.4" r="2.6"/>
<circle cx="197.9" cy="879.0" r="2.6"/>
<circle cx="179.4" cy="867.1" r="2.6"/>
<circle cx="180.8" cy="891.2" r="2.6"/>
<circle cx="206.4" cy="885.8" r="2.6"/>
<circle cx="202.2" cy="870.8" r="2.6"/>
<circle cx="223.8" cy="863.0" r="2.6"/>
<circle cx="221.2" cy="888.6" r="2.6"/>
<circle cx="178.7" cy="859.9" r="2.6"/>
<circle cx="181.9" cy="876.0" r="2.6"/>
<circle cx="186.5" cy="876.3" r="2.6"/>
<circle cx="197.4" cy="887.5" r="2.6"/>
<circle cx="245.4" cy="898.0" r="2.6"/>
<circle cx="213.7" cy="894.5" r="2.6"/>
<circle cx="260.2" cy="897.9" r="2.6"/>
<circle cx="186.2" cy="887.6" r="2.6"/>
<circle cx="233.9" cy="880.8" r="2.6"/>
<circle cx="236.0" cy="863.9" r="2.6"/>
<circle cx="247.1" cy="886.1" r="2.6"/>
<circle cx="188.5" cy="898.3" r="2.6"/>
<circle cx="231.6" cy="886.1" r="2.6"/>
<circle cx="255.8" cy="894.2" r="2.6"/>
<circle cx="190.4" cy="859.7" r="2.6"/>
<circle cx="179.6" cy="869.5" r="2.6"/>
<circle cx="210.1" cy="869.0" r="2.6"/>
<circle cx="245.9" cy="880.6" r="2.6"/>
<circle cx="244.3" cy="893.1" r="2.6"/>
<circle cx="240.9" cy="875.7" r="2.6"/>
<circle cx="208.8" cy="876.8" r="2.6"/>
<circle cx="213.4" cy="883.4" r="2.6"/>
<circle cx="248.7" cy="883.8" r="2.6"/>
<circle cx="194.9" cy="878.2" r="2.6"/>
<circle cx="181.5" cy="872.5" r="2.6"/>
<circle cx="177.0" cy="895.8" r="2.6"/>
<circle cx="237.2" cy="880.2" r="2.6"/>
<circle cx="202.0" cy="874.1" r="2.6"/>
<circle cx="183.0" cy="881.5" r="2.6"/>
<circle cx="185.1" cy="878.3" r="2.6"/>
<circle cx="233.3" cy="876.3" r="2.6"/>
<circle cx="241.8" cy="886.7" r="2.6"/>
<circle cx="214.6" cy="886.7" r="2.6"/>
<circle cx="219.0" cy="883.6" r="2.6"/>
<circle cx="236.5" cy="889.3" r="2.6"/>
<circle cx="193.1" cy="870.5" r="2.6"/>
<circle cx="241.2" cy="898.6" r="2.6"/>
<circle cx="205.2" cy="891.7" r="2.6"/>
<circle cx="182.6" cy="894.8" r="2.6"/>
<circle cx="182.5" cy="894.0" r="2.6"/>
<circle cx="224.3" cy="895.8" r="2.6"/>
<circle cx="233.0" cy="881.5" r="2.6"/>
<circle cx="184.2" cy="872.5" r="2.6"/>
<circle cx="239.7" cy="888.7" r="2.6"/>
<circle cx="242.9" cy="897.1" r="2.6"/>
<circle cx="204.0" cy="893.1" r="2.6"/>
<circle cx="193.7" cy="872.1" r="2.6"/>
<circle cx="234.2" cy="875.4" r="2.6"/>
<circle cx="183.9" cy="895.5" r="2.6"/>
<circle cx="215.1" cy="892.2" r="2.6"/>
<circle cx="240.2" cy="888.1" r="2.6"/>
<circle cx="186.7" cy="872.1" r="2.6"/>
<circle cx="240.1" cy="883.6" r="2.6"/>
<circle cx="192.3" cy="891.6" r="2.6"/>
<circle cx="219.5" cy="898.5" r="2.6"/>
<circle cx="187.3" cy="891.8" r="2.6"/>
<circle cx="207.8" cy="891.4" r="2.6"/>
<circle cx="185.1" cy="884.1" r="2.6"/>
<circle cx="193.9" cy="870.1" r="2.6"/>
<circle cx="186.0" cy="895.5" r="2.6"/>
<circle cx="189.7" cy="898.9" r="2.6"/>
<circle cx="210.1" cy="888.3" r="2.6"/>
<circle cx="223.0" cy="876.2" r="2.6"/>
<circle cx="203.4" cy="877.3" r="2.6"/>
<circle cx="191.3" cy="879.2" r="2.6"/>
<circle cx="233.5" cy="887.8" r="2.6"/>
<circle cx="191.5" cy="890.4" r="2.6"/>
<circle cx="213.5" cy="899.2" r="2.6"/>
<circle cx="218.3" cy="899.1" r="2.6"/>
<circle cx="205.6" cy="888.0" r="2.6"/>
<circle cx="219.8" cy="886.7" r="2.6"/>
<circle cx="186.0" cy="884.0" r="2.6"/>
<circle cx="215.5" cy="879.4" r="2.6"/>
<circle cx="227.1" cy="889.5" r="2.6"/>
<circle cx="206.0" cy="887.3" r="2.6"/>
<circle cx="240.3" cy="888.3" r="2.6"/>
<circle cx="188.8" cy="886.1" r="2.6"/>
<circle cx="179.9" cy="891.3" r="2.6"/>
<circle cx="198.9" cy="881.7" r="2.6"/>
<circle cx="185.5" cy="891.3" r="2.6"/>
<circle cx="187.1" cy="888.6" r="2.6"/>
<circle cx="188.6" cy="897.2" r="2.6"/>
<circle cx="221.9" cy="886.9" r="2.6"/>
<circle cx="216.3" cy="883.6" r="2.6"/>
<circle cx="247.6" cy="899.2" r="2.6"/>
<circle cx="223.0" cy="892.8" r="2.6"/>
<circle cx="224.0" cy="890.9" r="2.6"/>
<circle cx="241.7" cy="897.0" r="2.6"/>
<circle cx="190.5" cy="891.2" r="2.6"/>
<circle cx="216.9" cy="891.3" r="2.6"/>
<circle cx="224.1" cy="878.0" r="2.6"/>
<circle cx="221.9" cy="874.9" r="2.6"/>
<circle cx="192.3" cy="889.2" r="2.6"/>
<circle cx="183.1" cy="873.8" r="2.6"/>
<circle cx="217.2" cy="873.8" r="2.6"/>
<circle cx="217.7" cy="890.6" r="2.6"/>
<circle cx="190.2" cy="875.1" r="2.6"/>
<circle cx="221.5" cy="882.8" r="2.6"/>
<circle cx="205.6" cy="883.7" r="2.6"/>
<circle cx="228.0" cy="880.2" r="2.6"/>
<circle cx="231.9" cy="892.7" r="2.6"/>
<circle cx="204.6" cy="881.4" r="2.6"/>
<circle cx="243.4" cy="890.9" r="2.6"/>
<circle cx="204.9" cy="870.1" r="2.6"/>
<circle cx="234.9" cy="895.3" r="2.6"/>
<circle cx="214.2" cy="878.5" r="2.6"/>
<circle cx="196.2" cy="869.5" r="2.6"/>
<circle cx="196.3" cy="897.4" r="2.6"/>
<circle cx="202.3" cy="885.0" r="2.6"/>
<circle cx="201.1" cy="898.4" r="2.6"/>
<circle cx="230.1" cy="872.8" r="2.6"/>
<circle cx="195.3" cy="869.0" r="2.6"/>
<circle cx="233.9" cy="898.4" r="2.6"/>
<circle cx="202.5" cy="871.9" r="2.6"/>
<circle cx="186.7" cy="882.6" r="2.6"/>
<circle cx="208.8" cy="881.9" r="2.6"/>
<circle cx="208.7" cy="879.3" r="2.6"/>
<circle cx="203.7" cy="875.7" r="2.6"/>
<circle cx="198.4" cy="887.2" r="2.6"/>
<circle cx="243.7" cy="893.5" r="2.6"/>
<circle cx="223.6" cy="890.5" r="2.6"/>
<circle cx="196.7" cy="871.9" r="2.6"/>
<circle cx="225.1" cy="881.6" r="2.6"/>
<circle cx="208.0" cy="899.2" r="2.6"/>
<circle cx="184.7" cy="897.5" r="2.6"/>
<circle cx="238.0" cy="896.0" r="2.6"/>
<circle cx="232.5" cy="875.5" r="2.6"/>
<circle cx="234.2" cy="894.9" r="2.6"/>
<circle cx="204.0" cy="897.2" r="2.6"/>
<circle cx="213.6" cy="885.8" r="2.6"/>
<circle cx="213.5" cy="895.4" r="2.6"/>
<circle cx="191.6" cy="899.3" r="2.6"/>
<circle cx="224.7" cy="895.3" r="2.6"/>
<circle cx="207.8" cy="896.5" r="2.6"/>
<circle cx="233.6" cy="885.7" r="2.6"/>
<circle cx="242.3" cy="897.5" r="2.6"/>
<circle cx="241.7" cy="892.0" r="2.6"/>
<circle cx="202.5" cy="881.0" r="2.6"/>
<circle cx="216.7" cy="887.3" r="2.6"/>
</g>
<polygon points="190,899 193,888 201,881 211,885 222,883 227,891 226,899" fill="#262626" stroke="#262626" stroke-width="3" stroke-linejoin="round"/>
<g fill="#a6a6a6" stroke="#1a1a1a" stroke-width="1.1">
<circle cx="215.5" cy="891.1" r="2.6"/>
<circle cx="211.6" cy="888.2" r="2.6"/>
<circle cx="222.1" cy="880.5" r="2.6"/>
<circle cx="198.4" cy="890.5" r="2.6"/>
<circle cx="192.7" cy="891.4" r="2.6"/>
<circle cx="201.9" cy="895.6" r="2.6"/>
<circle cx="198.0" cy="895.6" r="2.6"/>
<circle cx="198.5" cy="883.3" r="2.6"/>
<circle cx="209.0" cy="898.6" r="2.6"/>
<circle cx="199.0" cy="893.1" r="2.6"/>
<circle cx="201.6" cy="885.2" r="2.6"/>
<circle cx="196.1" cy="895.7" r="2.6"/>
<circle cx="217.6" cy="893.1" r="2.6"/>
<circle cx="216.6" cy="886.2" r="2.6"/>
<circle cx="191.2" cy="893.1" r="2.6"/>
<circle cx="206.8" cy="886.9" r="2.6"/>
<circle cx="221.0" cy="881.4" r="2.6"/>
<circle cx="196.5" cy="884.4" r="2.6"/>
<circle cx="209.1" cy="894.7" r="2.6"/>
<circle cx="200.5" cy="879.7" r="2.6"/>
<circle cx="198.6" cy="879.7" r="2.6"/>
<circle cx="218.4" cy="895.1" r="2.6"/>
<circle cx="194.1" cy="888.8" r="2.6"/>
<circle cx="202.4" cy="881.3" r="2.6"/>
<circle cx="195.6" cy="891.9" r="2.6"/>
<circle cx="216.4" cy="882.5" r="2.6"/>
<circle cx="207.7" cy="896.3" r="2.6"/>
<circle cx="209.4" cy="894.9" r="2.6"/>
<circle cx="227.0" cy="887.7" r="2.6"/>
<circle cx="212.8" cy="898.2" r="2.6"/>
<circle cx="212.9" cy="885.1" r="2.6"/>
<circle cx="189.9" cy="894.1" r="2.6"/>
<circle cx="189.9" cy="891.2" r="2.6"/>
<circle cx="219.0" cy="890.1" r="2.6"/>
<circle cx="190.8" cy="898.5" r="2.6"/>
<circle cx="208.4" cy="883.9" r="2.6"/>
<circle cx="219.1" cy="896.0" r="2.6"/>
<circle cx="200.8" cy="882.4" r="2.6"/>
<circle cx="195.5" cy="891.7" r="2.6"/>
<circle cx="225.1" cy="883.4" r="2.6"/>
<circle cx="172.0" cy="899.6" r="2.6"/>
<circle cx="176.0" cy="899.6" r="2.6"/>
<circle cx="180.0" cy="899.6" r="2.6"/>
<circle cx="184.0" cy="899.6" r="2.6"/>
<circle cx="188.0" cy="899.6" r="2.6"/>
<circle cx="192.0" cy="899.6" r="2.6"/>
<circle cx="196.0" cy="899.6" r="2.6"/>
<circle cx="200.0" cy="899.6" r="2.6"/>
<circle cx="204.0" cy="899.6" r="2.6"/>
<circle cx="208.0" cy="899.6" r="2.6"/>
<circle cx="212.0" cy="899.6" r="2.6"/>
<circle cx="216.0" cy="899.6" r="2.6"/>
<circle cx="220.0" cy="899.6" r="2.6"/>
<circle cx="224.0" cy="899.6" r="2.6"/>
<circle cx="228.0" cy="899.6" r="2.6"/>
<circle cx="232.0" cy="899.6" r="2.6"/>
<circle cx="236.0" cy="899.6" r="2.6"/>
<circle cx="240.0" cy="899.6" r="2.6"/>
<circle cx="244.0" cy="899.6" r="2.6"/>
<circle cx="248.0" cy="899.6" r="2.6"/>
<circle cx="252.0" cy="899.6" r="2.6"/>
<circle cx="256.0" cy="899.6" r="2.6"/>
</g>
<circle cx="243.6" cy="752" r="3.0" fill="#e01010" stroke="#222" stroke-width="0.8"/>
<text x="250" y="755.5" font-size="9.4" fill="#222">SUCLG1</text>
<line x1="39.4" y1="655.4" x2="39.4" y2="900.6" stroke="#555" stroke-width="1.4"/>
<line x1="38.699999999999996" y1="900.6" x2="377.3" y2="900.6" stroke="#555" stroke-width="1.4"/>
<line x1="32.4" y1="900.5" x2="39.4" y2="900.5" stroke="#555" stroke-width="1.2"/>
<text x="30.599999999999998" y="905.3" font-size="13.5" font-weight="bold" text-anchor="end" fill="#111">0</text>
<line x1="35.4" y1="851.6" x2="39.4" y2="851.6" stroke="#555" stroke-width="1.2"/>
<line x1="32.4" y1="802.7" x2="39.4" y2="802.7" stroke="#555" stroke-width="1.2"/>
<text x="30.599999999999998" y="807.5" font-size="13.5" font-weight="bold" text-anchor="end" fill="#111">1</text>
<line x1="35.4" y1="753.8" x2="39.4" y2="753.8" stroke="#555" stroke-width="1.2"/>
<line x1="32.4" y1="704.9" x2="39.4" y2="704.9" stroke="#555" stroke-width="1.2"/>
<text x="30.599999999999998" y="709.6999999999999" font-size="13.5" font-weight="bold" text-anchor="end" fill="#111">2</text>
<line x1="35.4" y1="656" x2="39.4" y2="656" stroke="#555" stroke-width="1.2"/>
<line x1="95.2" y1="900.6" x2="95.2" y2="906.6" stroke="#555" stroke-width="1.2"/>
<text x="95.2" y="921.6" font-size="13.5" font-weight="bold" text-anchor="middle" fill="#111">-2</text>
<line x1="151.5" y1="900.6" x2="151.5" y2="904.1" stroke="#555" stroke-width="1.2"/>
<line x1="207.7" y1="900.6" x2="207.7" y2="906.6" stroke="#555" stroke-width="1.2"/>
<text x="207.7" y="921.6" font-size="13.5" font-weight="bold" text-anchor="middle" fill="#111">0</text>
<line x1="264" y1="900.6" x2="264" y2="904.1" stroke="#555" stroke-width="1.2"/>
<line x1="320.2" y1="900.6" x2="320.2" y2="906.6" stroke="#555" stroke-width="1.2"/>
<text x="320.2" y="921.6" font-size="13.5" font-weight="bold" text-anchor="middle" fill="#111">2</text>
<line x1="377.3" y1="900.6" x2="377.3" y2="906.6" stroke="#555" stroke-width="1.2"/>
<text x="207.7" y="939" font-size="14.4" text-anchor="middle" fill="#222">Fold change</text>
<text transform="translate(15,778) rotate(-90)" font-size="14.7" text-anchor="middle" fill="#222">-log(10) pval</text>
<text transform="translate(53,677.2) scale(1,1)" font-size="24" font-weight="bold" font-family=""Liberation Sans", sans-serif" fill="#000">e</text>
<line x1="575.3" y1="664.3" x2="575.3" y2="902.1" stroke="#999" stroke-width="1" stroke-dasharray="2.2,2.2"/>
<line x1="640.8" y1="664.3" x2="640.8" y2="902.1" stroke="#999" stroke-width="1" stroke-dasharray="2.2,2.2"/>
<line x1="444" y1="773.9" x2="779.2" y2="773.9" stroke="#999" stroke-width="1" stroke-dasharray="2.2,2.2"/>
<g fill="#a6a6a6" stroke="#1a1a1a" stroke-width="1.1">
<circle cx="580.8" cy="772.5" r="2.6"/>
<circle cx="581.1" cy="786.9" r="2.6"/>
<circle cx="585.1" cy="797.0" r="2.6"/>
<circle cx="621.1" cy="777.7" r="2.6"/>
<circle cx="628.1" cy="782.0" r="2.6"/>
<circle cx="640.5" cy="777.7" r="2.6"/>
<circle cx="654.3" cy="776.2" r="2.6"/>
<circle cx="646.8" cy="784.9" r="2.6"/>
<circle cx="669.0" cy="795.0" r="2.6"/>
<circle cx="673.4" cy="797.9" r="2.6"/>
<circle cx="688.4" cy="793.5" r="2.6"/>
<circle cx="584.7" cy="797.6" r="2.6"/>
<circle cx="507.9" cy="814.8" r="2.6"/>
<circle cx="524.7" cy="824.9" r="2.6"/>
<circle cx="556.7" cy="816.3" r="2.6"/>
<circle cx="556.7" cy="822.4" r="2.6"/>
<circle cx="563.7" cy="820.5" r="2.6"/>
<circle cx="568.5" cy="822.4" r="2.6"/>
<circle cx="568.5" cy="825.3" r="2.6"/>
<circle cx="573.3" cy="824.7" r="2.6"/>
<circle cx="573.8" cy="830.0" r="2.6"/>
<circle cx="567.6" cy="832.9" r="2.6"/>
<circle cx="571.4" cy="837.6" r="2.6"/>
<circle cx="572.3" cy="842.4" r="2.6"/>
<circle cx="559.9" cy="838.2" r="2.6"/>
<circle cx="585.3" cy="840.5" r="2.6"/>
<circle cx="451.9" cy="838.2" r="2.6"/>
<circle cx="459.9" cy="856.3" r="2.6"/>
<circle cx="492.3" cy="851.0" r="2.6"/>
<circle cx="481.4" cy="862.4" r="2.6"/>
<circle cx="501.8" cy="862.0" r="2.6"/>
<circle cx="516.7" cy="852.9" r="2.6"/>
<circle cx="516.7" cy="857.7" r="2.6"/>
<circle cx="523.1" cy="856.3" r="2.6"/>
<circle cx="511.0" cy="863.0" r="2.6"/>
<circle cx="516.7" cy="864.3" r="2.6"/>
<circle cx="525.6" cy="863.9" r="2.6"/>
<circle cx="497.6" cy="871.0" r="2.6"/>
<circle cx="496.7" cy="873.9" r="2.6"/>
<circle cx="471.3" cy="878.0" r="2.6"/>
<circle cx="492.3" cy="881.5" r="2.6"/>
<circle cx="508.1" cy="885.3" r="2.6"/>
<circle cx="514.2" cy="879.6" r="2.6"/>
<circle cx="524.3" cy="882.8" r="2.6"/>
<circle cx="491.9" cy="896.3" r="2.6"/>
<circle cx="492.7" cy="900.2" r="2.6"/>
<circle cx="498.0" cy="900.2" r="2.6"/>
<circle cx="528.5" cy="900.5" r="2.6"/>
<circle cx="543.7" cy="847.6" r="2.6"/>
<circle cx="549.1" cy="844.7" r="2.6"/>
<circle cx="554.8" cy="849.5" r="2.6"/>
<circle cx="556.7" cy="845.3" r="2.6"/>
<circle cx="549.1" cy="857.1" r="2.6"/>
<circle cx="544.7" cy="861.5" r="2.6"/>
<circle cx="562.8" cy="845.3" r="2.6"/>
<circle cx="566.6" cy="846.6" r="2.6"/>
<circle cx="565.6" cy="851.4" r="2.6"/>
<circle cx="571.4" cy="851.0" r="2.6"/>
<circle cx="576.1" cy="851.0" r="2.6"/>
<circle cx="579.9" cy="850.0" r="2.6"/>
<circle cx="559.0" cy="854.8" r="2.6"/>
<circle cx="563.7" cy="857.7" r="2.6"/>
<circle cx="568.5" cy="862.0" r="2.6"/>
<circle cx="556.1" cy="860.5" r="2.6"/>
<circle cx="555.2" cy="866.2" r="2.6"/>
<circle cx="547.5" cy="870.0" r="2.6"/>
<circle cx="544.7" cy="873.9" r="2.6"/>
<circle cx="549.4" cy="876.7" r="2.6"/>
<circle cx="545.6" cy="883.4" r="2.6"/>
<circle cx="541.8" cy="888.2" r="2.6"/>
<circle cx="550.4" cy="886.2" r="2.6"/>
<circle cx="534.2" cy="891.6" r="2.6"/>
<circle cx="538.0" cy="894.8" r="2.6"/>
<circle cx="537.1" cy="899.6" r="2.6"/>
<circle cx="584.8" cy="797.3" r="2.6"/>
<circle cx="621.7" cy="803.0" r="2.6"/>
<circle cx="619.1" cy="808.0" r="2.6"/>
<circle cx="613.0" cy="817.8" r="2.6"/>
<circle cx="623.7" cy="822.3" r="2.6"/>
<circle cx="605.0" cy="822.8" r="2.6"/>
<circle cx="603.9" cy="825.8" r="2.6"/>
<circle cx="592.1" cy="827.4" r="2.6"/>
<circle cx="590.9" cy="834.5" r="2.6"/>
<circle cx="586.3" cy="839.6" r="2.6"/>
<circle cx="584.8" cy="840.6" r="2.6"/>
<circle cx="598.9" cy="843.7" r="2.6"/>
<circle cx="618.4" cy="836.5" r="2.6"/>
<circle cx="627.5" cy="832.4" r="2.6"/>
<circle cx="625.2" cy="842.6" r="2.6"/>
<circle cx="644.3" cy="806.8" r="2.6"/>
<circle cx="646.6" cy="806.8" r="2.6"/>
<circle cx="642.0" cy="813.6" r="2.6"/>
<circle cx="642.0" cy="817.4" r="2.6"/>
<circle cx="647.3" cy="815.9" r="2.6"/>
<circle cx="653.1" cy="803.0" r="2.6"/>
<circle cx="655.0" cy="805.6" r="2.6"/>
<circle cx="669.0" cy="795.6" r="2.6"/>
<circle cx="673.3" cy="798.4" r="2.6"/>
<circle cx="664.6" cy="813.3" r="2.6"/>
<circle cx="656.0" cy="820.8" r="2.6"/>
<circle cx="661.1" cy="827.1" r="2.6"/>
<circle cx="669.0" cy="828.6" r="2.6"/>
<circle cx="677.8" cy="824.3" r="2.6"/>
<circle cx="681.7" cy="833.9" r="2.6"/>
<circle cx="635.9" cy="819.7" r="2.6"/>
<circle cx="636.7" cy="825.8" r="2.6"/>
<circle cx="640.5" cy="824.3" r="2.6"/>
<circle cx="645.8" cy="832.4" r="2.6"/>
<circle cx="641.2" cy="833.5" r="2.6"/>
<circle cx="635.9" cy="835.4" r="2.6"/>
<circle cx="637.9" cy="838.0" r="2.6"/>
<circle cx="648.1" cy="841.1" r="2.6"/>
<circle cx="651.2" cy="844.1" r="2.6"/>
<circle cx="649.6" cy="847.6" r="2.6"/>
<circle cx="676.0" cy="841.1" r="2.6"/>
<circle cx="666.4" cy="847.9" r="2.6"/>
<circle cx="606.2" cy="854.0" r="2.6"/>
<circle cx="612.7" cy="857.6" r="2.6"/>
<circle cx="635.1" cy="843.4" r="2.6"/>
<circle cx="634.4" cy="847.9" r="2.6"/>
<circle cx="642.0" cy="847.2" r="2.6"/>
<circle cx="656.5" cy="855.3" r="2.6"/>
<circle cx="677.8" cy="857.1" r="2.6"/>
<circle cx="678.1" cy="860.6" r="2.6"/>
<circle cx="683.2" cy="864.0" r="2.6"/>
<circle cx="664.1" cy="864.7" r="2.6"/>
<circle cx="671.7" cy="864.7" r="2.6"/>
<circle cx="675.6" cy="864.7" r="2.6"/>
<circle cx="670.2" cy="871.6" r="2.6"/>
<circle cx="668.7" cy="876.9" r="2.6"/>
<circle cx="670.2" cy="881.5" r="2.6"/>
<circle cx="671.7" cy="886.1" r="2.6"/>
<circle cx="657.3" cy="883.0" r="2.6"/>
<circle cx="648.1" cy="886.1" r="2.6"/>
<circle cx="665.6" cy="889.9" r="2.6"/>
<circle cx="660.8" cy="893.4" r="2.6"/>
<circle cx="655.0" cy="894.5" r="2.6"/>
<circle cx="648.1" cy="895.2" r="2.6"/>
<circle cx="670.2" cy="896.0" r="2.6"/>
<circle cx="673.3" cy="899.0" r="2.6"/>
<circle cx="603.9" cy="870.1" r="2.6"/>
<circle cx="612.3" cy="869.3" r="2.6"/>
<circle cx="616.8" cy="867.8" r="2.6"/>
<circle cx="635.9" cy="869.3" r="2.6"/>
<circle cx="640.5" cy="867.8" r="2.6"/>
<circle cx="566.5" cy="821.3" r="2.6"/>
<circle cx="568.8" cy="825.1" r="2.6"/>
<circle cx="573.4" cy="825.1" r="2.6"/>
<circle cx="573.8" cy="830.4" r="2.6"/>
<circle cx="568.0" cy="832.7" r="2.6"/>
<circle cx="571.9" cy="837.6" r="2.6"/>
<circle cx="571.9" cy="842.6" r="2.6"/>
<circle cx="568.0" cy="844.1" r="2.6"/>
<circle cx="688.5" cy="793.9" r="2.6"/>
<circle cx="718.8" cy="806.3" r="2.6"/>
<circle cx="759.4" cy="809.5" r="2.6"/>
<circle cx="691.1" cy="819.6" r="2.6"/>
<circle cx="678.1" cy="824.1" r="2.6"/>
<circle cx="742.2" cy="823.4" r="2.6"/>
<circle cx="681.4" cy="833.8" r="2.6"/>
<circle cx="712.4" cy="833.5" r="2.6"/>
<circle cx="720.5" cy="837.6" r="2.6"/>
<circle cx="676.1" cy="841.2" r="2.6"/>
<circle cx="688.5" cy="844.3" r="2.6"/>
<circle cx="746.9" cy="845.7" r="2.6"/>
<circle cx="736.6" cy="850.2" r="2.6"/>
<circle cx="694.2" cy="850.2" r="2.6"/>
<circle cx="706.6" cy="849.4" r="2.6"/>
<circle cx="689.9" cy="854.7" r="2.6"/>
<circle cx="692.8" cy="854.0" r="2.6"/>
<circle cx="692.8" cy="858.0" r="2.6"/>
<circle cx="701.8" cy="855.0" r="2.6"/>
<circle cx="677.6" cy="857.6" r="2.6"/>
<circle cx="677.6" cy="860.8" r="2.6"/>
<circle cx="676.1" cy="865.1" r="2.6"/>
<circle cx="683.5" cy="864.0" r="2.6"/>
<circle cx="694.9" cy="863.3" r="2.6"/>
<circle cx="696.1" cy="865.7" r="2.6"/>
<circle cx="704.2" cy="863.0" r="2.6"/>
<circle cx="705.6" cy="862.5" r="2.6"/>
<circle cx="721.3" cy="864.0" r="2.6"/>
<circle cx="755.8" cy="876.9" r="2.6"/>
<circle cx="695.6" cy="877.9" r="2.6"/>
<circle cx="702.3" cy="880.3" r="2.6"/>
<circle cx="693.5" cy="887.0" r="2.6"/>
<circle cx="689.5" cy="895.0" r="2.6"/>
<circle cx="713.1" cy="900.0" r="2.6"/>
<circle cx="741.9" cy="900.0" r="2.6"/>
<circle cx="553.7" cy="884.0" r="2.6"/>
<circle cx="555.0" cy="888.5" r="2.6"/>
<circle cx="580.9" cy="873.1" r="2.6"/>
<circle cx="581.4" cy="881.6" r="2.6"/>
<circle cx="547.6" cy="879.9" r="2.6"/>
<circle cx="581.6" cy="879.4" r="2.6"/>
<circle cx="596.9" cy="889.6" r="2.6"/>
<circle cx="567.3" cy="865.7" r="2.6"/>
<circle cx="552.6" cy="893.1" r="2.6"/>
<circle cx="585.7" cy="883.6" r="2.6"/>
<circle cx="571.1" cy="878.5" r="2.6"/>
<circle cx="558.1" cy="879.9" r="2.6"/>
<circle cx="553.6" cy="884.2" r="2.6"/>
<circle cx="582.2" cy="886.5" r="2.6"/>
<circle cx="559.5" cy="859.3" r="2.6"/>
<circle cx="564.6" cy="887.3" r="2.6"/>
<circle cx="575.1" cy="890.1" r="2.6"/>
<circle cx="570.4" cy="873.7" r="2.6"/>
<circle cx="557.2" cy="882.7" r="2.6"/>
<circle cx="582.3" cy="875.3" r="2.6"/>
<circle cx="577.9" cy="875.7" r="2.6"/>
<circle cx="584.5" cy="896.8" r="2.6"/>
<circle cx="593.7" cy="885.0" r="2.6"/>
<circle cx="572.7" cy="899.5" r="2.6"/>
<circle cx="571.4" cy="884.4" r="2.6"/>
<circle cx="596.2" cy="887.1" r="2.6"/>
<circle cx="568.1" cy="889.9" r="2.6"/>
<circle cx="580.4" cy="898.0" r="2.6"/>
<circle cx="581.8" cy="880.1" r="2.6"/>
<circle cx="568.5" cy="899.1" r="2.6"/>
<circle cx="549.3" cy="895.3" r="2.6"/>
<circle cx="597.1" cy="873.1" r="2.6"/>
<circle cx="560.0" cy="887.2" r="2.6"/>
<circle cx="571.4" cy="886.1" r="2.6"/>
<circle cx="558.0" cy="874.5" r="2.6"/>
<circle cx="553.4" cy="877.5" r="2.6"/>
<circle cx="568.0" cy="862.1" r="2.6"/>
<circle cx="569.6" cy="869.9" r="2.6"/>
<circle cx="588.0" cy="874.5" r="2.6"/>
<circle cx="559.4" cy="863.8" r="2.6"/>
<circle cx="562.5" cy="889.9" r="2.6"/>
<circle cx="556.9" cy="876.9" r="2.6"/>
<circle cx="592.6" cy="894.0" r="2.6"/>
<circle cx="572.3" cy="894.6" r="2.6"/>
<circle cx="582.9" cy="865.7" r="2.6"/>
<circle cx="591.6" cy="873.3" r="2.6"/>
<circle cx="594.4" cy="900.5" r="2.6"/>
<circle cx="557.9" cy="885.5" r="2.6"/>
<circle cx="586.4" cy="898.3" r="2.6"/>
<circle cx="586.6" cy="900.1" r="2.6"/>
<circle cx="582.6" cy="877.3" r="2.6"/>
<circle cx="594.4" cy="867.9" r="2.6"/>
<circle cx="590.9" cy="889.2" r="2.6"/>
<circle cx="556.1" cy="899.6" r="2.6"/>
<circle cx="553.4" cy="876.2" r="2.6"/>
<circle cx="580.5" cy="877.7" r="2.6"/>
<circle cx="596.9" cy="899.9" r="2.6"/>
<circle cx="565.1" cy="861.3" r="2.6"/>
<circle cx="599.0" cy="876.3" r="2.6"/>
<circle cx="559.7" cy="861.5" r="2.6"/>
<circle cx="561.6" cy="881.1" r="2.6"/>
<circle cx="589.7" cy="890.5" r="2.6"/>
<circle cx="574.9" cy="881.1" r="2.6"/>
<circle cx="580.3" cy="877.1" r="2.6"/>
<circle cx="561.1" cy="897.4" r="2.6"/>
<circle cx="596.8" cy="888.0" r="2.6"/>
<circle cx="549.7" cy="887.6" r="2.6"/>
<circle cx="551.2" cy="890.3" r="2.6"/>
<circle cx="583.3" cy="864.7" r="2.6"/>
<circle cx="555.4" cy="901.0" r="2.6"/>
<circle cx="558.4" cy="896.5" r="2.6"/>
<circle cx="552.9" cy="870.9" r="2.6"/>
<circle cx="572.9" cy="871.8" r="2.6"/>
<circle cx="573.5" cy="864.6" r="2.6"/>
<circle cx="551.4" cy="887.5" r="2.6"/>
<circle cx="565.0" cy="877.9" r="2.6"/>
<circle cx="585.9" cy="859.2" r="2.6"/>
<circle cx="548.2" cy="887.3" r="2.6"/>
<circle cx="571.7" cy="901.7" r="2.6"/>
<circle cx="594.1" cy="901.5" r="2.6"/>
<circle cx="576.2" cy="900.7" r="2.6"/>
<circle cx="548.3" cy="877.2" r="2.6"/>
<circle cx="595.0" cy="873.4" r="2.6"/>
<circle cx="571.0" cy="876.1" r="2.6"/>
<circle cx="567.4" cy="893.2" r="2.6"/>
<circle cx="564.0" cy="892.8" r="2.6"/>
<circle cx="588.9" cy="893.3" r="2.6"/>
<circle cx="585.2" cy="898.0" r="2.6"/>
<circle cx="594.8" cy="884.8" r="2.6"/>
<circle cx="561.7" cy="859.0" r="2.6"/>
<circle cx="595.7" cy="895.3" r="2.6"/>
<circle cx="597.6" cy="867.5" r="2.6"/>
<circle cx="588.6" cy="898.7" r="2.6"/>
<circle cx="555.3" cy="865.3" r="2.6"/>
<circle cx="585.1" cy="893.6" r="2.6"/>
<circle cx="593.3" cy="887.4" r="2.6"/>
<circle cx="602.7" cy="900.7" r="2.6"/>
<circle cx="570.9" cy="898.3" r="2.6"/>
<circle cx="587.4" cy="866.5" r="2.6"/>
<circle cx="579.5" cy="863.0" r="2.6"/>
<circle cx="568.6" cy="893.2" r="2.6"/>
<circle cx="570.7" cy="868.3" r="2.6"/>
<circle cx="548.8" cy="879.6" r="2.6"/>
<circle cx="564.7" cy="859.6" r="2.6"/>
<circle cx="568.7" cy="886.9" r="2.6"/>
<circle cx="549.7" cy="891.9" r="2.6"/>
<circle cx="549.9" cy="877.1" r="2.6"/>
<circle cx="566.6" cy="895.3" r="2.6"/>
<circle cx="597.7" cy="889.6" r="2.6"/>
<circle cx="562.4" cy="870.3" r="2.6"/>
<circle cx="593.7" cy="879.0" r="2.6"/>
<circle cx="582.5" cy="889.0" r="2.6"/>
<circle cx="556.3" cy="873.1" r="2.6"/>
<circle cx="561.7" cy="883.0" r="2.6"/>
<circle cx="574.5" cy="872.6" r="2.6"/>
<circle cx="598.5" cy="894.7" r="2.6"/>
<circle cx="597.2" cy="889.9" r="2.6"/>
<circle cx="565.5" cy="884.1" r="2.6"/>
<circle cx="577.1" cy="872.3" r="2.6"/>
<circle cx="562.1" cy="885.5" r="2.6"/>
<circle cx="566.0" cy="862.4" r="2.6"/>
<circle cx="566.5" cy="873.3" r="2.6"/>
<circle cx="550.5" cy="885.3" r="2.6"/>
<circle cx="565.3" cy="892.9" r="2.6"/>
<circle cx="559.3" cy="889.5" r="2.6"/>
<circle cx="566.8" cy="900.7" r="2.6"/>
<circle cx="568.8" cy="870.4" r="2.6"/>
<circle cx="554.1" cy="894.0" r="2.6"/>
<circle cx="564.2" cy="896.3" r="2.6"/>
<circle cx="577.9" cy="863.5" r="2.6"/>
<circle cx="589.2" cy="883.3" r="2.6"/>
<circle cx="589.5" cy="899.5" r="2.6"/>
<circle cx="556.6" cy="866.3" r="2.6"/>
<circle cx="590.0" cy="874.6" r="2.6"/>
<circle cx="575.8" cy="862.5" r="2.6"/>
<circle cx="581.1" cy="883.3" r="2.6"/>
<circle cx="579.2" cy="891.6" r="2.6"/>
<circle cx="573.2" cy="897.0" r="2.6"/>
<circle cx="580.1" cy="862.5" r="2.6"/>
<circle cx="593.4" cy="862.9" r="2.6"/>
<circle cx="598.4" cy="898.6" r="2.6"/>
<circle cx="556.5" cy="864.5" r="2.6"/>
<circle cx="586.4" cy="876.5" r="2.6"/>
<circle cx="567.1" cy="890.3" r="2.6"/>
<circle cx="564.8" cy="861.1" r="2.6"/>
<circle cx="577.5" cy="896.2" r="2.6"/>
<circle cx="589.0" cy="870.2" r="2.6"/>
<circle cx="551.1" cy="870.5" r="2.6"/>
<circle cx="575.4" cy="863.3" r="2.6"/>
<circle cx="590.4" cy="870.5" r="2.6"/>
<circle cx="588.8" cy="865.9" r="2.6"/>
<circle cx="574.0" cy="886.0" r="2.6"/>
<circle cx="557.2" cy="868.6" r="2.6"/>
<circle cx="594.5" cy="873.5" r="2.6"/>
<circle cx="565.6" cy="884.0" r="2.6"/>
<circle cx="585.8" cy="895.6" r="2.6"/>
<circle cx="578.3" cy="895.1" r="2.6"/>
<circle cx="597.7" cy="898.6" r="2.6"/>
<circle cx="599.2" cy="887.6" r="2.6"/>
<circle cx="586.1" cy="873.3" r="2.6"/>
<circle cx="551.3" cy="898.4" r="2.6"/>
<circle cx="569.4" cy="870.9" r="2.6"/>
<circle cx="577.4" cy="890.5" r="2.6"/>
<circle cx="591.2" cy="899.2" r="2.6"/>
<circle cx="602.7" cy="899.3" r="2.6"/>
<circle cx="578.7" cy="896.8" r="2.6"/>
<circle cx="579.9" cy="894.9" r="2.6"/>
<circle cx="552.3" cy="890.3" r="2.6"/>
<circle cx="600.3" cy="897.5" r="2.6"/>
<circle cx="572.3" cy="876.1" r="2.6"/>
<circle cx="552.4" cy="895.0" r="2.6"/>
<circle cx="561.0" cy="860.7" r="2.6"/>
<circle cx="551.0" cy="898.8" r="2.6"/>
<circle cx="569.5" cy="892.3" r="2.6"/>
<circle cx="549.1" cy="877.6" r="2.6"/>
<circle cx="589.0" cy="891.3" r="2.6"/>
<circle cx="556.2" cy="877.6" r="2.6"/>
<circle cx="593.0" cy="897.9" r="2.6"/>
<circle cx="550.6" cy="882.6" r="2.6"/>
<circle cx="597.5" cy="884.1" r="2.6"/>
<circle cx="650.8" cy="878.9" r="2.6"/>
<circle cx="632.5" cy="856.0" r="2.6"/>
<circle cx="632.3" cy="900.2" r="2.6"/>
<circle cx="652.2" cy="862.5" r="2.6"/>
<circle cx="640.3" cy="872.3" r="2.6"/>
<circle cx="623.3" cy="873.5" r="2.6"/>
<circle cx="648.1" cy="885.9" r="2.6"/>
<circle cx="627.7" cy="858.5" r="2.6"/>
<circle cx="610.7" cy="898.1" r="2.6"/>
<circle cx="637.0" cy="876.6" r="2.6"/>
<circle cx="631.7" cy="857.4" r="2.6"/>
<circle cx="622.3" cy="900.6" r="2.6"/>
<circle cx="629.9" cy="878.8" r="2.6"/>
<circle cx="658.9" cy="881.9" r="2.6"/>
<circle cx="627.0" cy="875.4" r="2.6"/>
<circle cx="629.9" cy="870.5" r="2.6"/>
<circle cx="637.0" cy="863.5" r="2.6"/>
<circle cx="642.9" cy="871.5" r="2.6"/>
<circle cx="658.0" cy="890.3" r="2.6"/>
<circle cx="639.5" cy="893.2" r="2.6"/>
<circle cx="616.0" cy="889.1" r="2.6"/>
<circle cx="618.8" cy="866.1" r="2.6"/>
<circle cx="638.8" cy="884.5" r="2.6"/>
<circle cx="632.7" cy="892.4" r="2.6"/>
<circle cx="659.6" cy="880.6" r="2.6"/>
<circle cx="628.7" cy="893.0" r="2.6"/>
<circle cx="655.7" cy="864.2" r="2.6"/>
<circle cx="613.3" cy="886.0" r="2.6"/>
<circle cx="653.1" cy="862.6" r="2.6"/>
<circle cx="652.8" cy="881.9" r="2.6"/>
<circle cx="616.1" cy="876.8" r="2.6"/>
<circle cx="657.2" cy="874.8" r="2.6"/>
<circle cx="633.9" cy="869.2" r="2.6"/>
<circle cx="640.8" cy="883.0" r="2.6"/>
<circle cx="622.7" cy="861.4" r="2.6"/>
<circle cx="612.0" cy="887.4" r="2.6"/>
<circle cx="640.4" cy="857.0" r="2.6"/>
<circle cx="655.4" cy="887.2" r="2.6"/>
<circle cx="657.6" cy="883.6" r="2.6"/>
<circle cx="623.5" cy="859.6" r="2.6"/>
<circle cx="625.0" cy="869.8" r="2.6"/>
<circle cx="652.7" cy="870.8" r="2.6"/>
<circle cx="635.0" cy="891.7" r="2.6"/>
<circle cx="635.3" cy="858.9" r="2.6"/>
<circle cx="654.9" cy="887.9" r="2.6"/>
<circle cx="616.1" cy="878.3" r="2.6"/>
<circle cx="651.6" cy="895.6" r="2.6"/>
<circle cx="633.3" cy="895.3" r="2.6"/>
<circle cx="654.0" cy="879.4" r="2.6"/>
<circle cx="656.9" cy="869.5" r="2.6"/>
<circle cx="641.6" cy="872.4" r="2.6"/>
<circle cx="619.4" cy="879.4" r="2.6"/>
<circle cx="623.2" cy="873.6" r="2.6"/>
<circle cx="613.5" cy="874.4" r="2.6"/>
<circle cx="638.8" cy="874.5" r="2.6"/>
<circle cx="639.7" cy="896.4" r="2.6"/>
<circle cx="629.1" cy="894.9" r="2.6"/>
<circle cx="655.5" cy="870.2" r="2.6"/>
<circle cx="617.0" cy="892.8" r="2.6"/>
<circle cx="660.3" cy="886.6" r="2.6"/>
<circle cx="616.3" cy="884.1" r="2.6"/>
<circle cx="636.3" cy="871.8" r="2.6"/>
<circle cx="630.6" cy="874.2" r="2.6"/>
<circle cx="647.3" cy="892.7" r="2.6"/>
<circle cx="614.0" cy="873.6" r="2.6"/>
<circle cx="640.6" cy="888.7" r="2.6"/>
<circle cx="655.6" cy="877.2" r="2.6"/>
<circle cx="633.5" cy="888.4" r="2.6"/>
<circle cx="620.8" cy="870.4" r="2.6"/>
<circle cx="639.8" cy="891.1" r="2.6"/>
<circle cx="655.7" cy="885.0" r="2.6"/>
<circle cx="636.5" cy="891.5" r="2.6"/>
<circle cx="658.7" cy="892.2" r="2.6"/>
<circle cx="624.3" cy="898.9" r="2.6"/>
<circle cx="655.8" cy="867.6" r="2.6"/>
<circle cx="626.8" cy="890.5" r="2.6"/>
<circle cx="616.2" cy="900.5" r="2.6"/>
<circle cx="618.1" cy="898.2" r="2.6"/>
<circle cx="636.5" cy="888.2" r="2.6"/>
<circle cx="635.7" cy="864.1" r="2.6"/>
<circle cx="623.9" cy="857.5" r="2.6"/>
<circle cx="629.7" cy="898.3" r="2.6"/>
<circle cx="641.9" cy="864.3" r="2.6"/>
<circle cx="625.1" cy="869.8" r="2.6"/>
<circle cx="647.1" cy="895.3" r="2.6"/>
<circle cx="617.1" cy="871.4" r="2.6"/>
<circle cx="633.2" cy="863.7" r="2.6"/>
<circle cx="650.4" cy="865.9" r="2.6"/>
<circle cx="652.6" cy="873.2" r="2.6"/>
<circle cx="631.1" cy="867.6" r="2.6"/>
<circle cx="647.9" cy="887.6" r="2.6"/>
<circle cx="635.5" cy="878.5" r="2.6"/>
<circle cx="611.8" cy="890.7" r="2.6"/>
<circle cx="623.1" cy="884.9" r="2.6"/>
<circle cx="656.6" cy="891.0" r="2.6"/>
<circle cx="643.7" cy="899.7" r="2.6"/>
<circle cx="621.6" cy="868.3" r="2.6"/>
<circle cx="641.7" cy="896.9" r="2.6"/>
<circle cx="643.3" cy="893.1" r="2.6"/>
<circle cx="654.4" cy="884.5" r="2.6"/>
<circle cx="636.2" cy="874.4" r="2.6"/>
<circle cx="619.2" cy="899.1" r="2.6"/>
<circle cx="625.5" cy="879.6" r="2.6"/>
<circle cx="631.1" cy="901.0" r="2.6"/>
<circle cx="626.3" cy="895.2" r="2.6"/>
<circle cx="617.2" cy="879.2" r="2.6"/>
<circle cx="620.0" cy="900.4" r="2.6"/>
<circle cx="632.9" cy="866.2" r="2.6"/>
<circle cx="629.2" cy="868.2" r="2.6"/>
<circle cx="618.2" cy="897.5" r="2.6"/>
<circle cx="638.8" cy="896.3" r="2.6"/>
<circle cx="631.6" cy="885.0" r="2.6"/>
<circle cx="653.3" cy="869.4" r="2.6"/>
<circle cx="624.3" cy="871.8" r="2.6"/>
<circle cx="618.9" cy="872.2" r="2.6"/>
<circle cx="640.2" cy="875.8" r="2.6"/>
<circle cx="620.0" cy="869.7" r="2.6"/>
<circle cx="642.9" cy="857.9" r="2.6"/>
<circle cx="612.2" cy="888.4" r="2.6"/>
<circle cx="642.9" cy="892.5" r="2.6"/>
<circle cx="642.0" cy="865.4" r="2.6"/>
<circle cx="653.6" cy="892.4" r="2.6"/>
<circle cx="634.4" cy="898.1" r="2.6"/>
<circle cx="631.7" cy="878.0" r="2.6"/>
<circle cx="612.5" cy="900.5" r="2.6"/>
<circle cx="650.7" cy="896.6" r="2.6"/>
<circle cx="649.1" cy="892.7" r="2.6"/>
<circle cx="639.1" cy="856.1" r="2.6"/>
<circle cx="617.7" cy="885.0" r="2.6"/>
<circle cx="647.6" cy="894.9" r="2.6"/>
</g>
<polygon points="582,901 586,887 600,881 610,885 624,883 631,890 632,901" fill="#262626" stroke="#262626" stroke-width="3" stroke-linejoin="round"/>
<g fill="#a6a6a6" stroke="#1a1a1a" stroke-width="1.1">
<circle cx="611.4" cy="890.7" r="2.6"/>
<circle cx="603.1" cy="896.3" r="2.6"/>
<circle cx="602.5" cy="881.4" r="2.6"/>
<circle cx="634.1" cy="896.9" r="2.6"/>
<circle cx="614.0" cy="887.7" r="2.6"/>
<circle cx="625.4" cy="896.7" r="2.6"/>
<circle cx="582.2" cy="896.3" r="2.6"/>
<circle cx="593.0" cy="896.3" r="2.6"/>
<circle cx="579.8" cy="896.9" r="2.6"/>
<circle cx="588.4" cy="899.3" r="2.6"/>
<circle cx="633.4" cy="890.3" r="2.6"/>
<circle cx="589.8" cy="884.1" r="2.6"/>
<circle cx="628.7" cy="894.0" r="2.6"/>
<circle cx="621.3" cy="897.5" r="2.6"/>
<circle cx="593.2" cy="893.3" r="2.6"/>
<circle cx="581.6" cy="890.9" r="2.6"/>
<circle cx="608.6" cy="893.6" r="2.6"/>
<circle cx="592.2" cy="886.1" r="2.6"/>
<circle cx="620.5" cy="899.8" r="2.6"/>
<circle cx="617.4" cy="889.2" r="2.6"/>
<circle cx="583.1" cy="901.2" r="2.6"/>
<circle cx="591.0" cy="893.1" r="2.6"/>
<circle cx="589.3" cy="900.9" r="2.6"/>
<circle cx="605.1" cy="883.8" r="2.6"/>
<circle cx="625.4" cy="885.3" r="2.6"/>
<circle cx="585.7" cy="887.7" r="2.6"/>
<circle cx="624.6" cy="889.3" r="2.6"/>
<circle cx="632.6" cy="889.8" r="2.6"/>
<circle cx="598.8" cy="895.9" r="2.6"/>
<circle cx="624.3" cy="897.4" r="2.6"/>
<circle cx="629.1" cy="899.9" r="2.6"/>
<circle cx="605.7" cy="882.8" r="2.6"/>
<circle cx="625.6" cy="892.0" r="2.6"/>
<circle cx="582.6" cy="889.8" r="2.6"/>
<circle cx="580.8" cy="891.9" r="2.6"/>
<circle cx="588.6" cy="895.0" r="2.6"/>
<circle cx="602.3" cy="898.9" r="2.6"/>
<circle cx="594.1" cy="900.4" r="2.6"/>
<circle cx="591.3" cy="897.8" r="2.6"/>
<circle cx="616.0" cy="886.7" r="2.6"/>
<circle cx="633.1" cy="899.4" r="2.6"/>
<circle cx="609.1" cy="897.4" r="2.6"/>
<circle cx="609.2" cy="889.1" r="2.6"/>
<circle cx="579.1" cy="901.3" r="2.6"/>
<circle cx="589.4" cy="894.6" r="2.6"/>
<circle cx="582.8" cy="895.0" r="2.6"/>
<circle cx="627.6" cy="889.6" r="2.6"/>
<circle cx="599.0" cy="890.7" r="2.6"/>
<circle cx="632.6" cy="890.6" r="2.6"/>
<circle cx="621.3" cy="897.3" r="2.6"/>
<circle cx="623.0" cy="901.1" r="2.6"/>
<circle cx="621.5" cy="880.5" r="2.6"/>
<circle cx="593.4" cy="890.4" r="2.6"/>
<circle cx="613.0" cy="888.0" r="2.6"/>
<circle cx="619.3" cy="894.0" r="2.6"/>
<circle cx="598.7" cy="885.6" r="2.6"/>
<circle cx="587.1" cy="900.2" r="2.6"/>
<circle cx="589.8" cy="892.0" r="2.6"/>
<circle cx="626.7" cy="891.3" r="2.6"/>
<circle cx="602.5" cy="899.1" r="2.6"/>
<circle cx="582.3" cy="887.7" r="2.6"/>
<circle cx="605.0" cy="899.7" r="2.6"/>
<circle cx="580.3" cy="897.9" r="2.6"/>
<circle cx="592.3" cy="900.9" r="2.6"/>
<circle cx="590.1" cy="890.9" r="2.6"/>
<circle cx="581.3" cy="899.7" r="2.6"/>
<circle cx="632.6" cy="887.0" r="2.6"/>
<circle cx="633.1" cy="890.1" r="2.6"/>
<circle cx="606.4" cy="900.9" r="2.6"/>
<circle cx="631.4" cy="899.2" r="2.6"/>
<circle cx="560.0" cy="900.6" r="2.6"/>
<circle cx="564.0" cy="900.6" r="2.6"/>
<circle cx="568.0" cy="900.6" r="2.6"/>
<circle cx="572.0" cy="900.6" r="2.6"/>
<circle cx="576.0" cy="900.6" r="2.6"/>
<circle cx="580.0" cy="900.6" r="2.6"/>
<circle cx="584.0" cy="900.6" r="2.6"/>
<circle cx="588.0" cy="900.6" r="2.6"/>
<circle cx="592.0" cy="900.6" r="2.6"/>
<circle cx="596.0" cy="900.6" r="2.6"/>
<circle cx="600.0" cy="900.6" r="2.6"/>
<circle cx="604.0" cy="900.6" r="2.6"/>
<circle cx="608.0" cy="900.6" r="2.6"/>
<circle cx="612.0" cy="900.6" r="2.6"/>
<circle cx="616.0" cy="900.6" r="2.6"/>
<circle cx="620.0" cy="900.6" r="2.6"/>
<circle cx="624.0" cy="900.6" r="2.6"/>
<circle cx="628.0" cy="900.6" r="2.6"/>
<circle cx="632.0" cy="900.6" r="2.6"/>
<circle cx="636.0" cy="900.6" r="2.6"/>
<circle cx="640.0" cy="900.6" r="2.6"/>
<circle cx="644.0" cy="900.6" r="2.6"/>
<circle cx="648.0" cy="900.6" r="2.6"/>
<circle cx="652.0" cy="900.6" r="2.6"/>
<circle cx="656.0" cy="900.6" r="2.6"/>
<circle cx="660.0" cy="900.6" r="2.6"/>
</g>
<circle cx="649.4" cy="696.6" r="3.0" fill="#e01010" stroke="#222" stroke-width="0.8"/>
<circle cx="741.1" cy="694" r="3.0" fill="#e84040" stroke="#222" stroke-width="0.8"/>
<circle cx="760.5" cy="722" r="3.0" fill="#e01010" stroke="#222" stroke-width="0.8"/>
<circle cx="678.3" cy="750" r="3.0" fill="#e01010" stroke="#222" stroke-width="0.8"/>
<circle cx="675.4" cy="753.7" r="3.0" fill="#e01010" stroke="#222" stroke-width="0.8"/>
<circle cx="681.1" cy="756" r="3.0" fill="#e01010" stroke="#222" stroke-width="0.8"/>
<circle cx="756.1" cy="769" r="3.0" fill="#e85050" stroke="#222" stroke-width="0.8"/>
<text x="655.2" y="700" font-size="9.6" fill="#222">EFHD2</text>
<text x="748" y="697.6" font-size="9.6" fill="#222">TAP1</text>
<text x="738" y="735.8" font-size="9.6" fill="#222">SUPT6H</text>
<text x="663.8" y="743.8" font-size="9.6" fill="#222">CNPY3</text>
<text x="651.7" y="759.2" font-size="9.6" fill="#222">GNS</text>
<text x="688.9" y="757.4" font-size="9.6" fill="#222">ACLS1</text>
<text x="761.9" y="772.7" font-size="9.6" fill="#222">HBB</text>
<line x1="437.3" y1="655" x2="437.3" y2="902.1" stroke="#555" stroke-width="1.4"/>
<line x1="436.6" y1="902.1" x2="777.5" y2="902.1" stroke="#555" stroke-width="1.4"/>
<line x1="430.3" y1="902" x2="437.3" y2="902" stroke="#555" stroke-width="1.2"/>
<text x="428.5" y="906.8" font-size="13.5" font-weight="bold" text-anchor="end" fill="#111">0</text>
<line x1="433.3" y1="852.5" x2="437.3" y2="852.5" stroke="#555" stroke-width="1.2"/>
<line x1="430.3" y1="802.9" x2="437.3" y2="802.9" stroke="#555" stroke-width="1.2"/>
<text x="428.5" y="807.6999999999999" font-size="13.5" font-weight="bold" text-anchor="end" fill="#111">1</text>
<line x1="433.3" y1="753.4" x2="437.3" y2="753.4" stroke="#555" stroke-width="1.2"/>
<line x1="430.3" y1="703.8" x2="437.3" y2="703.8" stroke="#555" stroke-width="1.2"/>
<text x="428.5" y="708.5999999999999" font-size="13.5" font-weight="bold" text-anchor="end" fill="#111">2</text>
<line x1="433.3" y1="654.5" x2="437.3" y2="654.5" stroke="#555" stroke-width="1.2"/>
<line x1="493.5" y1="902.1" x2="493.5" y2="908.1" stroke="#555" stroke-width="1.2"/>
<text x="493.5" y="923.1" font-size="13.5" font-weight="bold" text-anchor="middle" fill="#111">-2</text>
<line x1="550.4" y1="902.1" x2="550.4" y2="905.6" stroke="#555" stroke-width="1.2"/>
<line x1="607.2" y1="902.1" x2="607.2" y2="908.1" stroke="#555" stroke-width="1.2"/>
<text x="607.2" y="923.1" font-size="13.5" font-weight="bold" text-anchor="middle" fill="#111">0</text>
<line x1="663.9" y1="902.1" x2="663.9" y2="905.6" stroke="#555" stroke-width="1.2"/>
<line x1="720.6" y1="902.1" x2="720.6" y2="908.1" stroke="#555" stroke-width="1.2"/>
<text x="720.6" y="923.1" font-size="13.5" font-weight="bold" text-anchor="middle" fill="#111">2</text>
<line x1="777.3" y1="902.1" x2="777.3" y2="908.1" stroke="#555" stroke-width="1.2"/>
<text x="607" y="940" font-size="14.4" text-anchor="middle" fill="#222">Fold change</text>
<text transform="translate(414,778) rotate(-90)" font-size="14.7" text-anchor="middle" fill="#222">-log(10) pval</text>
<text transform="translate(451.5,677.5) scale(1,1)" font-size="24" font-weight="bold" font-family=""Liberation Sans", sans-serif" fill="#000">f</text>
<line x1="184.2" y1="990.1" x2="184.2" y2="1229.4" stroke="#999" stroke-width="1" stroke-dasharray="2.2,2.2"/>
<line x1="233.6" y1="990.1" x2="233.6" y2="1229.4" stroke="#999" stroke-width="1" stroke-dasharray="2.2,2.2"/>
<line x1="42" y1="1099.5" x2="370.3" y2="1099.5" stroke="#999" stroke-width="1" stroke-dasharray="2.2,2.2"/>
<line x1="41" y1="1228.3" x2="373" y2="1228.3" stroke="#444" stroke-width="1.2" stroke-dasharray="1.5,3.6"/>
<g fill="#a6a6a6" stroke="#1a1a1a" stroke-width="1.1">
<circle cx="218.1" cy="993.1" r="2.6"/>
<circle cx="224.5" cy="1069.0" r="2.6"/>
<circle cx="221.7" cy="1073.0" r="2.6"/>
<circle cx="228.4" cy="1088.9" r="2.6"/>
<circle cx="213.8" cy="1097.1" r="2.6"/>
<circle cx="231.5" cy="1107.2" r="2.6"/>
<circle cx="353.5" cy="1105.6" r="2.6"/>
<circle cx="268.1" cy="1113.0" r="2.6"/>
<circle cx="179.6" cy="1113.6" r="2.6"/>
<circle cx="190.3" cy="1116.3" r="2.6"/>
<circle cx="221.7" cy="1114.5" r="2.6"/>
<circle cx="166.8" cy="1118.8" r="2.6"/>
<circle cx="171.4" cy="1121.8" r="2.6"/>
<circle cx="162.3" cy="1123.3" r="2.6"/>
<circle cx="222.3" cy="1125.5" r="2.6"/>
<circle cx="236.4" cy="1122.7" r="2.6"/>
<circle cx="251.0" cy="1127.9" r="2.6"/>
<circle cx="262.0" cy="1124.9" r="2.6"/>
<circle cx="123.4" cy="1141.8" r="2.6"/>
<circle cx="76.2" cy="1147.2" r="2.6"/>
<circle cx="93.3" cy="1149.1" r="2.6"/>
<circle cx="92.4" cy="1151.0" r="2.6"/>
<circle cx="141.5" cy="1149.6" r="2.6"/>
<circle cx="177.2" cy="1140.5" r="2.6"/>
<circle cx="182.3" cy="1139.0" r="2.6"/>
<circle cx="186.7" cy="1139.9" r="2.6"/>
<circle cx="167.3" cy="1152.9" r="2.6"/>
<circle cx="177.2" cy="1153.5" r="2.6"/>
<circle cx="183.3" cy="1163.4" r="2.6"/>
<circle cx="174.3" cy="1167.2" r="2.6"/>
<circle cx="178.5" cy="1167.6" r="2.6"/>
<circle cx="78.6" cy="1170.6" r="2.6"/>
<circle cx="171.8" cy="1178.2" r="2.6"/>
<circle cx="167.1" cy="1180.9" r="2.6"/>
<circle cx="152.8" cy="1183.4" r="2.6"/>
<circle cx="182.5" cy="1182.4" r="2.6"/>
<circle cx="61.9" cy="1186.2" r="2.6"/>
<circle cx="66.3" cy="1187.6" r="2.6"/>
<circle cx="73.3" cy="1186.2" r="2.6"/>
<circle cx="103.4" cy="1188.1" r="2.6"/>
<circle cx="121.3" cy="1188.5" r="2.6"/>
<circle cx="132.0" cy="1191.6" r="2.6"/>
<circle cx="133.3" cy="1192.0" r="2.6"/>
<circle cx="142.9" cy="1192.9" r="2.6"/>
<circle cx="143.8" cy="1195.8" r="2.6"/>
<circle cx="149.2" cy="1191.6" r="2.6"/>
<circle cx="151.4" cy="1194.8" r="2.6"/>
<circle cx="152.0" cy="1200.0" r="2.6"/>
<circle cx="46.2" cy="1199.2" r="2.6"/>
<circle cx="128.6" cy="1198.0" r="2.6"/>
<circle cx="120.0" cy="1201.5" r="2.6"/>
<circle cx="100.4" cy="1200.0" r="2.6"/>
<circle cx="88.2" cy="1203.0" r="2.6"/>
<circle cx="95.8" cy="1208.7" r="2.6"/>
<circle cx="83.4" cy="1211.0" r="2.6"/>
<circle cx="86.3" cy="1213.5" r="2.6"/>
<circle cx="161.9" cy="1193.9" r="2.6"/>
<circle cx="164.8" cy="1192.3" r="2.6"/>
<circle cx="168.6" cy="1191.0" r="2.6"/>
<circle cx="177.2" cy="1188.1" r="2.6"/>
<circle cx="177.2" cy="1185.9" r="2.6"/>
<circle cx="162.5" cy="1203.8" r="2.6"/>
<circle cx="159.4" cy="1212.0" r="2.6"/>
<circle cx="160.0" cy="1218.3" r="2.6"/>
<circle cx="152.0" cy="1219.6" r="2.6"/>
<circle cx="138.1" cy="1223.0" r="2.6"/>
<circle cx="114.9" cy="1227.2" r="2.6"/>
<circle cx="124.8" cy="1227.2" r="2.6"/>
<circle cx="163.8" cy="1227.8" r="2.6"/>
<circle cx="168.2" cy="1228.2" r="2.6"/>
<circle cx="175.3" cy="1228.2" r="2.6"/>
<circle cx="178.1" cy="1228.2" r="2.6"/>
<circle cx="170.1" cy="1197.7" r="2.6"/>
<circle cx="172.4" cy="1201.5" r="2.6"/>
<circle cx="170.5" cy="1209.1" r="2.6"/>
<circle cx="176.2" cy="1212.9" r="2.6"/>
<circle cx="175.8" cy="1220.5" r="2.6"/>
<circle cx="180.1" cy="1113.8" r="2.6"/>
<circle cx="190.4" cy="1116.0" r="2.6"/>
<circle cx="166.4" cy="1118.7" r="2.6"/>
<circle cx="222.0" cy="1114.5" r="2.6"/>
<circle cx="222.3" cy="1125.1" r="2.6"/>
<circle cx="236.3" cy="1123.0" r="2.6"/>
<circle cx="267.7" cy="1112.8" r="2.6"/>
<circle cx="251.0" cy="1128.2" r="2.6"/>
<circle cx="261.9" cy="1124.7" r="2.6"/>
<circle cx="215.0" cy="1134.9" r="2.6"/>
<circle cx="233.5" cy="1140.3" r="2.6"/>
<circle cx="177.3" cy="1140.5" r="2.6"/>
<circle cx="182.5" cy="1138.7" r="2.6"/>
<circle cx="186.7" cy="1139.8" r="2.6"/>
<circle cx="191.6" cy="1136.6" r="2.6"/>
<circle cx="199.2" cy="1142.6" r="2.6"/>
<circle cx="201.1" cy="1143.8" r="2.6"/>
<circle cx="216.7" cy="1144.2" r="2.6"/>
<circle cx="223.0" cy="1146.6" r="2.6"/>
<circle cx="167.5" cy="1152.6" r="2.6"/>
<circle cx="177.3" cy="1153.6" r="2.6"/>
<circle cx="188.8" cy="1149.8" r="2.6"/>
<circle cx="192.3" cy="1154.7" r="2.6"/>
<circle cx="193.2" cy="1157.5" r="2.6"/>
<circle cx="187.4" cy="1157.8" r="2.6"/>
<circle cx="204.6" cy="1158.9" r="2.6"/>
<circle cx="199.9" cy="1162.4" r="2.6"/>
<circle cx="213.9" cy="1151.6" r="2.6"/>
<circle cx="217.1" cy="1153.0" r="2.6"/>
<circle cx="224.8" cy="1154.7" r="2.6"/>
<circle cx="221.6" cy="1151.2" r="2.6"/>
<circle cx="231.8" cy="1153.3" r="2.6"/>
<circle cx="236.0" cy="1152.6" r="2.6"/>
<circle cx="240.5" cy="1151.4" r="2.6"/>
<circle cx="214.2" cy="1158.9" r="2.6"/>
<circle cx="220.9" cy="1160.3" r="2.6"/>
<circle cx="228.6" cy="1161.0" r="2.6"/>
<circle cx="183.2" cy="1163.1" r="2.6"/>
<circle cx="190.9" cy="1163.8" r="2.6"/>
<circle cx="258.4" cy="1165.6" r="2.6"/>
<circle cx="175.1" cy="1167.0" r="2.6"/>
<circle cx="178.3" cy="1167.3" r="2.6"/>
<circle cx="188.1" cy="1169.4" r="2.6"/>
<circle cx="194.4" cy="1168.7" r="2.6"/>
<circle cx="202.5" cy="1169.8" r="2.6"/>
<circle cx="192.3" cy="1175.7" r="2.6"/>
<circle cx="199.9" cy="1173.6" r="2.6"/>
<circle cx="199.7" cy="1177.8" r="2.6"/>
<circle cx="198.5" cy="1179.9" r="2.6"/>
<circle cx="201.6" cy="1183.4" r="2.6"/>
<circle cx="252.4" cy="1175.4" r="2.6"/>
<circle cx="267.3" cy="1178.8" r="2.6"/>
<circle cx="167.1" cy="1180.6" r="2.6"/>
<circle cx="171.7" cy="1178.5" r="2.6"/>
<circle cx="188.1" cy="1179.2" r="2.6"/>
<circle cx="185.3" cy="1176.4" r="2.6"/>
<circle cx="191.6" cy="1184.1" r="2.6"/>
<circle cx="182.9" cy="1182.7" r="2.6"/>
<circle cx="235.6" cy="1167.3" r="2.6"/>
<circle cx="241.2" cy="1170.1" r="2.6"/>
<circle cx="246.5" cy="1171.5" r="2.6"/>
<circle cx="236.3" cy="1175.7" r="2.6"/>
<circle cx="241.6" cy="1174.6" r="2.6"/>
<circle cx="245.4" cy="1181.4" r="2.6"/>
<circle cx="247.5" cy="1180.6" r="2.6"/>
<circle cx="263.5" cy="1185.5" r="2.6"/>
<circle cx="273.3" cy="1190.8" r="2.6"/>
<circle cx="252.4" cy="1191.8" r="2.6"/>
<circle cx="257.2" cy="1191.8" r="2.6"/>
<circle cx="256.5" cy="1196.4" r="2.6"/>
<circle cx="254.4" cy="1203.6" r="2.6"/>
<circle cx="262.1" cy="1206.0" r="2.6"/>
<circle cx="246.1" cy="1209.2" r="2.6"/>
<circle cx="245.4" cy="1221.8" r="2.6"/>
<circle cx="247.5" cy="1225.3" r="2.6"/>
<circle cx="258.4" cy="1225.3" r="2.6"/>
<circle cx="259.3" cy="1227.5" r="2.6"/>
<circle cx="211.1" cy="1173.6" r="2.6"/>
<circle cx="211.8" cy="1181.6" r="2.6"/>
<circle cx="353.5" cy="1105.7" r="2.6"/>
<circle cx="267.8" cy="1112.8" r="2.6"/>
<circle cx="261.9" cy="1125.0" r="2.6"/>
<circle cx="281.1" cy="1137.1" r="2.6"/>
<circle cx="258.0" cy="1165.6" r="2.6"/>
<circle cx="280.6" cy="1170.9" r="2.6"/>
<circle cx="252.3" cy="1175.9" r="2.6"/>
<circle cx="305.5" cy="1176.6" r="2.6"/>
<circle cx="361.2" cy="1179.0" r="2.6"/>
<circle cx="267.3" cy="1179.0" r="2.6"/>
<circle cx="263.3" cy="1185.7" r="2.6"/>
<circle cx="251.8" cy="1191.8" r="2.6"/>
<circle cx="274.0" cy="1190.9" r="2.6"/>
<circle cx="320.3" cy="1192.8" r="2.6"/>
<circle cx="255.0" cy="1203.9" r="2.6"/>
<circle cx="310.5" cy="1210.6" r="2.6"/>
<circle cx="308.7" cy="1215.1" r="2.6"/>
<circle cx="277.9" cy="1227.5" r="2.6"/>
<circle cx="232.5" cy="1191.5" r="2.6"/>
<circle cx="226.5" cy="1210.7" r="2.6"/>
<circle cx="214.9" cy="1165.4" r="2.6"/>
<circle cx="223.9" cy="1168.4" r="2.6"/>
<circle cx="218.8" cy="1221.4" r="2.6"/>
<circle cx="230.1" cy="1168.2" r="2.6"/>
<circle cx="215.2" cy="1167.4" r="2.6"/>
<circle cx="212.9" cy="1196.1" r="2.6"/>
<circle cx="214.2" cy="1188.3" r="2.6"/>
<circle cx="226.9" cy="1209.9" r="2.6"/>
<circle cx="219.5" cy="1214.2" r="2.6"/>
<circle cx="223.2" cy="1217.1" r="2.6"/>
<circle cx="215.7" cy="1185.5" r="2.6"/>
<circle cx="223.3" cy="1225.3" r="2.6"/>
<circle cx="224.2" cy="1192.8" r="2.6"/>
<circle cx="215.8" cy="1179.4" r="2.6"/>
<circle cx="215.0" cy="1228.1" r="2.6"/>
<circle cx="230.4" cy="1221.7" r="2.6"/>
<circle cx="222.2" cy="1208.9" r="2.6"/>
<circle cx="216.8" cy="1193.2" r="2.6"/>
<circle cx="213.3" cy="1189.0" r="2.6"/>
<circle cx="215.8" cy="1166.9" r="2.6"/>
<circle cx="228.7" cy="1208.3" r="2.6"/>
<circle cx="212.1" cy="1193.5" r="2.6"/>
<circle cx="232.9" cy="1228.1" r="2.6"/>
<circle cx="223.0" cy="1213.3" r="2.6"/>
<circle cx="226.3" cy="1180.1" r="2.6"/>
<circle cx="222.6" cy="1201.2" r="2.6"/>
<circle cx="219.1" cy="1216.5" r="2.6"/>
<circle cx="220.2" cy="1211.7" r="2.6"/>
<circle cx="211.0" cy="1204.6" r="2.6"/>
<circle cx="230.1" cy="1197.5" r="2.6"/>
<circle cx="223.0" cy="1203.0" r="2.6"/>
<circle cx="215.3" cy="1186.7" r="2.6"/>
<circle cx="223.3" cy="1204.6" r="2.6"/>
<circle cx="218.7" cy="1192.9" r="2.6"/>
<circle cx="217.6" cy="1198.2" r="2.6"/>
<circle cx="225.5" cy="1182.6" r="2.6"/>
<circle cx="225.8" cy="1218.6" r="2.6"/>
<circle cx="222.3" cy="1227.6" r="2.6"/>
<circle cx="217.1" cy="1223.4" r="2.6"/>
<circle cx="214.2" cy="1185.1" r="2.6"/>
<circle cx="224.1" cy="1220.1" r="2.6"/>
<circle cx="231.7" cy="1207.1" r="2.6"/>
<circle cx="217.9" cy="1182.9" r="2.6"/>
<circle cx="224.5" cy="1164.6" r="2.6"/>
<circle cx="210.6" cy="1220.8" r="2.6"/>
<circle cx="224.4" cy="1171.2" r="2.6"/>
<circle cx="219.9" cy="1179.9" r="2.6"/>
<circle cx="230.0" cy="1179.8" r="2.6"/>
<circle cx="226.7" cy="1211.3" r="2.6"/>
<circle cx="217.3" cy="1177.4" r="2.6"/>
<circle cx="222.0" cy="1187.6" r="2.6"/>
<circle cx="223.7" cy="1182.6" r="2.6"/>
<circle cx="228.3" cy="1189.0" r="2.6"/>
<circle cx="213.1" cy="1213.4" r="2.6"/>
<circle cx="230.6" cy="1207.0" r="2.6"/>
<circle cx="222.6" cy="1220.2" r="2.6"/>
<circle cx="221.2" cy="1161.3" r="2.6"/>
<circle cx="217.7" cy="1176.7" r="2.6"/>
<circle cx="220.6" cy="1206.7" r="2.6"/>
<circle cx="229.8" cy="1178.0" r="2.6"/>
<circle cx="210.3" cy="1228.9" r="2.6"/>
<circle cx="228.0" cy="1198.0" r="2.6"/>
<circle cx="231.5" cy="1196.5" r="2.6"/>
<circle cx="229.8" cy="1214.1" r="2.6"/>
<circle cx="227.3" cy="1215.6" r="2.6"/>
<circle cx="215.8" cy="1177.0" r="2.6"/>
<circle cx="220.0" cy="1213.0" r="2.6"/>
<circle cx="228.3" cy="1212.3" r="2.6"/>
<circle cx="223.3" cy="1192.9" r="2.6"/>
<circle cx="214.5" cy="1206.0" r="2.6"/>
<circle cx="225.0" cy="1195.5" r="2.6"/>
<circle cx="226.7" cy="1227.6" r="2.6"/>
<circle cx="216.6" cy="1202.3" r="2.6"/>
<circle cx="225.9" cy="1179.6" r="2.6"/>
<circle cx="231.4" cy="1191.8" r="2.6"/>
<circle cx="227.6" cy="1163.6" r="2.6"/>
<circle cx="216.4" cy="1161.6" r="2.6"/>
<circle cx="228.2" cy="1196.0" r="2.6"/>
<circle cx="231.9" cy="1201.9" r="2.6"/>
<circle cx="217.5" cy="1184.6" r="2.6"/>
<circle cx="218.6" cy="1173.7" r="2.6"/>
<circle cx="212.5" cy="1204.8" r="2.6"/>
<circle cx="217.2" cy="1191.3" r="2.6"/>
<circle cx="226.3" cy="1178.9" r="2.6"/>
<circle cx="220.1" cy="1182.3" r="2.6"/>
<circle cx="217.5" cy="1206.0" r="2.6"/>
<circle cx="212.3" cy="1187.6" r="2.6"/>
<circle cx="212.5" cy="1206.2" r="2.6"/>
<circle cx="216.9" cy="1226.6" r="2.6"/>
<circle cx="221.1" cy="1205.7" r="2.6"/>
<circle cx="222.0" cy="1216.6" r="2.6"/>
<circle cx="226.1" cy="1204.2" r="2.6"/>
<circle cx="227.3" cy="1188.4" r="2.6"/>
<circle cx="232.4" cy="1203.9" r="2.6"/>
<circle cx="228.9" cy="1211.4" r="2.6"/>
<circle cx="232.2" cy="1205.4" r="2.6"/>
<circle cx="231.6" cy="1189.4" r="2.6"/>
<circle cx="216.2" cy="1167.6" r="2.6"/>
<circle cx="215.8" cy="1221.7" r="2.6"/>
<circle cx="225.1" cy="1163.0" r="2.6"/>
<circle cx="222.5" cy="1184.9" r="2.6"/>
<circle cx="230.2" cy="1210.0" r="2.6"/>
<circle cx="228.8" cy="1178.6" r="2.6"/>
<circle cx="225.4" cy="1173.6" r="2.6"/>
<circle cx="216.9" cy="1226.0" r="2.6"/>
<circle cx="214.9" cy="1180.2" r="2.6"/>
<circle cx="215.0" cy="1219.9" r="2.6"/>
<circle cx="225.8" cy="1200.8" r="2.6"/>
<circle cx="229.6" cy="1192.0" r="2.6"/>
<circle cx="231.1" cy="1213.6" r="2.6"/>
<circle cx="216.9" cy="1176.3" r="2.6"/>
<circle cx="222.4" cy="1190.8" r="2.6"/>
<circle cx="228.2" cy="1205.0" r="2.6"/>
<circle cx="227.1" cy="1201.6" r="2.6"/>
<circle cx="216.1" cy="1211.3" r="2.6"/>
<circle cx="232.6" cy="1204.0" r="2.6"/>
<circle cx="226.4" cy="1176.1" r="2.6"/>
<circle cx="212.7" cy="1190.9" r="2.6"/>
<circle cx="187.1" cy="1195.7" r="2.6"/>
<circle cx="190.4" cy="1226.6" r="2.6"/>
<circle cx="168.9" cy="1220.5" r="2.6"/>
<circle cx="174.6" cy="1198.3" r="2.6"/>
<circle cx="178.8" cy="1218.3" r="2.6"/>
<circle cx="205.5" cy="1217.0" r="2.6"/>
<circle cx="178.6" cy="1193.3" r="2.6"/>
<circle cx="177.3" cy="1196.9" r="2.6"/>
<circle cx="186.6" cy="1208.9" r="2.6"/>
<circle cx="170.0" cy="1196.6" r="2.6"/>
<circle cx="202.8" cy="1216.7" r="2.6"/>
<circle cx="169.1" cy="1223.6" r="2.6"/>
<circle cx="184.3" cy="1203.8" r="2.6"/>
<circle cx="199.6" cy="1216.2" r="2.6"/>
<circle cx="183.8" cy="1203.7" r="2.6"/>
<circle cx="188.4" cy="1222.2" r="2.6"/>
<circle cx="195.5" cy="1191.6" r="2.6"/>
<circle cx="166.3" cy="1202.7" r="2.6"/>
<circle cx="177.4" cy="1219.9" r="2.6"/>
<circle cx="191.1" cy="1193.7" r="2.6"/>
<circle cx="183.1" cy="1211.6" r="2.6"/>
<circle cx="185.7" cy="1198.6" r="2.6"/>
<circle cx="194.7" cy="1199.5" r="2.6"/>
<circle cx="186.6" cy="1220.9" r="2.6"/>
<circle cx="180.1" cy="1224.9" r="2.6"/>
<circle cx="188.8" cy="1210.2" r="2.6"/>
<circle cx="175.2" cy="1201.5" r="2.6"/>
<circle cx="187.7" cy="1221.6" r="2.6"/>
<circle cx="171.6" cy="1222.7" r="2.6"/>
<circle cx="192.7" cy="1197.7" r="2.6"/>
<circle cx="169.3" cy="1228.0" r="2.6"/>
<circle cx="175.6" cy="1205.0" r="2.6"/>
<circle cx="195.3" cy="1213.0" r="2.6"/>
<circle cx="203.8" cy="1228.0" r="2.6"/>
<circle cx="185.1" cy="1192.4" r="2.6"/>
<circle cx="180.7" cy="1197.1" r="2.6"/>
<circle cx="199.9" cy="1210.6" r="2.6"/>
<circle cx="191.2" cy="1218.6" r="2.6"/>
<circle cx="179.9" cy="1195.4" r="2.6"/>
<circle cx="196.9" cy="1213.9" r="2.6"/>
<circle cx="183.0" cy="1195.6" r="2.6"/>
<circle cx="172.0" cy="1206.4" r="2.6"/>
<circle cx="194.1" cy="1200.3" r="2.6"/>
<circle cx="175.0" cy="1218.6" r="2.6"/>
<circle cx="195.3" cy="1208.6" r="2.6"/>
<circle cx="168.5" cy="1215.8" r="2.6"/>
<circle cx="185.0" cy="1219.3" r="2.6"/>
<circle cx="177.5" cy="1210.9" r="2.6"/>
<circle cx="169.4" cy="1194.8" r="2.6"/>
<circle cx="195.9" cy="1190.1" r="2.6"/>
<circle cx="175.6" cy="1193.5" r="2.6"/>
<circle cx="203.9" cy="1217.2" r="2.6"/>
<circle cx="197.5" cy="1221.6" r="2.6"/>
<circle cx="174.6" cy="1221.5" r="2.6"/>
<circle cx="180.4" cy="1203.9" r="2.6"/>
<circle cx="168.5" cy="1199.5" r="2.6"/>
<circle cx="181.4" cy="1221.4" r="2.6"/>
<circle cx="186.3" cy="1199.3" r="2.6"/>
<circle cx="191.1" cy="1200.4" r="2.6"/>
<circle cx="200.0" cy="1201.7" r="2.6"/>
<circle cx="174.2" cy="1203.9" r="2.6"/>
<circle cx="190.1" cy="1214.4" r="2.6"/>
<circle cx="176.8" cy="1210.3" r="2.6"/>
<circle cx="193.1" cy="1197.0" r="2.6"/>
<circle cx="178.4" cy="1205.7" r="2.6"/>
<circle cx="176.5" cy="1225.0" r="2.6"/>
<circle cx="187.6" cy="1188.2" r="2.6"/>
<circle cx="188.4" cy="1228.0" r="2.6"/>
<circle cx="187.1" cy="1220.3" r="2.6"/>
<circle cx="168.7" cy="1216.1" r="2.6"/>
<circle cx="182.1" cy="1219.2" r="2.6"/>
<circle cx="183.3" cy="1210.9" r="2.6"/>
<circle cx="188.4" cy="1217.6" r="2.6"/>
<circle cx="202.0" cy="1228.0" r="2.6"/>
<circle cx="182.1" cy="1228.5" r="2.6"/>
<circle cx="166.9" cy="1217.6" r="2.6"/>
<circle cx="190.7" cy="1190.3" r="2.6"/>
<circle cx="177.1" cy="1217.4" r="2.6"/>
<circle cx="166.6" cy="1205.2" r="2.6"/>
<circle cx="194.1" cy="1197.0" r="2.6"/>
<circle cx="188.5" cy="1189.8" r="2.6"/>
<circle cx="186.7" cy="1204.2" r="2.6"/>
<circle cx="198.7" cy="1217.1" r="2.6"/>
<circle cx="185.7" cy="1228.6" r="2.6"/>
<circle cx="188.0" cy="1213.3" r="2.6"/>
<circle cx="199.3" cy="1194.7" r="2.6"/>
<circle cx="186.9" cy="1228.7" r="2.6"/>
<circle cx="167.2" cy="1218.4" r="2.6"/>
<circle cx="171.0" cy="1220.0" r="2.6"/>
<circle cx="178.5" cy="1219.0" r="2.6"/>
<circle cx="186.4" cy="1216.5" r="2.6"/>
<circle cx="204.1" cy="1218.4" r="2.6"/>
<circle cx="198.2" cy="1197.0" r="2.6"/>
<circle cx="197.9" cy="1215.1" r="2.6"/>
<circle cx="172.4" cy="1207.7" r="2.6"/>
<circle cx="185.4" cy="1206.0" r="2.6"/>
<circle cx="194.1" cy="1192.0" r="2.6"/>
<circle cx="202.4" cy="1226.4" r="2.6"/>
<circle cx="185.7" cy="1204.1" r="2.6"/>
<circle cx="183.6" cy="1206.2" r="2.6"/>
<circle cx="176.8" cy="1205.9" r="2.6"/>
<circle cx="181.0" cy="1202.1" r="2.6"/>
<circle cx="198.9" cy="1211.4" r="2.6"/>
<circle cx="206.3" cy="1223.7" r="2.6"/>
<circle cx="195.4" cy="1207.9" r="2.6"/>
<circle cx="170.2" cy="1197.2" r="2.6"/>
<circle cx="166.7" cy="1204.9" r="2.6"/>
<circle cx="191.3" cy="1191.3" r="2.6"/>
<circle cx="192.6" cy="1198.7" r="2.6"/>
<circle cx="192.4" cy="1198.1" r="2.6"/>
<circle cx="185.9" cy="1203.8" r="2.6"/>
<circle cx="194.7" cy="1216.8" r="2.6"/>
<circle cx="200.7" cy="1217.7" r="2.6"/>
<circle cx="184.7" cy="1207.7" r="2.6"/>
<circle cx="178.3" cy="1191.5" r="2.6"/>
<circle cx="233.4" cy="1198.9" r="2.6"/>
<circle cx="239.0" cy="1219.9" r="2.6"/>
<circle cx="250.0" cy="1204.3" r="2.6"/>
<circle cx="242.5" cy="1184.9" r="2.6"/>
<circle cx="240.5" cy="1204.4" r="2.6"/>
<circle cx="247.9" cy="1221.8" r="2.6"/>
<circle cx="240.0" cy="1181.4" r="2.6"/>
<circle cx="239.1" cy="1204.0" r="2.6"/>
<circle cx="236.0" cy="1208.5" r="2.6"/>
<circle cx="250.9" cy="1205.7" r="2.6"/>
<circle cx="243.0" cy="1214.0" r="2.6"/>
<circle cx="232.8" cy="1218.1" r="2.6"/>
<circle cx="234.0" cy="1204.4" r="2.6"/>
<circle cx="246.4" cy="1221.3" r="2.6"/>
<circle cx="236.9" cy="1224.1" r="2.6"/>
<circle cx="246.9" cy="1220.4" r="2.6"/>
<circle cx="236.6" cy="1217.8" r="2.6"/>
<circle cx="237.5" cy="1211.6" r="2.6"/>
<circle cx="241.4" cy="1185.7" r="2.6"/>
<circle cx="248.3" cy="1214.6" r="2.6"/>
<circle cx="246.3" cy="1223.4" r="2.6"/>
<circle cx="239.8" cy="1223.9" r="2.6"/>
<circle cx="242.3" cy="1225.7" r="2.6"/>
<circle cx="235.0" cy="1183.1" r="2.6"/>
<circle cx="245.2" cy="1184.9" r="2.6"/>
<circle cx="247.4" cy="1211.3" r="2.6"/>
<circle cx="243.8" cy="1221.9" r="2.6"/>
<circle cx="238.0" cy="1221.8" r="2.6"/>
<circle cx="245.9" cy="1187.9" r="2.6"/>
<circle cx="243.3" cy="1218.7" r="2.6"/>
<circle cx="239.9" cy="1217.6" r="2.6"/>
<circle cx="239.7" cy="1192.2" r="2.6"/>
<circle cx="251.8" cy="1197.3" r="2.6"/>
<circle cx="245.9" cy="1214.8" r="2.6"/>
<circle cx="232.9" cy="1217.8" r="2.6"/>
<circle cx="247.6" cy="1224.2" r="2.6"/>
<circle cx="233.9" cy="1193.5" r="2.6"/>
<circle cx="233.2" cy="1187.9" r="2.6"/>
<circle cx="249.6" cy="1205.8" r="2.6"/>
<circle cx="241.4" cy="1210.2" r="2.6"/>
<circle cx="244.4" cy="1184.9" r="2.6"/>
<circle cx="235.9" cy="1220.7" r="2.6"/>
<circle cx="233.4" cy="1203.1" r="2.6"/>
<circle cx="247.3" cy="1185.2" r="2.6"/>
<circle cx="247.6" cy="1199.4" r="2.6"/>
</g>
<polygon points="194,1228 199,1213 210,1207 222,1209 226,1218 227,1228" fill="#262626" stroke="#262626" stroke-width="3" stroke-linejoin="round"/>
<g fill="#a6a6a6" stroke="#1a1a1a" stroke-width="1.1">
<circle cx="197.1" cy="1226.6" r="2.6"/>
<circle cx="204.9" cy="1223.8" r="2.6"/>
<circle cx="208.3" cy="1222.4" r="2.6"/>
<circle cx="207.2" cy="1218.2" r="2.6"/>
<circle cx="214.2" cy="1199.5" r="2.6"/>
<circle cx="222.4" cy="1211.8" r="2.6"/>
<circle cx="224.3" cy="1199.9" r="2.6"/>
<circle cx="205.4" cy="1214.8" r="2.6"/>
<circle cx="220.1" cy="1212.5" r="2.6"/>
<circle cx="214.8" cy="1206.2" r="2.6"/>
<circle cx="201.3" cy="1221.5" r="2.6"/>
<circle cx="203.9" cy="1221.0" r="2.6"/>
<circle cx="192.8" cy="1215.4" r="2.6"/>
<circle cx="209.7" cy="1199.2" r="2.6"/>
<circle cx="211.2" cy="1221.7" r="2.6"/>
<circle cx="202.6" cy="1215.2" r="2.6"/>
<circle cx="205.6" cy="1201.3" r="2.6"/>
<circle cx="197.1" cy="1213.8" r="2.6"/>
<circle cx="231.7" cy="1218.6" r="2.6"/>
<circle cx="221.1" cy="1221.4" r="2.6"/>
<circle cx="224.9" cy="1209.5" r="2.6"/>
<circle cx="192.4" cy="1219.3" r="2.6"/>
<circle cx="206.3" cy="1227.3" r="2.6"/>
<circle cx="211.4" cy="1222.7" r="2.6"/>
<circle cx="219.2" cy="1224.0" r="2.6"/>
<circle cx="221.5" cy="1226.5" r="2.6"/>
<circle cx="210.0" cy="1200.3" r="2.6"/>
<circle cx="227.9" cy="1212.4" r="2.6"/>
<circle cx="225.3" cy="1208.9" r="2.6"/>
<circle cx="199.4" cy="1223.4" r="2.6"/>
<circle cx="195.3" cy="1224.2" r="2.6"/>
<circle cx="211.4" cy="1205.4" r="2.6"/>
<circle cx="202.2" cy="1220.4" r="2.6"/>
<circle cx="211.6" cy="1210.3" r="2.6"/>
<circle cx="210.4" cy="1198.3" r="2.6"/>
<circle cx="195.5" cy="1225.7" r="2.6"/>
<circle cx="221.0" cy="1200.9" r="2.6"/>
<circle cx="204.7" cy="1226.5" r="2.6"/>
<circle cx="225.9" cy="1218.1" r="2.6"/>
<circle cx="207.1" cy="1213.6" r="2.6"/>
<circle cx="202.8" cy="1219.7" r="2.6"/>
<circle cx="222.9" cy="1201.8" r="2.6"/>
<circle cx="208.8" cy="1200.7" r="2.6"/>
<circle cx="219.4" cy="1201.4" r="2.6"/>
<circle cx="226.7" cy="1209.7" r="2.6"/>
<circle cx="196.0" cy="1224.1" r="2.6"/>
<circle cx="226.9" cy="1222.1" r="2.6"/>
<circle cx="212.7" cy="1222.3" r="2.6"/>
<circle cx="198.9" cy="1213.8" r="2.6"/>
<circle cx="214.3" cy="1225.6" r="2.6"/>
<circle cx="230.4" cy="1220.8" r="2.6"/>
<circle cx="208.6" cy="1214.6" r="2.6"/>
<circle cx="224.1" cy="1205.9" r="2.6"/>
<circle cx="193.5" cy="1212.8" r="2.6"/>
<circle cx="205.8" cy="1228.7" r="2.6"/>
<circle cx="220.9" cy="1228.2" r="2.6"/>
<circle cx="216.1" cy="1220.0" r="2.6"/>
<circle cx="205.8" cy="1202.7" r="2.6"/>
<circle cx="202.0" cy="1209.2" r="2.6"/>
<circle cx="208.5" cy="1209.7" r="2.6"/>
<circle cx="166.0" cy="1228.2" r="2.6"/>
<circle cx="170.0" cy="1228.2" r="2.6"/>
<circle cx="174.0" cy="1228.2" r="2.6"/>
<circle cx="178.0" cy="1228.2" r="2.6"/>
<circle cx="182.0" cy="1228.2" r="2.6"/>
<circle cx="186.0" cy="1228.2" r="2.6"/>
<circle cx="190.0" cy="1228.2" r="2.6"/>
<circle cx="194.0" cy="1228.2" r="2.6"/>
<circle cx="198.0" cy="1228.2" r="2.6"/>
<circle cx="202.0" cy="1228.2" r="2.6"/>
<circle cx="206.0" cy="1228.2" r="2.6"/>
<circle cx="210.0" cy="1228.2" r="2.6"/>
<circle cx="214.0" cy="1228.2" r="2.6"/>
<circle cx="218.0" cy="1228.2" r="2.6"/>
<circle cx="222.0" cy="1228.2" r="2.6"/>
<circle cx="226.0" cy="1228.2" r="2.6"/>
<circle cx="230.0" cy="1228.2" r="2.6"/>
<circle cx="234.0" cy="1228.2" r="2.6"/>
<circle cx="238.0" cy="1228.2" r="2.6"/>
</g>
<circle cx="179.6" cy="1082.8" r="3.0" fill="#3ee03e" stroke="#222" stroke-width="0.8"/>
<circle cx="180.6" cy="1087.3" r="3.0" fill="#3ee03e" stroke="#222" stroke-width="0.8"/>
<circle cx="273.3" cy="1085.8" r="3.0" fill="#e01010" stroke="#222" stroke-width="0.8"/>
<circle cx="305" cy="1096.2" r="3.0" fill="#e01010" stroke="#222" stroke-width="0.8"/>
<text x="157.4" y="1081.6" font-size="9.5" fill="#222">RL35</text>
<text x="152.8" y="1095" font-size="9.5" fill="#222">RL18</text>
<text x="279.4" y="1089" font-size="9.5" fill="#222">GM2A</text>
<text x="310.8" y="1095.3" font-size="9.5" fill="#222">PDHX</text>
<line x1="39.1" y1="985.4" x2="39.1" y2="1235.9" stroke="#555" stroke-width="1.4"/>
<line x1="38.4" y1="1229.4" x2="373.6" y2="1229.4" stroke="#555" stroke-width="1.4"/>
<line x1="32.1" y1="1229.4" x2="39.1" y2="1229.4" stroke="#555" stroke-width="1.2"/>
<text x="30.3" y="1234.2" font-size="13.5" font-weight="bold" text-anchor="end" fill="#111">0</text>
<line x1="35.1" y1="1180.6" x2="39.1" y2="1180.6" stroke="#555" stroke-width="1.2"/>
<line x1="32.1" y1="1131.8" x2="39.1" y2="1131.8" stroke="#555" stroke-width="1.2"/>
<text x="30.3" y="1136.6" font-size="13.5" font-weight="bold" text-anchor="end" fill="#111">1</text>
<line x1="35.1" y1="1083" x2="39.1" y2="1083" stroke="#555" stroke-width="1.2"/>
<line x1="32.1" y1="1034.2" x2="39.1" y2="1034.2" stroke="#555" stroke-width="1.2"/>
<text x="30.3" y="1039.0" font-size="13.5" font-weight="bold" text-anchor="end" fill="#111">2</text>
<line x1="35.1" y1="985.4" x2="39.1" y2="985.4" stroke="#555" stroke-width="1.2"/>
<line x1="39.1" y1="1229.4" x2="39.1" y2="1235.4" stroke="#555" stroke-width="1.2"/>
<text x="39.1" y="1250.4" font-size="13.5" font-weight="bold" text-anchor="middle" fill="#111">-4</text>
<line x1="60" y1="1229.4" x2="60" y2="1232.9" stroke="#555" stroke-width="1.2"/>
<line x1="80.9" y1="1229.4" x2="80.9" y2="1232.9" stroke="#555" stroke-width="1.2"/>
<line x1="101.7" y1="1229.4" x2="101.7" y2="1232.9" stroke="#555" stroke-width="1.2"/>
<line x1="122.4" y1="1229.4" x2="122.4" y2="1235.4" stroke="#555" stroke-width="1.2"/>
<text x="122.4" y="1250.4" font-size="13.5" font-weight="bold" text-anchor="middle" fill="#111">-2</text>
<line x1="143.3" y1="1229.4" x2="143.3" y2="1232.9" stroke="#555" stroke-width="1.2"/>
<line x1="164.2" y1="1229.4" x2="164.2" y2="1232.9" stroke="#555" stroke-width="1.2"/>
<line x1="185.2" y1="1229.4" x2="185.2" y2="1232.9" stroke="#555" stroke-width="1.2"/>
<line x1="206.3" y1="1229.4" x2="206.3" y2="1235.4" stroke="#555" stroke-width="1.2"/>
<text x="206.3" y="1250.4" font-size="13.5" font-weight="bold" text-anchor="middle" fill="#111">0</text>
<line x1="227.1" y1="1229.4" x2="227.1" y2="1232.9" stroke="#555" stroke-width="1.2"/>
<line x1="247.9" y1="1229.4" x2="247.9" y2="1232.9" stroke="#555" stroke-width="1.2"/>
<line x1="268.7" y1="1229.4" x2="268.7" y2="1232.9" stroke="#555" stroke-width="1.2"/>
<line x1="289.5" y1="1229.4" x2="289.5" y2="1235.4" stroke="#555" stroke-width="1.2"/>
<text x="289.5" y="1250.4" font-size="13.5" font-weight="bold" text-anchor="middle" fill="#111">2</text>
<line x1="310.5" y1="1229.4" x2="310.5" y2="1232.9" stroke="#555" stroke-width="1.2"/>
<line x1="331.5" y1="1229.4" x2="331.5" y2="1232.9" stroke="#555" stroke-width="1.2"/>
<line x1="352.6" y1="1229.4" x2="352.6" y2="1232.9" stroke="#555" stroke-width="1.2"/>
<line x1="373.6" y1="1229.4" x2="373.6" y2="1235.4" stroke="#555" stroke-width="1.2"/>
<text x="373.6" y="1250.4" font-size="13.5" font-weight="bold" text-anchor="middle" fill="#111">4</text>
<text x="206" y="1260.5" font-size="14.4" text-anchor="middle" fill="#222">Fold change</text>
<text transform="translate(15,1105) rotate(-90)" font-size="14.7" text-anchor="middle" fill="#222">-log(10) pval</text>
<text transform="translate(52.4,1008) scale(0.86,1)" font-size="25" font-weight="bold" font-family=""Liberation Serif", serif" fill="#000">g</text>
<defs><radialGradient id="g1" cx="0.5" cy="0.5" r="0.5"><stop offset="0.78" stop-color="#8fc0e8"/><stop offset="0.9" stop-color="#b4d7f2"/><stop offset="1" stop-color="#8cbce6"/></radialGradient><radialGradient id="g2" cx="0.5" cy="0.5" r="0.5"><stop offset="0.78" stop-color="#1273c2"/><stop offset="0.9" stop-color="#2b8ed8"/><stop offset="1" stop-color="#1070bf"/></radialGradient><radialGradient id="g3" cx="0.5" cy="0.5" r="0.5"><stop offset="0.78" stop-color="#0a4f88"/><stop offset="0.9" stop-color="#1766a3"/><stop offset="1" stop-color="#0b5290"/></radialGradient></defs>
<g transform="translate(0,0)"><path d="M505.68,1147.90 A48.5,48.5 0 1 1 489.03,1186.19 L499.02,1185.84 A38.5,38.5 0 1 0 512.24,1155.44 Z" fill="#0d5892"/></g>
<path d="M539.84,1083.86 A48,48 0 1 0 495.10,1164.57 L497.35,1154.83 A38,38 0 1 1 532.77,1090.93 Z" fill="#1680d0"/>
<path d="M494.87,1147.31 L496.98,1174.10 L509.35,1161.66 Z" fill="#1680d0"/>
<path d="M488.20,1051.40 A48,48 0 1 1 547.81,1097.97 L545.39,1088.27 A38,38 0 1 0 498.20,1051.40 Z" fill="#98c6ea"/>
<path d="M548.25,1080.50 L545.61,1107.62 L534.66,1095.37 Z" fill="#98c6ea"/>
<text x="537.6" y="1043.2" font-size="9.9" text-anchor="middle" fill="#111" stroke="#111" stroke-width="0.25" >Primary</text>
<text x="537.6" y="1053.4" font-size="9.9" text-anchor="middle" fill="#111" stroke="#111" stroke-width="0.25" >identification</text>
<text x="537.6" y="1063.5" font-size="9.9" text-anchor="middle" fill="#111" stroke="#111" stroke-width="0.25" >(qualitative)</text>
<text x="506.2" y="1108.6" font-size="9.9" text-anchor="middle" fill="#111" stroke="#111" stroke-width="0.25" >One-Way</text>
<text x="506.2" y="1118.6" font-size="9.9" text-anchor="middle" fill="#111" stroke="#111" stroke-width="0.25" >ANOVA</text>
<text x="506.2" y="1128.8" font-size="9.9" text-anchor="middle" fill="#111" stroke="#111" stroke-width="0.25" >(quantitative)</text>
<text x="537.2" y="1175" font-size="9.9" text-anchor="middle" fill="#111" stroke="#111" stroke-width="0.25" >Differentially</text>
<text x="537.2" y="1184.9" font-size="9.9" text-anchor="middle" fill="#111" stroke="#111" stroke-width="0.25" >expressed</text>
<text x="537.2" y="1194.8" font-size="9.9" text-anchor="middle" fill="#111" stroke="#111" stroke-width="0.25" >Proteins</text>
<text x="537.2" y="1204.7" font-size="9.9" text-anchor="middle" fill="#111" stroke="#111" stroke-width="0.25" >(DEP&#8217;s)</text>
<text x="658.2" y="1046.7" font-size="11.6" text-anchor="middle" fill="#111" stroke="#111" stroke-width="0.2">1 peptide</text>
<text x="658.2" y="1060.9" font-size="11.6" text-anchor="middle" fill="#111" stroke="#111" stroke-width="0.2">matching/protein,</text>
<text x="658.2" y="1074.7" font-size="11.6" text-anchor="middle" fill="#111" stroke="#111" stroke-width="0.2">non-unique (1329 )</text>
<text x="664.8" y="1105.2" font-size="11.6" text-anchor="middle" fill="#111" stroke="#111" stroke-width="0.2">2 peptides matching/protein,</text>
<text x="664.6" y="1119" font-size="11.6" text-anchor="middle" fill="#111" stroke="#111" stroke-width="0.2">non-unique each group</text>
<text x="666.1" y="1132.7" font-size="11.6" text-anchor="middle" fill="#111" stroke="#111" stroke-width="0.2"><tspan font-style="italic">vs</tspan> control</text>
<text x="665.8" y="1174.8" font-size="11.6" text-anchor="middle" fill="#111" stroke="#111" stroke-width="0.2">2 peptides matching/protein,</text>
<text x="671.9" y="1188.6" font-size="11.6" text-anchor="middle" fill="#111" stroke="#111" stroke-width="0.2">1 unique (ratio &gt; 1.5) (44)</text>
<text x="453.5" y="994.8" font-size="23" font-weight="bold" fill="#000">h</text>
</svg>
</body></html>
